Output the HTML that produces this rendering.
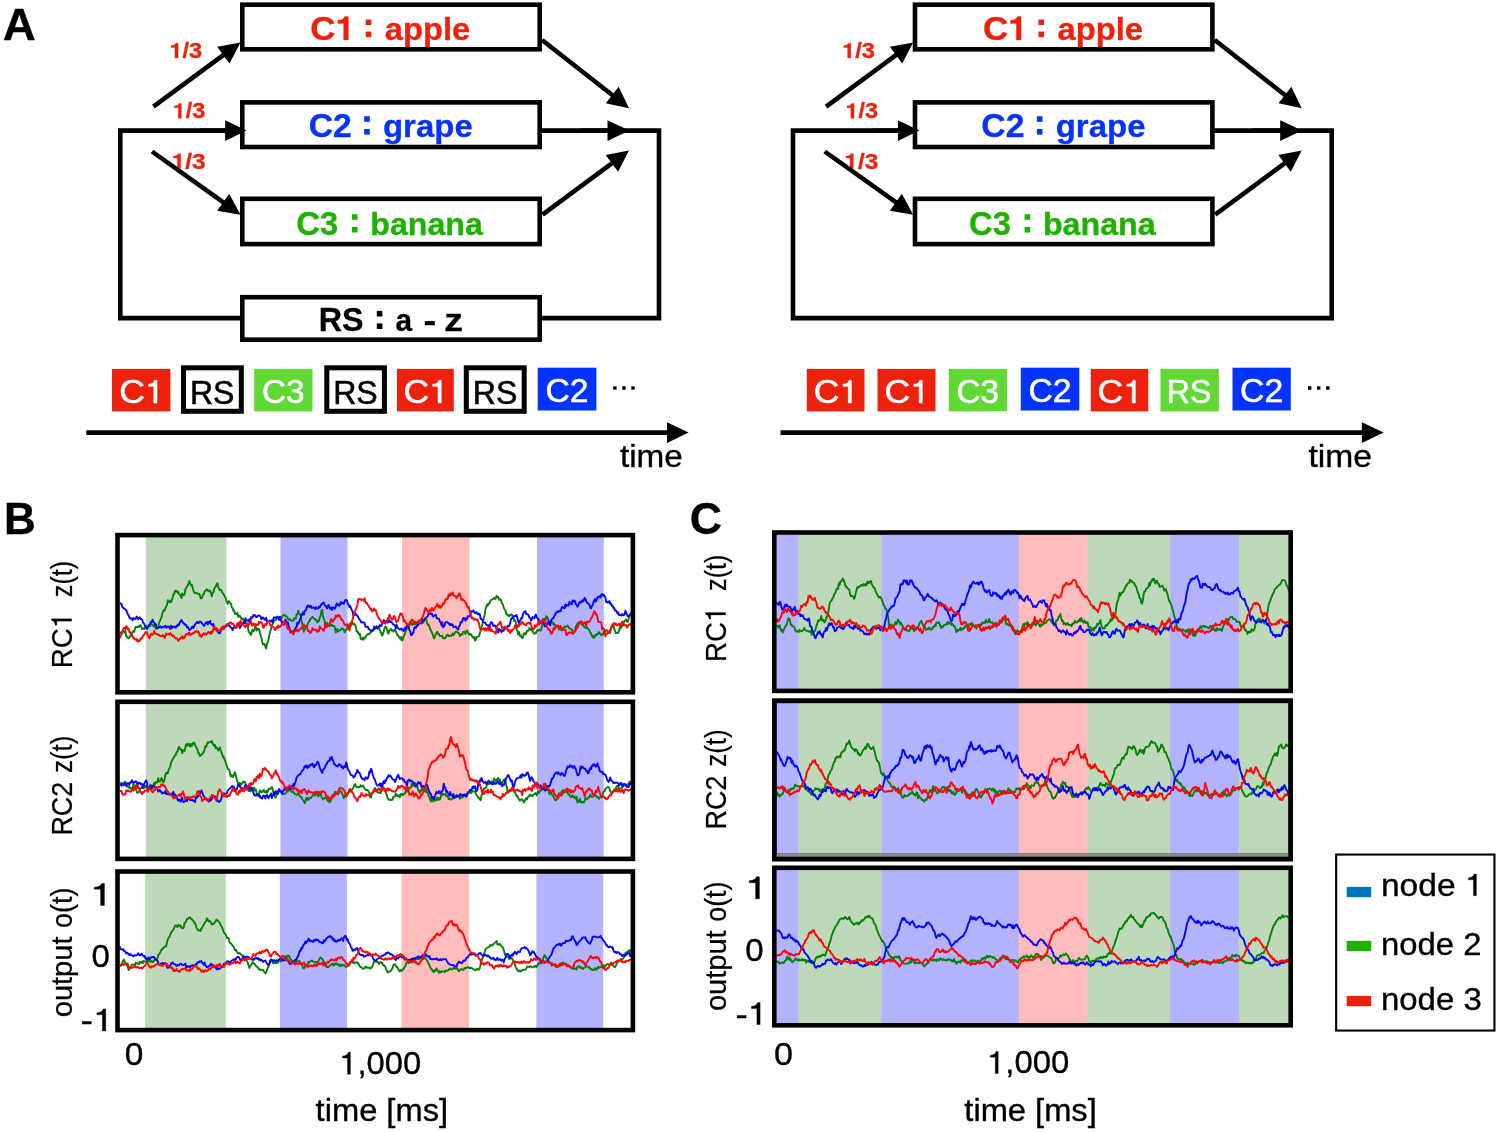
<!DOCTYPE html>
<html><head><meta charset="utf-8"><title>Figure</title>
<style>
html,body{margin:0;padding:0;background:#fff;}
body{width:1499px;height:1132px;overflow:hidden;}
svg{display:block;font-family:"Liberation Sans",sans-serif;}
</style></head><body>
<svg width="1499" height="1132" viewBox="0 0 1499 1132">
<defs><filter id="soft" x="0" y="0" width="100%" height="100%" filterUnits="userSpaceOnUse" color-interpolation-filters="sRGB"><feGaussianBlur stdDeviation="0.65"/></filter></defs>
<rect width="1499" height="1132" fill="#fff"/>
<g filter="url(#soft)">
<rect width="1499" height="1132" fill="#fff"/>
<g transform="translate(0,0)"><path d="M242.0,130.6 H120.3 V318.1 H242.0 M540.0,318.1 H659.0 V130.6 H540.0" fill="none" stroke="#000" stroke-width="4.6" stroke-linejoin="miter"/><rect x="242.30" y="4.70" width="297.40" height="44.60" fill="#fff" stroke="#000" stroke-width="4.6"/><rect x="242.30" y="102.40" width="297.40" height="44.60" fill="#fff" stroke="#000" stroke-width="4.6"/><rect x="242.30" y="198.80" width="297.40" height="45.30" fill="#fff" stroke="#000" stroke-width="4.6"/><rect x="242.30" y="297.20" width="297.40" height="42.50" fill="#fff" stroke="#000" stroke-width="4.6"/><g transform="translate(169.38,58.00) scale(1.1001,1)"><path transform="translate(0.00,0) scale(0.01050,-0.01050)" d="M478 0H759V1409H540C500 1260 370 1190 140 1185V1000H478Z" fill="#ee220c" stroke="#ee220c" stroke-width="28.6"/><text x="11.96" font-size="21.5" font-weight="bold" fill="#ee220c" stroke="#ee220c" stroke-width="0.3" xml:space="preserve">/3</text></g><g transform="translate(172.69,118.20) scale(1.0928,1)"><path transform="translate(0.00,0) scale(0.01050,-0.01050)" d="M478 0H759V1409H540C500 1260 370 1190 140 1185V1000H478Z" fill="#ee220c" stroke="#ee220c" stroke-width="28.6"/><text x="11.96" font-size="21.5" font-weight="bold" fill="#ee220c" stroke="#ee220c" stroke-width="0.3" xml:space="preserve">/3</text></g><g transform="translate(171.63,168.50) scale(1.1363,1)"><path transform="translate(0.00,0) scale(0.01050,-0.01050)" d="M478 0H759V1409H540C500 1260 370 1190 140 1185V1000H478Z" fill="#ee220c" stroke="#ee220c" stroke-width="28.6"/><text x="11.96" font-size="21.5" font-weight="bold" fill="#ee220c" stroke="#ee220c" stroke-width="0.3" xml:space="preserve">/3</text></g><line x1="153.40" y1="106.70" x2="224.96" y2="53.95" stroke="#000" stroke-width="4.6"/><polygon points="240.50,42.50 229.52,63.51 217.18,46.77" fill="#000"/><line x1="152.00" y1="151.50" x2="224.79" y2="203.48" stroke="#000" stroke-width="4.6"/><polygon points="240.50,214.70 217.12,210.78 229.21,193.86" fill="#000"/><line x1="200.00" y1="130.60" x2="227.20" y2="130.60" stroke="#000" stroke-width="4.6"/><polygon points="246.50,130.60 225.20,141.00 225.20,120.20" fill="#000"/><line x1="542.00" y1="40.00" x2="613.81" y2="96.29" stroke="#000" stroke-width="4.6"/><polygon points="629.00,108.20 605.82,103.24 618.65,86.87" fill="#000"/><line x1="542.50" y1="214.70" x2="613.49" y2="162.09" stroke="#000" stroke-width="4.6"/><polygon points="629.00,150.60 618.08,171.64 605.69,154.93" fill="#000"/><line x1="580.00" y1="130.60" x2="609.50" y2="130.60" stroke="#000" stroke-width="4.6"/><polygon points="629.30,130.60 607.50,141.00 607.50,120.20" fill="#000"/><g transform="translate(310.20,40.00) scale(1.0281,1)"><text x="0.00" font-size="34.0" font-weight="bold" fill="#ee220c" stroke="#ee220c" stroke-width="0.3" xml:space="preserve">C</text><path transform="translate(24.55,0) scale(0.01660,-0.01660)" d="M478 0H759V1409H540C500 1260 370 1190 140 1185V1000H478Z" fill="#ee220c" stroke="#ee220c" stroke-width="18.1"/></g><g transform="translate(384.72,40.00) scale(1.0243,1)"><text font-size="32" font-weight="bold" fill="#ee220c" stroke="#ee220c" stroke-width="0.3" xml:space="preserve">apple</text></g><rect x="365.70" y="19.50" width="5.6" height="5.6" fill="#ee220c"/><rect x="365.70" y="31.60" width="5.6" height="5.6" fill="#ee220c"/><g transform="translate(308.65,137.40) scale(0.9923,1)"><text font-size="34.0" font-weight="bold" fill="#0433ff" stroke="#0433ff" stroke-width="0.3" xml:space="preserve">C2</text></g><g transform="translate(382.98,137.40) scale(1.0307,1)"><text font-size="32" font-weight="bold" fill="#0433ff" stroke="#0433ff" stroke-width="0.3" xml:space="preserve">grape</text></g><rect x="364.20" y="116.20" width="5.6" height="5.6" fill="#0433ff"/><rect x="364.20" y="129.00" width="5.6" height="5.6" fill="#0433ff"/><g transform="translate(296.29,234.70) scale(0.9661,1)"><text font-size="34.0" font-weight="bold" fill="#1db100" stroke="#1db100" stroke-width="0.3" xml:space="preserve">C3</text></g><g transform="translate(370.21,234.70) scale(1.0067,1)"><text font-size="32" font-weight="bold" fill="#1db100" stroke="#1db100" stroke-width="0.3" xml:space="preserve">banana</text></g><rect x="351.90" y="214.20" width="5.6" height="5.6" fill="#1db100"/><rect x="351.90" y="226.90" width="5.6" height="5.6" fill="#1db100"/><g transform="translate(318.82,331.40) scale(0.9494,1)"><text font-size="34.0" font-weight="bold" fill="#000" stroke="#000" stroke-width="0.3" xml:space="preserve">RS</text></g><g transform="translate(395.40,331.40) scale(0.9331,1)"><text font-size="32" font-weight="bold" fill="#000" stroke="#000" stroke-width="0.3" xml:space="preserve">a</text></g><g transform="translate(423.48,331.40) scale(1.1881,1)"><text font-size="32" font-weight="bold" fill="#000" stroke="#000" stroke-width="0.3" xml:space="preserve">-</text></g><g transform="translate(444.19,331.40) scale(1.1765,1)"><text font-size="32" font-weight="bold" fill="#000" stroke="#000" stroke-width="0.3" xml:space="preserve">z</text></g><rect x="376.80" y="310.90" width="5.6" height="5.6" fill="#000"/><rect x="376.80" y="323.40" width="5.6" height="5.6" fill="#000"/></g>
<g transform="translate(672.7,0)"><path d="M242.0,130.6 H120.3 V318.1 H659.0 V130.6 H540.0" fill="none" stroke="#000" stroke-width="4.6" stroke-linejoin="miter"/><rect x="242.30" y="4.70" width="297.40" height="44.60" fill="#fff" stroke="#000" stroke-width="4.6"/><rect x="242.30" y="102.40" width="297.40" height="44.60" fill="#fff" stroke="#000" stroke-width="4.6"/><rect x="242.30" y="198.80" width="297.40" height="45.30" fill="#fff" stroke="#000" stroke-width="4.6"/><g transform="translate(169.38,58.00) scale(1.1001,1)"><path transform="translate(0.00,0) scale(0.01050,-0.01050)" d="M478 0H759V1409H540C500 1260 370 1190 140 1185V1000H478Z" fill="#ee220c" stroke="#ee220c" stroke-width="28.6"/><text x="11.96" font-size="21.5" font-weight="bold" fill="#ee220c" stroke="#ee220c" stroke-width="0.3" xml:space="preserve">/3</text></g><g transform="translate(172.69,118.20) scale(1.0928,1)"><path transform="translate(0.00,0) scale(0.01050,-0.01050)" d="M478 0H759V1409H540C500 1260 370 1190 140 1185V1000H478Z" fill="#ee220c" stroke="#ee220c" stroke-width="28.6"/><text x="11.96" font-size="21.5" font-weight="bold" fill="#ee220c" stroke="#ee220c" stroke-width="0.3" xml:space="preserve">/3</text></g><g transform="translate(171.63,168.50) scale(1.1363,1)"><path transform="translate(0.00,0) scale(0.01050,-0.01050)" d="M478 0H759V1409H540C500 1260 370 1190 140 1185V1000H478Z" fill="#ee220c" stroke="#ee220c" stroke-width="28.6"/><text x="11.96" font-size="21.5" font-weight="bold" fill="#ee220c" stroke="#ee220c" stroke-width="0.3" xml:space="preserve">/3</text></g><line x1="153.40" y1="106.70" x2="224.96" y2="53.95" stroke="#000" stroke-width="4.6"/><polygon points="240.50,42.50 229.52,63.51 217.18,46.77" fill="#000"/><line x1="152.00" y1="151.50" x2="224.79" y2="203.48" stroke="#000" stroke-width="4.6"/><polygon points="240.50,214.70 217.12,210.78 229.21,193.86" fill="#000"/><line x1="200.00" y1="130.60" x2="227.20" y2="130.60" stroke="#000" stroke-width="4.6"/><polygon points="246.50,130.60 225.20,141.00 225.20,120.20" fill="#000"/><line x1="542.00" y1="40.00" x2="613.81" y2="96.29" stroke="#000" stroke-width="4.6"/><polygon points="629.00,108.20 605.82,103.24 618.65,86.87" fill="#000"/><line x1="542.50" y1="214.70" x2="613.49" y2="162.09" stroke="#000" stroke-width="4.6"/><polygon points="629.00,150.60 618.08,171.64 605.69,154.93" fill="#000"/><line x1="580.00" y1="130.60" x2="609.50" y2="130.60" stroke="#000" stroke-width="4.6"/><polygon points="629.30,130.60 607.50,141.00 607.50,120.20" fill="#000"/><g transform="translate(310.20,40.00) scale(1.0281,1)"><text x="0.00" font-size="34.0" font-weight="bold" fill="#ee220c" stroke="#ee220c" stroke-width="0.3" xml:space="preserve">C</text><path transform="translate(24.55,0) scale(0.01660,-0.01660)" d="M478 0H759V1409H540C500 1260 370 1190 140 1185V1000H478Z" fill="#ee220c" stroke="#ee220c" stroke-width="18.1"/></g><g transform="translate(384.72,40.00) scale(1.0243,1)"><text font-size="32" font-weight="bold" fill="#ee220c" stroke="#ee220c" stroke-width="0.3" xml:space="preserve">apple</text></g><rect x="365.70" y="19.50" width="5.6" height="5.6" fill="#ee220c"/><rect x="365.70" y="31.60" width="5.6" height="5.6" fill="#ee220c"/><g transform="translate(308.65,137.40) scale(0.9923,1)"><text font-size="34.0" font-weight="bold" fill="#0433ff" stroke="#0433ff" stroke-width="0.3" xml:space="preserve">C2</text></g><g transform="translate(382.98,137.40) scale(1.0307,1)"><text font-size="32" font-weight="bold" fill="#0433ff" stroke="#0433ff" stroke-width="0.3" xml:space="preserve">grape</text></g><rect x="364.20" y="116.20" width="5.6" height="5.6" fill="#0433ff"/><rect x="364.20" y="129.00" width="5.6" height="5.6" fill="#0433ff"/><g transform="translate(296.29,234.70) scale(0.9661,1)"><text font-size="34.0" font-weight="bold" fill="#1db100" stroke="#1db100" stroke-width="0.3" xml:space="preserve">C3</text></g><g transform="translate(370.21,234.70) scale(1.0067,1)"><text font-size="32" font-weight="bold" fill="#1db100" stroke="#1db100" stroke-width="0.3" xml:space="preserve">banana</text></g><rect x="351.90" y="214.20" width="5.6" height="5.6" fill="#1db100"/><rect x="351.90" y="226.90" width="5.6" height="5.6" fill="#1db100"/></g>
<g transform="translate(2.76,39.60) scale(1.0149,1)"><text font-size="45.0" font-weight="bold" fill="#000" stroke="#000" stroke-width="0.3" xml:space="preserve">A</text></g>
<g transform="translate(4.03,534.10) scale(0.9985,1)"><text font-size="44.0" font-weight="bold" fill="#000" stroke="#000" stroke-width="0.3" xml:space="preserve">B</text></g>
<g transform="translate(689.72,533.50) scale(1.0132,1)"><text font-size="44.0" font-weight="bold" fill="#000" stroke="#000" stroke-width="0.3" xml:space="preserve">C</text></g>
<rect x="112.00" y="368.90" width="58.40" height="42.50" fill="#ee220c"/><g transform="translate(119.22,403.00) scale(1.0779,1)"><text x="0.00" font-size="33" fill="#fff" stroke="#fff" stroke-width="0.55" xml:space="preserve">C</text><path transform="translate(23.83,0) scale(0.01611,-0.01611)" d="M515 0H696V1409H560C520 1250 400 1165 210 1160V1035H515Z" fill="#fff" stroke="#fff" stroke-width="34.1"/></g>
<rect x="183.50" y="367.80" width="57.80" height="43.50" fill="#fff" stroke="#000" stroke-width="5.0"/><g transform="translate(189.95,403.60) scale(0.9716,1)"><text font-size="33" fill="#000" stroke="#000" stroke-width="0.55" xml:space="preserve">RS</text></g>
<rect x="254.20" y="368.90" width="58.30" height="42.50" fill="#61d836"/><g transform="translate(261.93,403.00) scale(1.0101,1)"><text font-size="33" fill="#fff" stroke="#fff" stroke-width="0.55" xml:space="preserve">C3</text></g>
<rect x="326.80" y="367.80" width="57.60" height="43.50" fill="#fff" stroke="#000" stroke-width="5.0"/><g transform="translate(333.15,403.60) scale(0.9716,1)"><text font-size="33" fill="#000" stroke="#000" stroke-width="0.55" xml:space="preserve">RS</text></g>
<rect x="397.00" y="368.90" width="56.80" height="42.50" fill="#ee220c"/><g transform="translate(403.42,403.00) scale(1.0779,1)"><text x="0.00" font-size="33" fill="#fff" stroke="#fff" stroke-width="0.55" xml:space="preserve">C</text><path transform="translate(23.83,0) scale(0.01611,-0.01611)" d="M515 0H696V1409H560C520 1250 400 1165 210 1160V1035H515Z" fill="#fff" stroke="#fff" stroke-width="34.1"/></g>
<rect x="466.30" y="367.80" width="57.90" height="43.50" fill="#fff" stroke="#000" stroke-width="5.0"/><g transform="translate(472.80,403.60) scale(0.9716,1)"><text font-size="33" fill="#000" stroke="#000" stroke-width="0.55" xml:space="preserve">RS</text></g>
<rect x="537.70" y="367.70" width="58.70" height="42.80" fill="#0433ff"/><g transform="translate(545.51,402.30) scale(1.0217,1)"><text font-size="33" fill="#fff" stroke="#fff" stroke-width="0.55" xml:space="preserve">C2</text></g>
<rect x="613.20" y="386.30" width="3.4" height="3.4" fill="#000"/><rect x="622.25" y="386.30" width="3.4" height="3.4" fill="#000"/><rect x="631.30" y="386.30" width="3.4" height="3.4" fill="#000"/>
<rect x="806.80" y="368.90" width="57.70" height="42.50" fill="#ee220c"/><g transform="translate(813.67,403.00) scale(1.0779,1)"><text x="0.00" font-size="33" fill="#fff" stroke="#fff" stroke-width="0.55" xml:space="preserve">C</text><path transform="translate(23.83,0) scale(0.01611,-0.01611)" d="M515 0H696V1409H560C520 1250 400 1165 210 1160V1035H515Z" fill="#fff" stroke="#fff" stroke-width="34.1"/></g>
<rect x="877.50" y="368.90" width="58.00" height="42.50" fill="#ee220c"/><g transform="translate(884.52,403.00) scale(1.0779,1)"><text x="0.00" font-size="33" fill="#fff" stroke="#fff" stroke-width="0.55" xml:space="preserve">C</text><path transform="translate(23.83,0) scale(0.01611,-0.01611)" d="M515 0H696V1409H560C520 1250 400 1165 210 1160V1035H515Z" fill="#fff" stroke="#fff" stroke-width="34.1"/></g>
<rect x="948.80" y="368.90" width="58.20" height="42.50" fill="#61d836"/><g transform="translate(956.48,403.00) scale(1.0101,1)"><text font-size="33" fill="#fff" stroke="#fff" stroke-width="0.55" xml:space="preserve">C3</text></g>
<rect x="1020.80" y="367.70" width="58.50" height="42.80" fill="#0433ff"/><g transform="translate(1028.51,402.30) scale(1.0217,1)"><text font-size="33" fill="#fff" stroke="#fff" stroke-width="0.55" xml:space="preserve">C2</text></g>
<rect x="1090.80" y="368.90" width="57.50" height="42.50" fill="#ee220c"/><g transform="translate(1097.57,403.00) scale(1.0779,1)"><text x="0.00" font-size="33" fill="#fff" stroke="#fff" stroke-width="0.55" xml:space="preserve">C</text><path transform="translate(23.83,0) scale(0.01611,-0.01611)" d="M515 0H696V1409H560C520 1250 400 1165 210 1160V1035H515Z" fill="#fff" stroke="#fff" stroke-width="34.1"/></g>
<rect x="1160.50" y="368.90" width="58.30" height="42.50" fill="#61d836"/><g transform="translate(1166.80,403.00) scale(0.9716,1)"><text font-size="33" fill="#fff" stroke="#fff" stroke-width="0.55" xml:space="preserve">RS</text></g>
<rect x="1232.50" y="367.70" width="58.30" height="42.80" fill="#0433ff"/><g transform="translate(1240.11,402.30) scale(1.0217,1)"><text font-size="33" fill="#fff" stroke="#fff" stroke-width="0.55" xml:space="preserve">C2</text></g>
<rect x="1308.00" y="386.30" width="3.4" height="3.4" fill="#000"/><rect x="1317.05" y="386.30" width="3.4" height="3.4" fill="#000"/><rect x="1326.10" y="386.30" width="3.4" height="3.4" fill="#000"/>
<line x1="86.3" y1="432.6" x2="669.0" y2="432.6" stroke="#000" stroke-width="4.8"/><polygon points="688.6,432.6 667.0,422.15000000000003 667.0,443.05" fill="#000"/>
<line x1="780.5" y1="432.6" x2="1363.9" y2="432.6" stroke="#000" stroke-width="4.8"/><polygon points="1383.5,432.6 1361.9,422.15000000000003 1361.9,443.05" fill="#000"/>
<g transform="translate(619.90,467.40) scale(1.0565,1)"><text font-size="31.5" fill="#000" stroke="#000" stroke-width="0.35" xml:space="preserve">time</text></g>
<g transform="translate(1308.50,467.40) scale(1.0669,1)"><text font-size="31.5" fill="#000" stroke="#000" stroke-width="0.35" xml:space="preserve">time</text></g>
<rect x="145.80" y="535.10" width="80.60" height="157.20" fill="#bed9ba"/><rect x="280.50" y="535.10" width="67.00" height="157.20" fill="#b3b3ff"/><rect x="402.00" y="535.10" width="67.50" height="157.20" fill="#ffbcbc"/><rect x="537.00" y="535.10" width="66.80" height="157.20" fill="#b3b3ff"/><path d="M119.8,633.1 L120.6,633.2 L121.4,632.1 L122.2,631.7 L123.0,630.6 L123.8,631.4 L124.6,632.6 L125.4,631.1 L126.2,636.0 L127.0,636.6 L127.8,638.0 L128.6,638.4 L129.4,637.5 L130.2,635.2 L131.0,635.8 L131.8,635.4 L132.6,631.1 L133.4,631.7 L134.2,631.7 L135.0,628.4 L135.8,626.7 L136.6,627.4 L137.4,627.1 L138.2,626.3 L139.0,626.9 L139.8,625.5 L140.6,625.2 L141.4,627.4 L142.2,629.1 L143.0,628.6 L143.8,628.1 L144.6,629.1 L145.4,626.8 L146.2,626.5 L147.0,626.9 L147.8,627.8 L148.6,626.0 L149.4,624.5 L150.2,625.9 L151.0,623.4 L151.8,624.2 L152.6,624.7 L153.4,626.4 L154.2,626.5 L155.0,626.0 L155.8,628.8 L156.6,628.9 L157.4,628.1 L158.2,627.8 L159.0,622.7 L159.8,621.2 L160.6,619.4 L161.4,617.7 L162.2,614.0 L163.0,611.8 L163.8,609.9 L164.6,610.7 L165.4,608.3 L166.2,606.6 L167.0,605.1 L167.8,600.2 L168.6,601.7 L169.4,602.3 L170.2,600.7 L171.0,602.2 L171.8,600.6 L172.6,597.8 L173.4,594.3 L174.2,594.1 L175.0,591.1 L175.8,590.4 L176.6,591.0 L177.4,592.4 L178.2,591.7 L179.0,594.2 L179.8,594.6 L180.6,596.0 L181.4,598.3 L182.2,593.5 L183.0,595.4 L183.8,595.6 L184.6,594.3 L185.4,589.1 L186.2,588.0 L187.0,586.5 L187.8,585.2 L188.6,583.4 L189.4,581.0 L190.2,583.8 L191.0,585.2 L191.8,584.8 L192.6,587.2 L193.4,590.7 L194.2,592.2 L195.0,593.2 L195.8,592.9 L196.6,592.9 L197.4,593.7 L198.2,594.1 L199.0,593.7 L199.8,595.0 L200.6,598.1 L201.4,598.5 L202.2,597.2 L203.0,594.4 L203.8,594.2 L204.6,591.4 L205.4,590.7 L206.2,590.0 L207.0,589.3 L207.8,590.7 L208.6,591.2 L209.4,590.5 L210.2,590.6 L211.0,593.2 L211.8,596.3 L212.6,593.0 L213.4,592.6 L214.2,588.9 L215.0,587.4 L215.8,586.6 L216.6,584.0 L217.4,583.2 L218.2,586.5 L219.0,588.7 L219.8,590.0 L220.6,589.8 L221.4,590.5 L222.2,592.3 L223.0,593.5 L223.8,594.9 L224.6,595.9 L225.4,597.4 L226.2,600.1 L227.0,602.0 L227.8,604.0 L228.6,601.3 L229.4,601.6 L230.2,603.1 L231.0,603.8 L231.8,607.5 L232.6,608.0 L233.4,610.9 L234.2,610.8 L235.0,613.9 L235.8,613.4 L236.6,614.2 L237.4,612.8 L238.2,616.9 L239.0,616.5 L239.8,615.6 L240.6,617.1 L241.4,619.3 L242.2,618.4 L243.0,618.5 L243.8,621.8 L244.6,620.8 L245.4,622.5 L246.2,624.0 L247.0,623.2 L247.8,625.2 L248.6,631.9 L249.4,632.3 L250.2,633.7 L251.0,635.0 L251.8,631.7 L252.6,629.6 L253.4,631.3 L254.2,630.3 L255.0,627.6 L255.8,626.4 L256.6,630.6 L257.4,629.4 L258.2,628.5 L259.0,629.2 L259.8,632.1 L260.6,635.5 L261.4,637.7 L262.2,641.9 L263.0,644.4 L263.8,643.9 L264.6,644.0 L265.4,647.1 L266.2,648.5 L267.0,643.9 L267.8,642.2 L268.6,639.3 L269.4,634.7 L270.2,631.1 L271.0,629.4 L271.8,625.5 L272.6,623.9 L273.4,622.8 L274.2,620.5 L275.0,620.2 L275.8,620.4 L276.6,618.9 L277.4,617.0 L278.2,617.0 L279.0,618.1 L279.8,616.9 L280.6,618.2 L281.4,618.3 L282.2,616.3 L283.0,615.5 L283.8,614.8 L284.6,614.9 L285.4,616.0 L286.2,616.1 L287.0,616.8 L287.8,618.1 L288.6,619.9 L289.4,619.2 L290.2,619.4 L291.0,620.2 L291.8,621.1 L292.6,620.9 L293.4,620.6 L294.2,618.1 L295.0,618.6 L295.8,618.7 L296.6,614.5 L297.4,614.3 L298.2,610.8 L299.0,612.8 L299.8,614.7 L300.6,614.3 L301.4,620.4 L302.2,623.6 L303.0,628.3 L303.8,631.7 L304.6,629.4 L305.4,627.4 L306.2,625.9 L307.0,625.6 L307.8,624.0 L308.6,622.0 L309.4,621.2 L310.2,619.8 L311.0,618.1 L311.8,618.1 L312.6,616.8 L313.4,617.8 L314.2,618.6 L315.0,619.0 L315.8,620.4 L316.6,620.0 L317.4,622.5 L318.2,621.3 L319.0,620.9 L319.8,617.2 L320.6,615.7 L321.4,610.9 L322.2,609.7 L323.0,616.3 L323.8,618.4 L324.6,621.0 L325.4,626.5 L326.2,627.1 L327.0,622.6 L327.8,625.3 L328.6,624.9 L329.4,626.3 L330.2,626.1 L331.0,624.2 L331.8,624.9 L332.6,626.1 L333.4,625.9 L334.2,626.0 L335.0,628.0 L335.8,632.6 L336.6,631.1 L337.4,628.9 L338.2,631.4 L339.0,630.6 L339.8,630.3 L340.6,629.9 L341.4,628.8 L342.2,628.5 L343.0,628.5 L343.8,629.9 L344.6,632.3 L345.4,630.2 L346.2,630.0 L347.0,628.7 L347.8,627.9 L348.6,627.0 L349.4,626.2 L350.2,623.1 L351.0,625.4 L351.8,621.2 L352.6,622.8 L353.4,624.6 L354.2,623.8 L355.0,624.6 L355.8,626.8 L356.6,631.5 L357.4,631.3 L358.2,632.8 L359.0,634.5 L359.8,633.6 L360.6,638.5 L361.4,639.2 L362.2,638.0 L363.0,639.8 L363.8,637.6 L364.6,638.6 L365.4,637.5 L366.2,635.4 L367.0,635.0 L367.8,634.0 L368.6,634.3 L369.4,634.2 L370.2,632.7 L371.0,632.4 L371.8,631.0 L372.6,630.9 L373.4,629.9 L374.2,628.4 L375.0,628.9 L375.8,628.3 L376.6,625.9 L377.4,628.8 L378.2,628.5 L379.0,627.7 L379.8,630.1 L380.6,632.2 L381.4,632.9 L382.2,635.7 L383.0,633.8 L383.8,631.2 L384.6,628.0 L385.4,626.5 L386.2,627.2 L387.0,628.8 L387.8,632.8 L388.6,633.6 L389.4,630.6 L390.2,629.7 L391.0,629.0 L391.8,630.5 L392.6,630.2 L393.4,631.6 L394.2,630.3 L395.0,629.5 L395.8,631.3 L396.6,633.2 L397.4,635.4 L398.2,635.3 L399.0,637.3 L399.8,638.0 L400.6,639.4 L401.4,636.8 L402.2,640.6 L403.0,638.6 L403.8,636.3 L404.6,634.7 L405.4,631.9 L406.2,630.0 L407.0,628.0 L407.8,628.3 L408.6,626.4 L409.4,626.2 L410.2,623.5 L411.0,621.0 L411.8,624.4 L412.6,625.1 L413.4,623.7 L414.2,624.2 L415.0,621.7 L415.8,622.7 L416.6,623.6 L417.4,625.7 L418.2,623.7 L419.0,620.2 L419.8,621.9 L420.6,622.1 L421.4,621.9 L422.2,622.2 L423.0,622.7 L423.8,621.4 L424.6,619.2 L425.4,618.9 L426.2,619.3 L427.0,622.9 L427.8,625.0 L428.6,624.8 L429.4,626.6 L430.2,629.3 L431.0,630.2 L431.8,632.5 L432.6,634.0 L433.4,636.8 L434.2,638.5 L435.0,635.9 L435.8,634.4 L436.6,632.2 L437.4,631.7 L438.2,634.1 L439.0,634.0 L439.8,636.2 L440.6,636.0 L441.4,635.9 L442.2,635.6 L443.0,638.3 L443.8,638.1 L444.6,638.5 L445.4,638.2 L446.2,636.1 L447.0,635.2 L447.8,634.5 L448.6,636.2 L449.4,636.1 L450.2,635.4 L451.0,635.9 L451.8,635.5 L452.6,633.3 L453.4,635.3 L454.2,634.1 L455.0,632.5 L455.8,631.7 L456.6,631.5 L457.4,632.4 L458.2,632.6 L459.0,633.4 L459.8,636.1 L460.6,635.3 L461.4,634.1 L462.2,634.7 L463.0,632.2 L463.8,631.9 L464.6,631.7 L465.4,633.9 L466.2,632.0 L467.0,630.5 L467.8,632.0 L468.6,634.3 L469.4,634.6 L470.2,633.7 L471.0,634.3 L471.8,636.2 L472.6,636.6 L473.4,638.0 L474.2,636.7 L475.0,640.7 L475.8,639.8 L476.6,637.1 L477.4,637.2 L478.2,636.4 L479.0,636.2 L479.8,633.3 L480.6,630.6 L481.4,627.7 L482.2,625.2 L483.0,621.3 L483.8,617.6 L484.6,615.6 L485.4,609.5 L486.2,607.1 L487.0,604.5 L487.8,605.5 L488.6,603.3 L489.4,603.8 L490.2,601.0 L491.0,600.0 L491.8,599.9 L492.6,599.2 L493.4,598.3 L494.2,597.9 L495.0,599.1 L495.8,598.4 L496.6,595.7 L497.4,597.1 L498.2,596.9 L499.0,599.8 L499.8,599.8 L500.6,599.2 L501.4,601.6 L502.2,603.7 L503.0,604.8 L503.8,607.9 L504.6,609.5 L505.4,610.5 L506.2,613.1 L507.0,614.4 L507.8,615.6 L508.6,614.9 L509.4,616.4 L510.2,615.0 L511.0,614.5 L511.8,614.4 L512.6,616.9 L513.4,617.7 L514.2,621.1 L515.0,620.4 L515.8,622.2 L516.6,629.4 L517.4,631.0 L518.2,634.5 L519.0,632.0 L519.8,635.8 L520.6,635.1 L521.4,637.0 L522.2,638.3 L523.0,636.9 L523.8,633.4 L524.6,633.3 L525.4,634.6 L526.2,633.1 L527.0,630.7 L527.8,631.3 L528.6,629.8 L529.4,627.9 L530.2,629.3 L531.0,630.4 L531.8,628.5 L532.6,630.6 L533.4,633.1 L534.2,633.7 L535.0,633.3 L535.8,633.4 L536.6,631.1 L537.4,630.0 L538.2,630.6 L539.0,630.1 L539.8,630.0 L540.6,630.7 L541.4,628.8 L542.2,625.0 L543.0,623.1 L543.8,620.0 L544.6,618.9 L545.4,620.3 L546.2,616.1 L547.0,616.8 L547.8,618.5 L548.6,620.3 L549.4,622.8 L550.2,622.6 L551.0,620.3 L551.8,622.4 L552.6,621.9 L553.4,624.8 L554.2,623.7 L555.0,624.9 L555.8,626.0 L556.6,625.9 L557.4,626.0 L558.2,626.7 L559.0,629.4 L559.8,629.0 L560.6,629.9 L561.4,630.2 L562.2,630.3 L563.0,628.3 L563.8,627.6 L564.6,626.6 L565.4,627.3 L566.2,626.8 L567.0,625.8 L567.8,625.8 L568.6,627.0 L569.4,628.4 L570.2,628.6 L571.0,629.1 L571.8,629.3 L572.6,631.3 L573.4,631.3 L574.2,631.9 L575.0,631.2 L575.8,626.6 L576.6,625.7 L577.4,623.7 L578.2,622.4 L579.0,622.5 L579.8,623.3 L580.6,621.3 L581.4,622.0 L582.2,624.9 L583.0,624.2 L583.8,626.7 L584.6,626.7 L585.4,628.1 L586.2,628.1 L587.0,627.2 L587.8,628.8 L588.6,629.3 L589.4,630.8 L590.2,632.7 L591.0,633.3 L591.8,635.6 L592.6,637.2 L593.4,635.8 L594.2,637.9 L595.0,636.1 L595.8,634.6 L596.6,635.2 L597.4,633.8 L598.2,634.0 L599.0,632.1 L599.8,633.3 L600.6,634.5 L601.4,635.3 L602.2,634.0 L603.0,634.9 L603.8,631.7 L604.6,631.2 L605.4,631.5 L606.2,629.8 L607.0,630.4 L607.8,631.1 L608.6,631.9 L609.4,632.1 L610.2,632.9 L611.0,628.1 L611.8,627.3 L612.6,626.2 L613.4,625.4 L614.2,628.9 L615.0,630.8 L615.8,633.2 L616.6,633.0 L617.4,633.2 L618.2,632.9 L619.0,630.4 L619.8,627.5 L620.6,628.6 L621.4,626.3 L622.2,626.6 L623.0,624.8 L623.8,622.6 L624.6,620.6 L625.4,620.4 L626.2,619.5 L627.0,621.7 L627.8,621.8 L628.6,618.7 L629.4,615.3 L630.2,614.6 L631.0,613.9 L631.8,612.8 L632.6,611.3" fill="none" stroke="#058205" stroke-width="1.9" stroke-linejoin="round"/><path d="M119.8,603.7 L120.6,603.5 L121.4,603.6 L122.2,606.9 L123.0,607.5 L123.8,608.5 L124.6,608.5 L125.4,609.8 L126.2,609.9 L127.0,612.1 L127.8,614.4 L128.6,615.2 L129.4,617.6 L130.2,618.6 L131.0,618.1 L131.8,618.6 L132.6,620.5 L133.4,618.2 L134.2,618.3 L135.0,619.1 L135.8,618.7 L136.6,616.6 L137.4,617.3 L138.2,619.3 L139.0,617.9 L139.8,617.3 L140.6,619.0 L141.4,619.0 L142.2,619.9 L143.0,622.6 L143.8,623.3 L144.6,624.7 L145.4,626.9 L146.2,626.3 L147.0,629.0 L147.8,626.7 L148.6,626.7 L149.4,625.0 L150.2,623.6 L151.0,621.7 L151.8,621.8 L152.6,619.7 L153.4,621.8 L154.2,622.6 L155.0,624.8 L155.8,624.1 L156.6,627.6 L157.4,628.1 L158.2,627.4 L159.0,627.5 L159.8,626.9 L160.6,626.4 L161.4,627.9 L162.2,626.8 L163.0,627.2 L163.8,627.2 L164.6,626.3 L165.4,625.7 L166.2,627.6 L167.0,627.1 L167.8,626.4 L168.6,626.8 L169.4,626.7 L170.2,628.9 L171.0,625.6 L171.8,628.4 L172.6,626.4 L173.4,626.8 L174.2,626.8 L175.0,627.5 L175.8,627.5 L176.6,625.7 L177.4,626.0 L178.2,624.3 L179.0,624.9 L179.8,622.2 L180.6,621.5 L181.4,620.0 L182.2,621.4 L183.0,622.7 L183.8,623.1 L184.6,624.7 L185.4,624.4 L186.2,624.8 L187.0,627.6 L187.8,627.0 L188.6,628.2 L189.4,630.3 L190.2,629.5 L191.0,629.0 L191.8,627.1 L192.6,626.5 L193.4,628.1 L194.2,626.4 L195.0,624.3 L195.8,623.8 L196.6,622.1 L197.4,621.9 L198.2,623.2 L199.0,622.9 L199.8,621.5 L200.6,621.8 L201.4,622.5 L202.2,623.9 L203.0,624.2 L203.8,625.7 L204.6,625.5 L205.4,623.0 L206.2,623.1 L207.0,621.9 L207.8,624.5 L208.6,621.9 L209.4,622.7 L210.2,620.9 L211.0,624.2 L211.8,624.5 L212.6,625.6 L213.4,624.0 L214.2,627.5 L215.0,629.1 L215.8,628.7 L216.6,629.6 L217.4,631.4 L218.2,632.6 L219.0,633.2 L219.8,633.2 L220.6,631.4 L221.4,629.9 L222.2,627.4 L223.0,628.5 L223.8,628.9 L224.6,626.3 L225.4,627.1 L226.2,625.9 L227.0,624.2 L227.8,624.1 L228.6,625.6 L229.4,625.4 L230.2,626.7 L231.0,627.8 L231.8,628.0 L232.6,630.3 L233.4,628.0 L234.2,627.7 L235.0,627.5 L235.8,627.5 L236.6,627.7 L237.4,623.9 L238.2,624.9 L239.0,625.1 L239.8,627.9 L240.6,626.9 L241.4,625.0 L242.2,624.3 L243.0,622.7 L243.8,623.4 L244.6,623.2 L245.4,618.1 L246.2,620.6 L247.0,620.7 L247.8,620.2 L248.6,621.0 L249.4,619.2 L250.2,621.0 L251.0,617.2 L251.8,617.9 L252.6,617.7 L253.4,615.0 L254.2,615.2 L255.0,615.3 L255.8,616.8 L256.6,617.2 L257.4,616.6 L258.2,615.3 L259.0,615.6 L259.8,615.7 L260.6,616.6 L261.4,619.1 L262.2,618.5 L263.0,617.4 L263.8,618.2 L264.6,619.8 L265.4,619.9 L266.2,617.8 L267.0,621.8 L267.8,621.4 L268.6,621.3 L269.4,621.8 L270.2,620.4 L271.0,621.2 L271.8,620.4 L272.6,622.4 L273.4,618.5 L274.2,617.3 L275.0,617.6 L275.8,617.4 L276.6,618.1 L277.4,616.6 L278.2,618.2 L279.0,619.9 L279.8,616.6 L280.6,619.5 L281.4,621.4 L282.2,623.0 L283.0,622.1 L283.8,624.7 L284.6,622.5 L285.4,619.7 L286.2,621.7 L287.0,622.8 L287.8,622.2 L288.6,626.2 L289.4,627.5 L290.2,630.9 L291.0,632.7 L291.8,631.3 L292.6,631.7 L293.4,632.4 L294.2,630.2 L295.0,629.8 L295.8,627.2 L296.6,627.2 L297.4,622.5 L298.2,623.8 L299.0,622.3 L299.8,620.0 L300.6,617.8 L301.4,615.3 L302.2,614.7 L303.0,612.3 L303.8,614.7 L304.6,611.1 L305.4,610.4 L306.2,609.8 L307.0,606.6 L307.8,605.5 L308.6,606.1 L309.4,607.3 L310.2,605.8 L311.0,606.2 L311.8,608.0 L312.6,607.7 L313.4,607.5 L314.2,607.6 L315.0,609.1 L315.8,607.2 L316.6,608.4 L317.4,608.5 L318.2,608.3 L319.0,606.5 L319.8,607.6 L320.6,605.7 L321.4,604.3 L322.2,603.7 L323.0,602.9 L323.8,602.6 L324.6,605.2 L325.4,605.7 L326.2,606.1 L327.0,608.4 L327.8,607.1 L328.6,604.9 L329.4,607.0 L330.2,608.7 L331.0,607.4 L331.8,610.0 L332.6,607.8 L333.4,607.2 L334.2,608.7 L335.0,608.8 L335.8,606.3 L336.6,603.5 L337.4,604.9 L338.2,604.3 L339.0,605.8 L339.8,605.2 L340.6,602.1 L341.4,603.8 L342.2,602.6 L343.0,603.4 L343.8,603.8 L344.6,601.7 L345.4,600.0 L346.2,600.0 L347.0,600.7 L347.8,603.1 L348.6,604.9 L349.4,607.1 L350.2,606.1 L351.0,608.1 L351.8,610.3 L352.6,610.9 L353.4,616.0 L354.2,614.1 L355.0,614.8 L355.8,613.8 L356.6,615.3 L357.4,615.8 L358.2,617.0 L359.0,619.0 L359.8,619.6 L360.6,620.9 L361.4,622.6 L362.2,622.4 L363.0,622.1 L363.8,622.4 L364.6,623.1 L365.4,626.7 L366.2,626.9 L367.0,626.7 L367.8,626.7 L368.6,629.0 L369.4,629.2 L370.2,630.1 L371.0,631.1 L371.8,631.3 L372.6,629.7 L373.4,630.2 L374.2,626.5 L375.0,628.0 L375.8,628.0 L376.6,627.5 L377.4,628.2 L378.2,626.6 L379.0,626.7 L379.8,625.1 L380.6,626.1 L381.4,626.1 L382.2,623.3 L383.0,622.2 L383.8,620.1 L384.6,620.7 L385.4,621.4 L386.2,621.3 L387.0,622.1 L387.8,622.6 L388.6,621.6 L389.4,620.2 L390.2,622.1 L391.0,621.3 L391.8,622.3 L392.6,623.6 L393.4,624.6 L394.2,624.6 L395.0,625.6 L395.8,628.4 L396.6,624.9 L397.4,627.1 L398.2,628.3 L399.0,628.9 L399.8,629.5 L400.6,629.2 L401.4,628.4 L402.2,630.4 L403.0,629.7 L403.8,630.9 L404.6,628.3 L405.4,629.2 L406.2,627.0 L407.0,625.7 L407.8,624.9 L408.6,627.4 L409.4,630.0 L410.2,631.3 L411.0,635.1 L411.8,635.0 L412.6,633.1 L413.4,632.7 L414.2,628.2 L415.0,626.9 L415.8,627.9 L416.6,626.3 L417.4,625.5 L418.2,625.2 L419.0,623.5 L419.8,623.0 L420.6,623.1 L421.4,623.6 L422.2,621.3 L423.0,619.6 L423.8,620.6 L424.6,619.7 L425.4,618.0 L426.2,617.4 L427.0,616.9 L427.8,616.3 L428.6,613.2 L429.4,612.7 L430.2,614.0 L431.0,614.1 L431.8,613.4 L432.6,616.2 L433.4,616.6 L434.2,615.6 L435.0,614.9 L435.8,614.7 L436.6,617.9 L437.4,618.5 L438.2,618.7 L439.0,618.6 L439.8,621.7 L440.6,622.2 L441.4,625.3 L442.2,622.2 L443.0,627.3 L443.8,626.7 L444.6,625.4 L445.4,622.3 L446.2,622.0 L447.0,622.1 L447.8,622.5 L448.6,623.8 L449.4,623.5 L450.2,625.3 L451.0,624.0 L451.8,625.3 L452.6,624.5 L453.4,627.0 L454.2,626.8 L455.0,626.9 L455.8,626.4 L456.6,628.1 L457.4,628.8 L458.2,629.7 L459.0,626.3 L459.8,625.9 L460.6,622.1 L461.4,622.5 L462.2,621.7 L463.0,618.3 L463.8,617.9 L464.6,618.7 L465.4,620.6 L466.2,618.0 L467.0,619.3 L467.8,616.1 L468.6,616.6 L469.4,616.1 L470.2,615.7 L471.0,611.0 L471.8,611.6 L472.6,611.6 L473.4,610.4 L474.2,612.3 L475.0,613.2 L475.8,612.3 L476.6,612.3 L477.4,614.1 L478.2,613.6 L479.0,614.7 L479.8,613.9 L480.6,618.7 L481.4,618.8 L482.2,620.1 L483.0,620.8 L483.8,622.4 L484.6,622.6 L485.4,622.9 L486.2,624.7 L487.0,625.3 L487.8,625.1 L488.6,626.5 L489.4,625.0 L490.2,624.6 L491.0,622.2 L491.8,622.5 L492.6,623.8 L493.4,626.0 L494.2,625.9 L495.0,625.4 L495.8,626.0 L496.6,629.1 L497.4,630.4 L498.2,632.6 L499.0,628.6 L499.8,630.5 L500.6,629.9 L501.4,632.2 L502.2,630.4 L503.0,631.0 L503.8,630.4 L504.6,629.3 L505.4,628.7 L506.2,628.2 L507.0,627.0 L507.8,625.8 L508.6,626.4 L509.4,625.3 L510.2,623.1 L511.0,619.1 L511.8,618.6 L512.6,617.7 L513.4,616.2 L514.2,616.3 L515.0,615.9 L515.8,616.1 L516.6,615.0 L517.4,618.1 L518.2,621.3 L519.0,623.0 L519.8,620.9 L520.6,619.8 L521.4,617.9 L522.2,618.2 L523.0,614.0 L523.8,612.6 L524.6,611.5 L525.4,611.2 L526.2,614.1 L527.0,614.3 L527.8,614.3 L528.6,615.1 L529.4,617.7 L530.2,618.1 L531.0,620.7 L531.8,619.4 L532.6,617.0 L533.4,617.5 L534.2,618.4 L535.0,615.9 L535.8,614.5 L536.6,617.7 L537.4,617.7 L538.2,619.7 L539.0,619.6 L539.8,623.0 L540.6,622.0 L541.4,622.0 L542.2,620.8 L543.0,622.5 L543.8,623.2 L544.6,626.1 L545.4,626.3 L546.2,624.3 L547.0,623.9 L547.8,623.9 L548.6,621.4 L549.4,624.3 L550.2,625.3 L551.0,621.4 L551.8,619.2 L552.6,618.4 L553.4,618.4 L554.2,616.1 L555.0,615.4 L555.8,612.8 L556.6,612.6 L557.4,611.2 L558.2,611.9 L559.0,611.3 L559.8,610.7 L560.6,611.2 L561.4,608.8 L562.2,606.8 L563.0,607.3 L563.8,608.1 L564.6,608.3 L565.4,604.5 L566.2,606.3 L567.0,604.9 L567.8,605.2 L568.6,605.5 L569.4,601.9 L570.2,603.5 L571.0,603.8 L571.8,604.3 L572.6,600.5 L573.4,601.6 L574.2,600.6 L575.0,601.2 L575.8,604.3 L576.6,604.4 L577.4,606.6 L578.2,606.0 L579.0,603.2 L579.8,601.7 L580.6,602.5 L581.4,602.4 L582.2,600.4 L583.0,601.4 L583.8,600.4 L584.6,597.9 L585.4,598.8 L586.2,600.9 L587.0,602.9 L587.8,603.2 L588.6,603.7 L589.4,604.9 L590.2,606.8 L591.0,608.5 L591.8,606.3 L592.6,605.6 L593.4,602.3 L594.2,600.5 L595.0,599.1 L595.8,601.7 L596.6,599.6 L597.4,597.1 L598.2,597.7 L599.0,596.4 L599.8,596.1 L600.6,597.4 L601.4,594.7 L602.2,593.9 L603.0,595.3 L603.8,594.8 L604.6,596.1 L605.4,597.6 L606.2,602.0 L607.0,602.6 L607.8,601.8 L608.6,602.4 L609.4,601.1 L610.2,603.8 L611.0,603.4 L611.8,605.9 L612.6,605.4 L613.4,608.1 L614.2,607.9 L615.0,610.8 L615.8,610.3 L616.6,610.9 L617.4,613.6 L618.2,612.6 L619.0,615.1 L619.8,614.9 L620.6,615.2 L621.4,615.6 L622.2,614.0 L623.0,615.2 L623.8,615.2 L624.6,614.1 L625.4,610.7 L626.2,612.7 L627.0,614.6 L627.8,616.3 L628.6,616.1 L629.4,616.0 L630.2,614.5 L631.0,614.3 L631.8,612.8 L632.6,614.3" fill="none" stroke="#0505ff" stroke-width="1.9" stroke-linejoin="round"/><path d="M119.8,638.2 L120.6,635.6 L121.4,634.7 L122.2,632.8 L123.0,630.2 L123.8,627.8 L124.6,627.9 L125.4,629.1 L126.2,626.1 L127.0,626.8 L127.8,629.4 L128.6,628.6 L129.4,632.3 L130.2,632.1 L131.0,633.6 L131.8,634.8 L132.6,637.2 L133.4,637.2 L134.2,638.7 L135.0,639.7 L135.8,639.5 L136.6,639.0 L137.4,641.4 L138.2,640.3 L139.0,641.5 L139.8,640.7 L140.6,638.4 L141.4,638.7 L142.2,637.8 L143.0,635.6 L143.8,635.1 L144.6,633.8 L145.4,632.3 L146.2,632.3 L147.0,632.2 L147.8,635.1 L148.6,636.8 L149.4,638.3 L150.2,636.8 L151.0,633.6 L151.8,634.8 L152.6,634.7 L153.4,633.5 L154.2,631.1 L155.0,633.6 L155.8,633.6 L156.6,634.0 L157.4,634.2 L158.2,635.3 L159.0,634.7 L159.8,635.6 L160.6,636.1 L161.4,636.1 L162.2,636.2 L163.0,635.0 L163.8,636.5 L164.6,637.9 L165.4,635.9 L166.2,633.6 L167.0,634.5 L167.8,634.2 L168.6,633.7 L169.4,634.7 L170.2,632.9 L171.0,634.5 L171.8,634.8 L172.6,636.2 L173.4,635.6 L174.2,636.6 L175.0,638.0 L175.8,638.5 L176.6,638.2 L177.4,639.2 L178.2,640.9 L179.0,639.5 L179.8,639.6 L180.6,637.6 L181.4,637.7 L182.2,636.2 L183.0,638.6 L183.8,637.1 L184.6,637.8 L185.4,635.4 L186.2,633.9 L187.0,633.8 L187.8,634.6 L188.6,633.0 L189.4,632.8 L190.2,635.2 L191.0,634.6 L191.8,634.1 L192.6,633.0 L193.4,633.4 L194.2,633.0 L195.0,631.3 L195.8,631.7 L196.6,630.9 L197.4,632.0 L198.2,631.4 L199.0,633.2 L199.8,635.7 L200.6,634.7 L201.4,637.0 L202.2,635.5 L203.0,633.8 L203.8,633.3 L204.6,634.5 L205.4,633.6 L206.2,634.7 L207.0,633.5 L207.8,632.4 L208.6,632.0 L209.4,632.6 L210.2,633.7 L211.0,631.7 L211.8,633.5 L212.6,631.6 L213.4,629.0 L214.2,626.4 L215.0,628.2 L215.8,629.6 L216.6,628.2 L217.4,629.0 L218.2,631.5 L219.0,630.6 L219.8,630.9 L220.6,628.7 L221.4,630.0 L222.2,626.8 L223.0,628.0 L223.8,626.3 L224.6,626.8 L225.4,625.9 L226.2,625.3 L227.0,625.7 L227.8,624.3 L228.6,624.1 L229.4,622.7 L230.2,622.7 L231.0,622.4 L231.8,623.9 L232.6,623.4 L233.4,624.1 L234.2,626.2 L235.0,626.0 L235.8,628.0 L236.6,626.8 L237.4,623.7 L238.2,622.8 L239.0,626.0 L239.8,622.3 L240.6,621.1 L241.4,624.2 L242.2,623.2 L243.0,624.3 L243.8,625.5 L244.6,625.8 L245.4,627.3 L246.2,625.9 L247.0,624.7 L247.8,624.7 L248.6,625.5 L249.4,622.6 L250.2,623.2 L251.0,621.5 L251.8,625.3 L252.6,625.6 L253.4,623.4 L254.2,624.4 L255.0,625.8 L255.8,624.1 L256.6,625.0 L257.4,624.8 L258.2,624.9 L259.0,621.8 L259.8,623.0 L260.6,622.0 L261.4,622.3 L262.2,623.2 L263.0,627.5 L263.8,627.5 L264.6,625.0 L265.4,624.1 L266.2,625.2 L267.0,622.8 L267.8,621.4 L268.6,621.4 L269.4,622.6 L270.2,624.9 L271.0,625.4 L271.8,626.0 L272.6,626.5 L273.4,626.9 L274.2,628.6 L275.0,629.9 L275.8,628.7 L276.6,627.1 L277.4,628.2 L278.2,625.3 L279.0,627.4 L279.8,626.7 L280.6,626.3 L281.4,624.9 L282.2,622.9 L283.0,624.4 L283.8,622.7 L284.6,620.5 L285.4,623.1 L286.2,624.0 L287.0,626.1 L287.8,629.0 L288.6,628.0 L289.4,629.7 L290.2,632.4 L291.0,631.7 L291.8,631.9 L292.6,633.2 L293.4,634.5 L294.2,631.6 L295.0,630.5 L295.8,631.2 L296.6,629.3 L297.4,629.9 L298.2,631.4 L299.0,630.2 L299.8,629.2 L300.6,628.9 L301.4,628.1 L302.2,627.2 L303.0,626.9 L303.8,624.4 L304.6,626.1 L305.4,626.2 L306.2,626.9 L307.0,626.8 L307.8,631.0 L308.6,630.8 L309.4,631.3 L310.2,633.1 L311.0,632.1 L311.8,630.5 L312.6,628.2 L313.4,629.7 L314.2,629.7 L315.0,629.5 L315.8,630.1 L316.6,630.3 L317.4,632.0 L318.2,629.7 L319.0,630.9 L319.8,626.4 L320.6,627.8 L321.4,628.5 L322.2,629.0 L323.0,630.0 L323.8,630.8 L324.6,628.3 L325.4,623.8 L326.2,627.0 L327.0,626.7 L327.8,625.9 L328.6,624.6 L329.4,623.6 L330.2,622.6 L331.0,619.0 L331.8,619.9 L332.6,621.9 L333.4,620.3 L334.2,619.5 L335.0,618.6 L335.8,615.5 L336.6,616.8 L337.4,616.8 L338.2,614.7 L339.0,615.8 L339.8,615.7 L340.6,617.8 L341.4,619.7 L342.2,619.8 L343.0,620.7 L343.8,623.1 L344.6,624.4 L345.4,625.0 L346.2,624.4 L347.0,626.7 L347.8,624.2 L348.6,627.9 L349.4,630.5 L350.2,627.0 L351.0,624.5 L351.8,621.9 L352.6,619.5 L353.4,615.9 L354.2,614.2 L355.0,612.1 L355.8,608.9 L356.6,607.1 L357.4,605.0 L358.2,599.1 L359.0,599.6 L359.8,598.7 L360.6,599.2 L361.4,600.2 L362.2,599.6 L363.0,599.5 L363.8,600.8 L364.6,598.3 L365.4,601.6 L366.2,603.4 L367.0,602.9 L367.8,604.7 L368.6,605.8 L369.4,607.2 L370.2,609.0 L371.0,608.3 L371.8,611.5 L372.6,610.1 L373.4,610.7 L374.2,608.5 L375.0,610.4 L375.8,610.1 L376.6,613.5 L377.4,615.4 L378.2,617.2 L379.0,618.4 L379.8,619.6 L380.6,619.8 L381.4,622.4 L382.2,622.9 L383.0,622.5 L383.8,622.3 L384.6,623.2 L385.4,623.8 L386.2,622.3 L387.0,621.2 L387.8,618.1 L388.6,618.8 L389.4,614.8 L390.2,616.2 L391.0,618.4 L391.8,618.8 L392.6,619.6 L393.4,617.2 L394.2,615.9 L395.0,617.3 L395.8,620.7 L396.6,622.4 L397.4,620.9 L398.2,620.6 L399.0,617.2 L399.8,615.4 L400.6,613.3 L401.4,613.9 L402.2,615.1 L403.0,617.5 L403.8,621.5 L404.6,620.0 L405.4,622.0 L406.2,623.1 L407.0,623.8 L407.8,625.2 L408.6,625.5 L409.4,623.2 L410.2,622.4 L411.0,621.9 L411.8,619.7 L412.6,619.6 L413.4,622.0 L414.2,623.0 L415.0,621.7 L415.8,624.2 L416.6,622.4 L417.4,621.8 L418.2,622.9 L419.0,623.2 L419.8,622.2 L420.6,621.6 L421.4,618.5 L422.2,618.3 L423.0,616.0 L423.8,614.0 L424.6,610.6 L425.4,607.9 L426.2,608.7 L427.0,610.1 L427.8,611.2 L428.6,611.9 L429.4,612.6 L430.2,609.8 L431.0,610.7 L431.8,608.0 L432.6,608.8 L433.4,610.6 L434.2,608.8 L435.0,608.0 L435.8,606.6 L436.6,606.2 L437.4,603.7 L438.2,605.9 L439.0,607.6 L439.8,605.5 L440.6,607.8 L441.4,606.5 L442.2,605.8 L443.0,603.2 L443.8,604.1 L444.6,602.5 L445.4,599.9 L446.2,598.7 L447.0,599.3 L447.8,598.6 L448.6,594.6 L449.4,596.1 L450.2,593.6 L451.0,595.0 L451.8,593.8 L452.6,592.4 L453.4,595.2 L454.2,595.5 L455.0,596.1 L455.8,596.6 L456.6,598.5 L457.4,596.1 L458.2,596.6 L459.0,593.5 L459.8,593.4 L460.6,596.4 L461.4,600.0 L462.2,599.4 L463.0,599.3 L463.8,600.7 L464.6,601.0 L465.4,602.9 L466.2,603.0 L467.0,606.1 L467.8,607.5 L468.6,606.8 L469.4,610.3 L470.2,612.6 L471.0,615.9 L471.8,618.3 L472.6,617.3 L473.4,618.9 L474.2,619.8 L475.0,619.1 L475.8,619.1 L476.6,620.0 L477.4,619.6 L478.2,621.6 L479.0,623.5 L479.8,627.2 L480.6,629.6 L481.4,629.0 L482.2,629.4 L483.0,628.8 L483.8,628.4 L484.6,630.3 L485.4,627.9 L486.2,630.7 L487.0,629.1 L487.8,628.0 L488.6,630.3 L489.4,629.2 L490.2,626.7 L491.0,631.1 L491.8,629.9 L492.6,631.2 L493.4,631.6 L494.2,631.8 L495.0,632.9 L495.8,633.9 L496.6,628.5 L497.4,626.2 L498.2,624.1 L499.0,624.1 L499.8,622.2 L500.6,621.9 L501.4,625.9 L502.2,628.6 L503.0,627.6 L503.8,628.7 L504.6,626.4 L505.4,627.4 L506.2,627.7 L507.0,628.3 L507.8,630.9 L508.6,629.5 L509.4,632.0 L510.2,633.1 L511.0,630.0 L511.8,631.4 L512.6,629.8 L513.4,629.4 L514.2,628.3 L515.0,625.4 L515.8,627.5 L516.6,627.5 L517.4,627.2 L518.2,624.7 L519.0,626.3 L519.8,623.7 L520.6,624.2 L521.4,622.4 L522.2,621.7 L523.0,623.1 L523.8,624.2 L524.6,624.5 L525.4,624.4 L526.2,625.3 L527.0,623.3 L527.8,623.3 L528.6,622.6 L529.4,623.5 L530.2,622.6 L531.0,623.9 L531.8,627.6 L532.6,628.1 L533.4,629.0 L534.2,628.9 L535.0,625.2 L535.8,627.0 L536.6,625.5 L537.4,624.2 L538.2,622.2 L539.0,624.9 L539.8,621.5 L540.6,622.2 L541.4,623.2 L542.2,621.1 L543.0,618.9 L543.8,619.0 L544.6,620.3 L545.4,621.2 L546.2,624.5 L547.0,627.1 L547.8,628.3 L548.6,629.8 L549.4,629.3 L550.2,631.4 L551.0,633.6 L551.8,633.6 L552.6,631.9 L553.4,629.2 L554.2,627.6 L555.0,629.1 L555.8,626.0 L556.6,626.5 L557.4,625.4 L558.2,625.5 L559.0,626.8 L559.8,628.8 L560.6,626.0 L561.4,628.2 L562.2,627.9 L563.0,629.7 L563.8,629.4 L564.6,630.2 L565.4,630.0 L566.2,634.8 L567.0,635.0 L567.8,633.4 L568.6,632.6 L569.4,632.9 L570.2,632.3 L571.0,632.7 L571.8,632.9 L572.6,634.0 L573.4,633.7 L574.2,632.0 L575.0,631.6 L575.8,630.3 L576.6,627.8 L577.4,628.0 L578.2,625.9 L579.0,623.2 L579.8,622.9 L580.6,621.6 L581.4,624.1 L582.2,622.0 L583.0,622.9 L583.8,623.6 L584.6,623.0 L585.4,622.0 L586.2,625.9 L587.0,621.8 L587.8,621.5 L588.6,622.1 L589.4,621.6 L590.2,620.5 L591.0,618.3 L591.8,617.7 L592.6,615.9 L593.4,613.3 L594.2,611.2 L595.0,611.8 L595.8,614.4 L596.6,613.9 L597.4,617.3 L598.2,621.7 L599.0,621.9 L599.8,622.0 L600.6,622.0 L601.4,623.1 L602.2,629.4 L603.0,628.1 L603.8,628.8 L604.6,631.8 L605.4,636.5 L606.2,634.2 L607.0,634.0 L607.8,631.7 L608.6,633.0 L609.4,631.6 L610.2,629.9 L611.0,628.5 L611.8,625.3 L612.6,624.9 L613.4,623.6 L614.2,623.0 L615.0,624.7 L615.8,623.4 L616.6,625.4 L617.4,625.0 L618.2,624.5 L619.0,623.7 L619.8,625.9 L620.6,623.8 L621.4,625.4 L622.2,621.6 L623.0,623.9 L623.8,625.2 L624.6,625.4 L625.4,624.6 L626.2,625.4 L627.0,627.5 L627.8,626.4 L628.6,624.5 L629.4,624.1 L630.2,624.9 L631.0,624.1 L631.8,624.9 L632.6,623.1" fill="none" stroke="#ff0505" stroke-width="1.9" stroke-linejoin="round"/><rect x="117.50" y="535.10" width="515.40" height="157.20" fill="none" stroke="#000" stroke-width="4.6"/>
<rect x="145.80" y="701.80" width="80.60" height="157.10" fill="#bed9ba"/><rect x="280.50" y="701.80" width="67.00" height="157.10" fill="#b3b3ff"/><rect x="402.00" y="701.80" width="67.50" height="157.10" fill="#ffbcbc"/><rect x="537.00" y="701.80" width="66.80" height="157.10" fill="#b3b3ff"/><path d="M119.8,784.5 L120.6,783.8 L121.4,782.8 L122.2,784.8 L123.0,784.1 L123.8,782.9 L124.6,782.1 L125.4,781.7 L126.2,784.4 L127.0,786.8 L127.8,786.0 L128.6,787.4 L129.4,786.7 L130.2,788.6 L131.0,788.0 L131.8,788.3 L132.6,788.2 L133.4,784.0 L134.2,788.3 L135.0,785.3 L135.8,789.4 L136.6,791.3 L137.4,793.0 L138.2,792.2 L139.0,791.8 L139.8,790.2 L140.6,788.1 L141.4,788.2 L142.2,786.8 L143.0,786.9 L143.8,784.9 L144.6,787.7 L145.4,786.3 L146.2,785.5 L147.0,788.3 L147.8,787.9 L148.6,787.5 L149.4,787.4 L150.2,784.8 L151.0,787.8 L151.8,785.5 L152.6,788.6 L153.4,787.5 L154.2,783.0 L155.0,784.3 L155.8,782.1 L156.6,782.6 L157.4,782.6 L158.2,778.2 L159.0,780.8 L159.8,781.6 L160.6,780.8 L161.4,778.2 L162.2,779.0 L163.0,782.0 L163.8,781.7 L164.6,778.9 L165.4,774.8 L166.2,772.7 L167.0,773.6 L167.8,773.2 L168.6,769.8 L169.4,768.5 L170.2,766.5 L171.0,762.8 L171.8,760.9 L172.6,759.6 L173.4,758.0 L174.2,757.1 L175.0,755.1 L175.8,755.0 L176.6,751.9 L177.4,751.8 L178.2,748.8 L179.0,746.8 L179.8,748.3 L180.6,749.9 L181.4,749.6 L182.2,753.2 L183.0,750.0 L183.8,751.3 L184.6,750.9 L185.4,747.1 L186.2,744.2 L187.0,745.8 L187.8,743.6 L188.6,745.2 L189.4,744.3 L190.2,746.6 L191.0,744.0 L191.8,745.9 L192.6,744.6 L193.4,742.4 L194.2,742.8 L195.0,744.3 L195.8,746.6 L196.6,748.0 L197.4,749.4 L198.2,752.8 L199.0,753.1 L199.8,755.9 L200.6,755.7 L201.4,754.6 L202.2,754.3 L203.0,753.1 L203.8,751.9 L204.6,749.6 L205.4,746.0 L206.2,746.9 L207.0,744.2 L207.8,742.2 L208.6,742.8 L209.4,742.1 L210.2,742.1 L211.0,742.3 L211.8,740.9 L212.6,743.3 L213.4,744.5 L214.2,746.0 L215.0,744.9 L215.8,748.4 L216.6,747.5 L217.4,748.4 L218.2,750.4 L219.0,749.2 L219.8,747.4 L220.6,750.2 L221.4,752.5 L222.2,754.3 L223.0,757.2 L223.8,757.0 L224.6,760.0 L225.4,761.2 L226.2,763.9 L227.0,766.2 L227.8,768.9 L228.6,769.2 L229.4,770.1 L230.2,774.6 L231.0,776.4 L231.8,775.0 L232.6,776.9 L233.4,776.5 L234.2,774.0 L235.0,772.3 L235.8,775.5 L236.6,778.7 L237.4,781.7 L238.2,784.2 L239.0,783.3 L239.8,783.0 L240.6,785.4 L241.4,783.9 L242.2,782.6 L243.0,782.8 L243.8,781.4 L244.6,781.7 L245.4,783.1 L246.2,785.8 L247.0,787.1 L247.8,789.3 L248.6,791.0 L249.4,789.3 L250.2,791.5 L251.0,790.8 L251.8,789.1 L252.6,787.8 L253.4,789.2 L254.2,787.8 L255.0,790.7 L255.8,789.4 L256.6,792.9 L257.4,795.8 L258.2,794.8 L259.0,793.8 L259.8,790.3 L260.6,791.1 L261.4,792.4 L262.2,792.2 L263.0,790.4 L263.8,790.0 L264.6,792.2 L265.4,792.5 L266.2,790.9 L267.0,792.7 L267.8,791.6 L268.6,788.7 L269.4,788.8 L270.2,789.1 L271.0,788.4 L271.8,787.0 L272.6,788.4 L273.4,792.8 L274.2,795.9 L275.0,796.6 L275.8,797.8 L276.6,794.9 L277.4,792.4 L278.2,793.7 L279.0,791.5 L279.8,790.1 L280.6,791.0 L281.4,792.2 L282.2,793.3 L283.0,793.4 L283.8,794.1 L284.6,793.9 L285.4,793.7 L286.2,792.4 L287.0,790.7 L287.8,791.6 L288.6,789.4 L289.4,790.0 L290.2,790.2 L291.0,791.1 L291.8,792.0 L292.6,791.3 L293.4,791.8 L294.2,793.5 L295.0,794.1 L295.8,794.5 L296.6,795.1 L297.4,793.8 L298.2,793.5 L299.0,794.9 L299.8,796.5 L300.6,796.6 L301.4,797.2 L302.2,798.9 L303.0,800.0 L303.8,801.0 L304.6,803.2 L305.4,801.5 L306.2,798.4 L307.0,797.6 L307.8,799.9 L308.6,799.6 L309.4,797.8 L310.2,798.2 L311.0,798.0 L311.8,796.4 L312.6,795.6 L313.4,794.8 L314.2,793.5 L315.0,795.6 L315.8,792.4 L316.6,793.2 L317.4,794.4 L318.2,796.5 L319.0,795.2 L319.8,792.1 L320.6,794.1 L321.4,796.6 L322.2,798.0 L323.0,799.4 L323.8,799.0 L324.6,798.0 L325.4,798.1 L326.2,797.0 L327.0,799.7 L327.8,801.0 L328.6,800.6 L329.4,802.3 L330.2,801.8 L331.0,799.8 L331.8,798.1 L332.6,797.8 L333.4,794.8 L334.2,794.3 L335.0,791.6 L335.8,793.7 L336.6,792.6 L337.4,793.7 L338.2,794.4 L339.0,792.0 L339.8,791.9 L340.6,791.1 L341.4,791.8 L342.2,794.0 L343.0,795.5 L343.8,798.3 L344.6,797.0 L345.4,795.8 L346.2,794.2 L347.0,795.0 L347.8,793.7 L348.6,792.6 L349.4,789.2 L350.2,789.5 L351.0,791.7 L351.8,789.8 L352.6,788.9 L353.4,787.8 L354.2,785.1 L355.0,784.1 L355.8,785.9 L356.6,787.3 L357.4,786.9 L358.2,787.1 L359.0,787.0 L359.8,787.2 L360.6,785.2 L361.4,786.4 L362.2,786.3 L363.0,785.5 L363.8,787.3 L364.6,788.5 L365.4,789.5 L366.2,790.2 L367.0,790.0 L367.8,790.2 L368.6,791.7 L369.4,792.9 L370.2,797.4 L371.0,797.5 L371.8,793.8 L372.6,792.5 L373.4,791.7 L374.2,789.1 L375.0,788.0 L375.8,789.5 L376.6,791.7 L377.4,791.9 L378.2,792.7 L379.0,792.4 L379.8,792.7 L380.6,793.3 L381.4,791.1 L382.2,789.6 L383.0,787.6 L383.8,787.7 L384.6,789.9 L385.4,789.6 L386.2,793.3 L387.0,795.4 L387.8,798.4 L388.6,799.2 L389.4,800.0 L390.2,799.5 L391.0,800.1 L391.8,799.8 L392.6,799.8 L393.4,796.8 L394.2,796.8 L395.0,796.2 L395.8,793.7 L396.6,794.3 L397.4,796.0 L398.2,796.0 L399.0,795.3 L399.8,797.3 L400.6,794.2 L401.4,793.7 L402.2,795.3 L403.0,793.9 L403.8,794.4 L404.6,793.5 L405.4,792.7 L406.2,789.6 L407.0,791.7 L407.8,791.4 L408.6,788.8 L409.4,788.0 L410.2,788.0 L411.0,787.5 L411.8,783.5 L412.6,786.1 L413.4,784.0 L414.2,785.2 L415.0,783.0 L415.8,783.8 L416.6,785.4 L417.4,787.4 L418.2,790.1 L419.0,791.3 L419.8,792.7 L420.6,790.1 L421.4,790.9 L422.2,788.2 L423.0,787.4 L423.8,790.7 L424.6,789.9 L425.4,791.8 L426.2,788.1 L427.0,792.5 L427.8,792.9 L428.6,795.7 L429.4,797.1 L430.2,799.6 L431.0,801.6 L431.8,798.7 L432.6,799.4 L433.4,801.6 L434.2,798.3 L435.0,800.3 L435.8,800.6 L436.6,799.8 L437.4,797.4 L438.2,800.0 L439.0,798.1 L439.8,799.6 L440.6,797.8 L441.4,794.3 L442.2,795.1 L443.0,793.9 L443.8,794.8 L444.6,794.3 L445.4,793.6 L446.2,796.3 L447.0,795.7 L447.8,796.8 L448.6,799.0 L449.4,798.1 L450.2,799.5 L451.0,799.6 L451.8,798.6 L452.6,798.8 L453.4,798.3 L454.2,796.7 L455.0,796.6 L455.8,795.6 L456.6,794.8 L457.4,796.5 L458.2,795.7 L459.0,795.7 L459.8,798.8 L460.6,796.3 L461.4,797.6 L462.2,797.8 L463.0,796.7 L463.8,795.7 L464.6,794.3 L465.4,794.7 L466.2,794.5 L467.0,795.9 L467.8,793.7 L468.6,792.2 L469.4,792.5 L470.2,789.6 L471.0,793.2 L471.8,790.6 L472.6,791.5 L473.4,791.5 L474.2,791.3 L475.0,791.4 L475.8,793.6 L476.6,795.2 L477.4,796.3 L478.2,797.7 L479.0,797.7 L479.8,799.3 L480.6,800.2 L481.4,795.7 L482.2,793.9 L483.0,791.3 L483.8,788.4 L484.6,788.5 L485.4,788.1 L486.2,787.3 L487.0,784.7 L487.8,784.5 L488.6,780.8 L489.4,783.7 L490.2,783.8 L491.0,782.3 L491.8,781.3 L492.6,783.1 L493.4,781.4 L494.2,778.5 L495.0,780.7 L495.8,780.7 L496.6,779.6 L497.4,780.6 L498.2,778.0 L499.0,780.8 L499.8,779.3 L500.6,784.4 L501.4,784.2 L502.2,783.0 L503.0,781.1 L503.8,779.7 L504.6,780.3 L505.4,779.0 L506.2,785.3 L507.0,787.8 L507.8,793.1 L508.6,792.2 L509.4,791.2 L510.2,790.7 L511.0,790.8 L511.8,788.7 L512.6,789.7 L513.4,790.9 L514.2,792.0 L515.0,792.4 L515.8,794.1 L516.6,795.8 L517.4,795.6 L518.2,798.2 L519.0,799.0 L519.8,800.6 L520.6,800.1 L521.4,799.2 L522.2,799.6 L523.0,800.7 L523.8,802.6 L524.6,801.3 L525.4,798.8 L526.2,798.3 L527.0,799.4 L527.8,797.2 L528.6,796.0 L529.4,796.0 L530.2,794.5 L531.0,795.3 L531.8,795.8 L532.6,796.2 L533.4,794.6 L534.2,794.3 L535.0,793.6 L535.8,793.0 L536.6,795.4 L537.4,793.5 L538.2,791.5 L539.0,793.2 L539.8,791.0 L540.6,791.1 L541.4,789.4 L542.2,788.2 L543.0,788.7 L543.8,787.9 L544.6,786.3 L545.4,783.8 L546.2,786.3 L547.0,786.9 L547.8,790.2 L548.6,789.9 L549.4,794.2 L550.2,793.2 L551.0,792.8 L551.8,794.3 L552.6,795.9 L553.4,796.1 L554.2,798.3 L555.0,800.0 L555.8,800.5 L556.6,799.1 L557.4,798.6 L558.2,796.1 L559.0,793.1 L559.8,794.1 L560.6,793.8 L561.4,792.3 L562.2,790.9 L563.0,790.1 L563.8,792.1 L564.6,792.0 L565.4,789.7 L566.2,792.0 L567.0,791.2 L567.8,793.2 L568.6,794.4 L569.4,794.9 L570.2,796.5 L571.0,797.2 L571.8,796.1 L572.6,795.2 L573.4,797.5 L574.2,797.9 L575.0,796.6 L575.8,798.8 L576.6,796.8 L577.4,802.7 L578.2,801.1 L579.0,801.7 L579.8,798.6 L580.6,802.1 L581.4,802.6 L582.2,801.7 L583.0,802.1 L583.8,802.6 L584.6,800.6 L585.4,797.9 L586.2,798.6 L587.0,799.4 L587.8,798.1 L588.6,797.3 L589.4,797.2 L590.2,794.8 L591.0,796.1 L591.8,796.8 L592.6,796.7 L593.4,796.2 L594.2,795.0 L595.0,795.0 L595.8,795.1 L596.6,796.6 L597.4,797.6 L598.2,797.3 L599.0,798.9 L599.8,797.2 L600.6,797.4 L601.4,797.4 L602.2,797.1 L603.0,792.8 L603.8,791.5 L604.6,791.3 L605.4,788.7 L606.2,788.0 L607.0,787.6 L607.8,786.9 L608.6,786.9 L609.4,788.6 L610.2,791.1 L611.0,792.0 L611.8,793.5 L612.6,792.2 L613.4,790.9 L614.2,789.7 L615.0,789.4 L615.8,787.9 L616.6,786.4 L617.4,785.8 L618.2,786.9 L619.0,789.6 L619.8,788.7 L620.6,788.5 L621.4,788.0 L622.2,787.1 L623.0,786.6 L623.8,785.9 L624.6,784.1 L625.4,785.5 L626.2,784.7 L627.0,784.8 L627.8,784.8 L628.6,783.6 L629.4,781.7 L630.2,781.6 L631.0,783.4 L631.8,783.8 L632.6,782.6" fill="none" stroke="#058205" stroke-width="1.9" stroke-linejoin="round"/><path d="M119.8,783.7 L120.6,784.2 L121.4,785.8 L122.2,784.1 L123.0,784.3 L123.8,785.3 L124.6,783.6 L125.4,783.2 L126.2,785.6 L127.0,783.9 L127.8,783.2 L128.6,783.3 L129.4,785.0 L130.2,782.3 L131.0,782.6 L131.8,780.2 L132.6,781.3 L133.4,783.0 L134.2,782.1 L135.0,782.2 L135.8,781.2 L136.6,781.9 L137.4,785.2 L138.2,783.1 L139.0,782.6 L139.8,782.7 L140.6,784.4 L141.4,783.6 L142.2,784.3 L143.0,788.3 L143.8,784.7 L144.6,782.8 L145.4,781.6 L146.2,780.4 L147.0,782.4 L147.8,788.7 L148.6,787.7 L149.4,786.7 L150.2,787.7 L151.0,789.0 L151.8,785.7 L152.6,785.9 L153.4,785.7 L154.2,786.1 L155.0,787.1 L155.8,787.5 L156.6,787.5 L157.4,789.2 L158.2,791.6 L159.0,791.2 L159.8,789.8 L160.6,791.5 L161.4,791.8 L162.2,793.5 L163.0,792.6 L163.8,793.1 L164.6,792.9 L165.4,790.9 L166.2,794.0 L167.0,793.6 L167.8,794.3 L168.6,793.5 L169.4,794.7 L170.2,793.7 L171.0,794.9 L171.8,795.2 L172.6,792.8 L173.4,791.8 L174.2,796.2 L175.0,794.4 L175.8,795.6 L176.6,797.1 L177.4,799.2 L178.2,800.8 L179.0,799.4 L179.8,799.6 L180.6,801.8 L181.4,799.2 L182.2,797.7 L183.0,801.6 L183.8,802.1 L184.6,801.5 L185.4,800.8 L186.2,797.9 L187.0,801.1 L187.8,798.6 L188.6,797.5 L189.4,799.2 L190.2,800.3 L191.0,800.0 L191.8,800.0 L192.6,799.9 L193.4,801.0 L194.2,801.0 L195.0,802.0 L195.8,797.7 L196.6,797.8 L197.4,796.1 L198.2,796.2 L199.0,795.6 L199.8,794.1 L200.6,792.2 L201.4,790.5 L202.2,791.9 L203.0,794.7 L203.8,796.3 L204.6,797.5 L205.4,798.9 L206.2,798.3 L207.0,800.0 L207.8,800.3 L208.6,801.5 L209.4,801.3 L210.2,799.0 L211.0,800.3 L211.8,798.8 L212.6,797.2 L213.4,795.7 L214.2,796.4 L215.0,798.2 L215.8,796.5 L216.6,800.9 L217.4,800.0 L218.2,801.4 L219.0,802.0 L219.8,801.1 L220.6,800.6 L221.4,798.3 L222.2,794.9 L223.0,796.0 L223.8,793.1 L224.6,795.8 L225.4,794.5 L226.2,793.4 L227.0,793.1 L227.8,790.3 L228.6,789.5 L229.4,788.9 L230.2,788.2 L231.0,787.6 L231.8,786.1 L232.6,785.9 L233.4,789.0 L234.2,787.1 L235.0,790.5 L235.8,789.2 L236.6,789.5 L237.4,787.6 L238.2,784.6 L239.0,784.7 L239.8,786.2 L240.6,787.5 L241.4,789.0 L242.2,787.8 L243.0,789.1 L243.8,790.8 L244.6,787.6 L245.4,785.0 L246.2,785.0 L247.0,787.7 L247.8,787.7 L248.6,786.7 L249.4,789.0 L250.2,788.5 L251.0,787.5 L251.8,789.5 L252.6,790.3 L253.4,792.6 L254.2,794.9 L255.0,795.7 L255.8,795.1 L256.6,794.8 L257.4,793.9 L258.2,794.6 L259.0,796.2 L259.8,795.4 L260.6,797.9 L261.4,798.0 L262.2,798.6 L263.0,796.2 L263.8,795.5 L264.6,795.9 L265.4,798.5 L266.2,795.8 L267.0,794.9 L267.8,797.0 L268.6,798.2 L269.4,796.2 L270.2,795.6 L271.0,793.5 L271.8,798.1 L272.6,795.1 L273.4,794.8 L274.2,792.1 L275.0,794.3 L275.8,791.1 L276.6,791.5 L277.4,793.8 L278.2,791.2 L279.0,789.1 L279.8,791.2 L280.6,791.1 L281.4,792.4 L282.2,794.0 L283.0,790.7 L283.8,790.2 L284.6,787.9 L285.4,789.7 L286.2,788.1 L287.0,789.1 L287.8,787.2 L288.6,788.6 L289.4,787.9 L290.2,787.3 L291.0,789.1 L291.8,786.2 L292.6,786.7 L293.4,783.9 L294.2,785.8 L295.0,783.3 L295.8,780.7 L296.6,777.7 L297.4,776.1 L298.2,775.7 L299.0,774.4 L299.8,774.6 L300.6,773.6 L301.4,771.8 L302.2,770.8 L303.0,770.1 L303.8,768.6 L304.6,766.2 L305.4,767.0 L306.2,765.3 L307.0,768.1 L307.8,765.9 L308.6,767.2 L309.4,766.3 L310.2,764.5 L311.0,764.7 L311.8,764.9 L312.6,763.8 L313.4,766.6 L314.2,767.2 L315.0,764.8 L315.8,765.3 L316.6,764.0 L317.4,761.7 L318.2,762.3 L319.0,764.6 L319.8,767.8 L320.6,769.6 L321.4,770.9 L322.2,772.9 L323.0,770.1 L323.8,769.0 L324.6,768.3 L325.4,766.1 L326.2,764.4 L327.0,763.5 L327.8,761.5 L328.6,761.2 L329.4,760.9 L330.2,757.7 L331.0,759.6 L331.8,756.9 L332.6,760.1 L333.4,761.4 L334.2,764.2 L335.0,764.3 L335.8,765.6 L336.6,765.8 L337.4,766.2 L338.2,766.2 L339.0,764.2 L339.8,764.8 L340.6,764.9 L341.4,766.9 L342.2,766.6 L343.0,768.6 L343.8,766.9 L344.6,765.9 L345.4,767.2 L346.2,762.4 L347.0,765.0 L347.8,768.7 L348.6,770.2 L349.4,771.5 L350.2,773.8 L351.0,775.0 L351.8,775.3 L352.6,775.5 L353.4,777.5 L354.2,776.6 L355.0,776.1 L355.8,773.5 L356.6,772.9 L357.4,769.8 L358.2,772.1 L359.0,772.3 L359.8,773.3 L360.6,775.7 L361.4,777.8 L362.2,778.8 L363.0,778.6 L363.8,779.2 L364.6,780.2 L365.4,777.4 L366.2,777.4 L367.0,778.8 L367.8,778.4 L368.6,775.7 L369.4,771.5 L370.2,772.4 L371.0,768.6 L371.8,770.1 L372.6,774.5 L373.4,776.8 L374.2,778.5 L375.0,780.1 L375.8,782.5 L376.6,784.7 L377.4,785.6 L378.2,785.3 L379.0,784.7 L379.8,783.4 L380.6,786.4 L381.4,783.7 L382.2,787.4 L383.0,783.0 L383.8,781.2 L384.6,783.2 L385.4,780.3 L386.2,780.6 L387.0,777.7 L387.8,777.5 L388.6,775.1 L389.4,776.3 L390.2,775.5 L391.0,776.5 L391.8,778.1 L392.6,779.1 L393.4,779.8 L394.2,779.8 L395.0,782.0 L395.8,780.2 L396.6,778.0 L397.4,776.2 L398.2,774.8 L399.0,777.2 L399.8,779.1 L400.6,778.5 L401.4,778.2 L402.2,778.3 L403.0,780.0 L403.8,779.3 L404.6,782.1 L405.4,782.0 L406.2,782.9 L407.0,785.7 L407.8,780.9 L408.6,779.6 L409.4,779.6 L410.2,781.3 L411.0,780.4 L411.8,781.1 L412.6,781.7 L413.4,782.4 L414.2,783.4 L415.0,786.3 L415.8,786.5 L416.6,785.5 L417.4,784.3 L418.2,782.0 L419.0,783.5 L419.8,782.9 L420.6,782.6 L421.4,786.9 L422.2,786.5 L423.0,786.2 L423.8,786.0 L424.6,786.5 L425.4,786.1 L426.2,784.4 L427.0,784.9 L427.8,787.0 L428.6,789.9 L429.4,792.1 L430.2,793.4 L431.0,794.3 L431.8,797.7 L432.6,797.8 L433.4,797.1 L434.2,799.2 L435.0,796.0 L435.8,793.9 L436.6,791.8 L437.4,793.0 L438.2,793.0 L439.0,791.1 L439.8,793.3 L440.6,793.6 L441.4,791.2 L442.2,791.8 L443.0,789.3 L443.8,783.7 L444.6,786.9 L445.4,788.1 L446.2,791.8 L447.0,790.9 L447.8,792.8 L448.6,794.6 L449.4,795.8 L450.2,791.9 L451.0,795.1 L451.8,795.0 L452.6,796.7 L453.4,793.9 L454.2,798.1 L455.0,796.9 L455.8,797.3 L456.6,795.8 L457.4,795.5 L458.2,796.6 L459.0,796.1 L459.8,794.6 L460.6,794.1 L461.4,795.2 L462.2,795.4 L463.0,794.7 L463.8,795.9 L464.6,794.6 L465.4,794.8 L466.2,796.8 L467.0,794.2 L467.8,792.4 L468.6,792.1 L469.4,791.4 L470.2,789.9 L471.0,790.1 L471.8,789.7 L472.6,786.6 L473.4,786.4 L474.2,788.3 L475.0,786.2 L475.8,789.7 L476.6,791.1 L477.4,789.5 L478.2,784.4 L479.0,783.3 L479.8,780.3 L480.6,781.4 L481.4,777.9 L482.2,780.2 L483.0,781.5 L483.8,782.7 L484.6,782.6 L485.4,781.8 L486.2,784.0 L487.0,783.3 L487.8,781.7 L488.6,781.0 L489.4,781.7 L490.2,782.5 L491.0,783.4 L491.8,783.8 L492.6,784.5 L493.4,782.2 L494.2,783.8 L495.0,782.9 L495.8,783.9 L496.6,783.0 L497.4,781.3 L498.2,782.2 L499.0,783.9 L499.8,784.0 L500.6,782.3 L501.4,783.6 L502.2,786.3 L503.0,785.2 L503.8,785.1 L504.6,782.8 L505.4,779.5 L506.2,778.0 L507.0,777.0 L507.8,775.2 L508.6,775.1 L509.4,777.4 L510.2,779.2 L511.0,781.5 L511.8,780.2 L512.6,784.9 L513.4,787.5 L514.2,786.0 L515.0,781.9 L515.8,780.1 L516.6,778.4 L517.4,778.2 L518.2,777.9 L519.0,777.6 L519.8,777.5 L520.6,775.3 L521.4,777.7 L522.2,774.1 L523.0,774.7 L523.8,775.6 L524.6,776.0 L525.4,774.6 L526.2,774.9 L527.0,772.5 L527.8,772.7 L528.6,774.7 L529.4,778.4 L530.2,781.1 L531.0,777.6 L531.8,777.3 L532.6,779.1 L533.4,781.2 L534.2,782.1 L535.0,782.9 L535.8,785.8 L536.6,785.7 L537.4,783.4 L538.2,785.4 L539.0,785.9 L539.8,785.9 L540.6,785.4 L541.4,786.3 L542.2,787.6 L543.0,789.3 L543.8,789.0 L544.6,789.6 L545.4,790.5 L546.2,790.2 L547.0,786.2 L547.8,786.2 L548.6,785.8 L549.4,786.4 L550.2,784.4 L551.0,782.1 L551.8,778.7 L552.6,778.7 L553.4,777.3 L554.2,775.1 L555.0,773.6 L555.8,772.9 L556.6,772.4 L557.4,773.9 L558.2,772.3 L559.0,773.8 L559.8,773.9 L560.6,775.2 L561.4,773.2 L562.2,772.9 L563.0,774.3 L563.8,775.1 L564.6,776.0 L565.4,773.7 L566.2,769.9 L567.0,768.6 L567.8,766.3 L568.6,766.5 L569.4,767.2 L570.2,765.3 L571.0,766.6 L571.8,765.9 L572.6,767.7 L573.4,767.9 L574.2,766.0 L575.0,767.5 L575.8,768.9 L576.6,772.2 L577.4,775.1 L578.2,775.4 L579.0,774.5 L579.8,771.4 L580.6,766.4 L581.4,768.5 L582.2,766.4 L583.0,767.4 L583.8,768.3 L584.6,768.8 L585.4,768.8 L586.2,770.8 L587.0,770.7 L587.8,773.4 L588.6,773.1 L589.4,769.9 L590.2,768.1 L591.0,769.2 L591.8,765.8 L592.6,766.0 L593.4,764.2 L594.2,764.1 L595.0,765.6 L595.8,766.8 L596.6,765.6 L597.4,763.2 L598.2,766.3 L599.0,767.5 L599.8,771.2 L600.6,771.7 L601.4,772.0 L602.2,771.7 L603.0,773.9 L603.8,773.3 L604.6,774.2 L605.4,774.8 L606.2,776.6 L607.0,779.3 L607.8,781.0 L608.6,782.0 L609.4,780.0 L610.2,777.6 L611.0,780.6 L611.8,780.8 L612.6,781.7 L613.4,783.0 L614.2,782.4 L615.0,783.1 L615.8,782.4 L616.6,782.5 L617.4,783.1 L618.2,783.2 L619.0,785.7 L619.8,784.6 L620.6,782.8 L621.4,783.2 L622.2,785.9 L623.0,785.1 L623.8,783.8 L624.6,784.5 L625.4,784.3 L626.2,785.8 L627.0,787.3 L627.8,786.6 L628.6,786.9 L629.4,784.3 L630.2,782.9 L631.0,783.8 L631.8,784.9 L632.6,784.3" fill="none" stroke="#0505ff" stroke-width="1.9" stroke-linejoin="round"/><path d="M119.8,791.0 L120.6,790.9 L121.4,790.9 L122.2,793.5 L123.0,794.6 L123.8,794.9 L124.6,794.1 L125.4,794.4 L126.2,790.3 L127.0,790.5 L127.8,791.1 L128.6,790.6 L129.4,791.4 L130.2,791.6 L131.0,791.8 L131.8,789.5 L132.6,789.7 L133.4,790.8 L134.2,788.5 L135.0,788.9 L135.8,786.7 L136.6,785.3 L137.4,788.4 L138.2,786.5 L139.0,788.0 L139.8,790.7 L140.6,791.3 L141.4,793.3 L142.2,794.0 L143.0,792.0 L143.8,792.5 L144.6,790.9 L145.4,790.4 L146.2,790.6 L147.0,790.3 L147.8,791.9 L148.6,787.0 L149.4,788.9 L150.2,789.2 L151.0,790.3 L151.8,790.7 L152.6,792.2 L153.4,791.9 L154.2,790.1 L155.0,790.3 L155.8,786.8 L156.6,787.0 L157.4,788.5 L158.2,787.3 L159.0,786.6 L159.8,787.0 L160.6,786.8 L161.4,784.3 L162.2,785.3 L163.0,784.3 L163.8,785.9 L164.6,785.6 L165.4,787.0 L166.2,789.2 L167.0,790.5 L167.8,791.4 L168.6,793.4 L169.4,793.5 L170.2,794.5 L171.0,794.7 L171.8,795.5 L172.6,796.8 L173.4,798.4 L174.2,796.8 L175.0,797.9 L175.8,797.1 L176.6,796.0 L177.4,795.7 L178.2,795.5 L179.0,794.8 L179.8,794.0 L180.6,796.5 L181.4,794.3 L182.2,793.5 L183.0,791.3 L183.8,794.1 L184.6,797.0 L185.4,799.5 L186.2,797.4 L187.0,798.2 L187.8,796.7 L188.6,798.0 L189.4,797.5 L190.2,798.7 L191.0,797.0 L191.8,797.1 L192.6,797.2 L193.4,796.1 L194.2,796.9 L195.0,796.6 L195.8,795.9 L196.6,795.1 L197.4,791.4 L198.2,792.5 L199.0,790.9 L199.8,794.9 L200.6,796.6 L201.4,797.6 L202.2,801.3 L203.0,800.0 L203.8,799.6 L204.6,798.7 L205.4,797.7 L206.2,799.3 L207.0,799.2 L207.8,801.1 L208.6,799.9 L209.4,798.7 L210.2,797.5 L211.0,797.9 L211.8,794.9 L212.6,795.1 L213.4,795.6 L214.2,797.4 L215.0,798.3 L215.8,798.3 L216.6,799.8 L217.4,796.4 L218.2,791.6 L219.0,790.7 L219.8,789.3 L220.6,791.0 L221.4,792.0 L222.2,794.8 L223.0,796.2 L223.8,794.5 L224.6,796.0 L225.4,793.7 L226.2,796.8 L227.0,797.1 L227.8,796.0 L228.6,795.2 L229.4,796.1 L230.2,793.9 L231.0,792.1 L231.8,791.1 L232.6,788.7 L233.4,788.1 L234.2,791.4 L235.0,789.4 L235.8,791.4 L236.6,793.8 L237.4,794.2 L238.2,794.7 L239.0,791.0 L239.8,792.6 L240.6,789.1 L241.4,788.4 L242.2,791.2 L243.0,788.5 L243.8,789.9 L244.6,790.5 L245.4,788.5 L246.2,789.7 L247.0,788.2 L247.8,786.0 L248.6,786.6 L249.4,783.8 L250.2,787.0 L251.0,782.9 L251.8,784.3 L252.6,784.4 L253.4,782.6 L254.2,780.0 L255.0,778.9 L255.8,781.5 L256.6,776.9 L257.4,777.4 L258.2,775.4 L259.0,778.3 L259.8,773.8 L260.6,776.3 L261.4,776.1 L262.2,772.7 L263.0,768.8 L263.8,769.6 L264.6,767.9 L265.4,768.5 L266.2,770.0 L267.0,770.9 L267.8,770.7 L268.6,771.8 L269.4,773.5 L270.2,775.2 L271.0,775.5 L271.8,778.5 L272.6,776.9 L273.4,775.5 L274.2,773.3 L275.0,772.7 L275.8,770.1 L276.6,774.2 L277.4,773.4 L278.2,775.7 L279.0,777.5 L279.8,780.2 L280.6,780.3 L281.4,782.5 L282.2,781.8 L283.0,783.1 L283.8,784.3 L284.6,786.2 L285.4,788.6 L286.2,788.6 L287.0,789.8 L287.8,787.4 L288.6,787.1 L289.4,785.3 L290.2,786.2 L291.0,786.7 L291.8,788.4 L292.6,788.6 L293.4,789.4 L294.2,788.2 L295.0,788.3 L295.8,787.9 L296.6,789.8 L297.4,790.5 L298.2,789.4 L299.0,792.9 L299.8,792.2 L300.6,790.7 L301.4,793.3 L302.2,790.2 L303.0,790.1 L303.8,789.0 L304.6,789.0 L305.4,791.0 L306.2,792.3 L307.0,794.2 L307.8,791.3 L308.6,790.4 L309.4,792.1 L310.2,791.9 L311.0,792.2 L311.8,792.5 L312.6,792.5 L313.4,794.3 L314.2,793.4 L315.0,791.7 L315.8,793.0 L316.6,792.1 L317.4,791.7 L318.2,792.3 L319.0,793.5 L319.8,792.0 L320.6,792.1 L321.4,793.0 L322.2,791.0 L323.0,791.6 L323.8,791.5 L324.6,792.1 L325.4,792.9 L326.2,796.0 L327.0,797.2 L327.8,796.2 L328.6,797.5 L329.4,800.2 L330.2,798.6 L331.0,798.0 L331.8,796.4 L332.6,795.0 L333.4,795.0 L334.2,796.4 L335.0,793.9 L335.8,794.5 L336.6,793.1 L337.4,793.7 L338.2,791.3 L339.0,789.3 L339.8,787.7 L340.6,788.5 L341.4,788.5 L342.2,788.2 L343.0,789.0 L343.8,790.0 L344.6,791.3 L345.4,795.1 L346.2,796.6 L347.0,794.7 L347.8,792.8 L348.6,792.3 L349.4,791.6 L350.2,789.2 L351.0,791.1 L351.8,791.8 L352.6,792.5 L353.4,793.7 L354.2,796.4 L355.0,797.6 L355.8,798.0 L356.6,800.1 L357.4,801.0 L358.2,798.7 L359.0,796.6 L359.8,796.4 L360.6,796.7 L361.4,793.0 L362.2,794.8 L363.0,795.3 L363.8,795.7 L364.6,795.8 L365.4,796.6 L366.2,794.1 L367.0,794.6 L367.8,795.0 L368.6,794.8 L369.4,795.6 L370.2,795.4 L371.0,793.7 L371.8,793.3 L372.6,793.1 L373.4,791.1 L374.2,791.1 L375.0,789.7 L375.8,791.1 L376.6,790.3 L377.4,790.0 L378.2,789.2 L379.0,788.2 L379.8,790.1 L380.6,790.6 L381.4,788.5 L382.2,790.0 L383.0,788.1 L383.8,788.5 L384.6,790.8 L385.4,792.0 L386.2,788.9 L387.0,790.6 L387.8,788.3 L388.6,790.3 L389.4,789.0 L390.2,789.8 L391.0,790.0 L391.8,791.0 L392.6,791.3 L393.4,791.2 L394.2,791.8 L395.0,791.8 L395.8,791.2 L396.6,789.1 L397.4,788.7 L398.2,785.9 L399.0,787.9 L399.8,787.7 L400.6,786.3 L401.4,785.8 L402.2,785.9 L403.0,787.1 L403.8,787.0 L404.6,789.0 L405.4,788.9 L406.2,786.9 L407.0,789.2 L407.8,786.9 L408.6,791.5 L409.4,794.8 L410.2,794.0 L411.0,794.7 L411.8,794.5 L412.6,791.4 L413.4,794.1 L414.2,796.4 L415.0,793.8 L415.8,793.4 L416.6,795.1 L417.4,796.1 L418.2,797.8 L419.0,798.5 L419.8,797.7 L420.6,796.3 L421.4,794.1 L422.2,794.8 L423.0,792.5 L423.8,791.1 L424.6,788.9 L425.4,786.4 L426.2,782.9 L427.0,780.7 L427.8,776.3 L428.6,769.8 L429.4,767.8 L430.2,765.7 L431.0,764.1 L431.8,762.2 L432.6,762.4 L433.4,761.4 L434.2,760.5 L435.0,760.5 L435.8,760.6 L436.6,759.3 L437.4,757.6 L438.2,757.2 L439.0,755.8 L439.8,755.4 L440.6,754.2 L441.4,755.1 L442.2,755.1 L443.0,757.8 L443.8,757.3 L444.6,756.0 L445.4,752.4 L446.2,748.8 L447.0,748.9 L447.8,748.8 L448.6,745.4 L449.4,744.5 L450.2,739.4 L451.0,737.1 L451.8,740.7 L452.6,743.6 L453.4,744.6 L454.2,744.4 L455.0,745.5 L455.8,747.1 L456.6,744.0 L457.4,745.5 L458.2,747.9 L459.0,751.6 L459.8,756.6 L460.6,755.6 L461.4,754.9 L462.2,756.1 L463.0,755.3 L463.8,757.9 L464.6,761.3 L465.4,764.3 L466.2,769.0 L467.0,770.2 L467.8,770.7 L468.6,775.0 L469.4,777.5 L470.2,780.1 L471.0,778.6 L471.8,780.4 L472.6,779.6 L473.4,780.6 L474.2,780.0 L475.0,781.5 L475.8,780.9 L476.6,780.3 L477.4,782.7 L478.2,781.3 L479.0,782.6 L479.8,784.5 L480.6,786.8 L481.4,789.5 L482.2,792.8 L483.0,791.7 L483.8,794.2 L484.6,792.3 L485.4,791.2 L486.2,790.8 L487.0,792.5 L487.8,789.5 L488.6,792.9 L489.4,791.9 L490.2,792.3 L491.0,789.4 L491.8,792.5 L492.6,791.4 L493.4,794.0 L494.2,795.4 L495.0,795.1 L495.8,795.6 L496.6,796.5 L497.4,796.9 L498.2,797.2 L499.0,797.5 L499.8,797.9 L500.6,799.3 L501.4,796.7 L502.2,797.1 L503.0,793.8 L503.8,796.1 L504.6,794.7 L505.4,794.3 L506.2,792.6 L507.0,792.2 L507.8,792.3 L508.6,791.1 L509.4,790.1 L510.2,791.3 L511.0,789.6 L511.8,787.8 L512.6,788.0 L513.4,788.0 L514.2,790.1 L515.0,791.1 L515.8,790.3 L516.6,790.2 L517.4,789.4 L518.2,790.7 L519.0,790.2 L519.8,791.3 L520.6,791.6 L521.4,791.2 L522.2,795.4 L523.0,790.0 L523.8,790.3 L524.6,789.0 L525.4,791.0 L526.2,789.3 L527.0,789.5 L527.8,789.4 L528.6,787.5 L529.4,789.3 L530.2,788.3 L531.0,789.6 L531.8,791.0 L532.6,785.5 L533.4,787.9 L534.2,786.7 L535.0,783.3 L535.8,783.9 L536.6,782.6 L537.4,788.5 L538.2,785.7 L539.0,786.3 L539.8,788.4 L540.6,788.4 L541.4,787.7 L542.2,787.4 L543.0,787.1 L543.8,783.7 L544.6,784.0 L545.4,786.2 L546.2,788.0 L547.0,787.5 L547.8,787.1 L548.6,789.9 L549.4,789.6 L550.2,790.9 L551.0,791.7 L551.8,791.9 L552.6,789.8 L553.4,789.5 L554.2,794.4 L555.0,794.1 L555.8,796.2 L556.6,796.1 L557.4,797.1 L558.2,798.4 L559.0,795.7 L559.8,793.9 L560.6,795.0 L561.4,795.8 L562.2,794.3 L563.0,792.2 L563.8,792.9 L564.6,791.9 L565.4,790.3 L566.2,791.2 L567.0,788.4 L567.8,788.8 L568.6,789.7 L569.4,791.8 L570.2,789.9 L571.0,792.7 L571.8,791.0 L572.6,790.7 L573.4,792.1 L574.2,791.2 L575.0,790.3 L575.8,786.6 L576.6,786.8 L577.4,785.6 L578.2,785.3 L579.0,787.9 L579.8,788.0 L580.6,788.5 L581.4,789.4 L582.2,788.0 L583.0,790.6 L583.8,792.9 L584.6,796.3 L585.4,794.1 L586.2,791.3 L587.0,791.4 L587.8,789.2 L588.6,789.6 L589.4,788.1 L590.2,789.5 L591.0,790.2 L591.8,790.3 L592.6,794.4 L593.4,794.2 L594.2,795.7 L595.0,792.7 L595.8,790.7 L596.6,792.2 L597.4,789.8 L598.2,786.9 L599.0,790.6 L599.8,792.4 L600.6,795.1 L601.4,796.6 L602.2,797.1 L603.0,795.7 L603.8,796.3 L604.6,798.1 L605.4,797.8 L606.2,799.0 L607.0,799.3 L607.8,798.8 L608.6,796.6 L609.4,796.1 L610.2,794.8 L611.0,795.4 L611.8,793.1 L612.6,792.6 L613.4,791.0 L614.2,791.2 L615.0,791.0 L615.8,791.5 L616.6,788.8 L617.4,791.6 L618.2,789.5 L619.0,791.3 L619.8,790.8 L620.6,791.9 L621.4,790.9 L622.2,789.4 L623.0,792.1 L623.8,793.0 L624.6,789.6 L625.4,789.5 L626.2,789.8 L627.0,789.8 L627.8,790.0 L628.6,790.7 L629.4,790.3 L630.2,789.9 L631.0,790.1 L631.8,787.7 L632.6,787.7" fill="none" stroke="#ff0505" stroke-width="1.9" stroke-linejoin="round"/><rect x="117.50" y="701.80" width="515.40" height="157.10" fill="none" stroke="#000" stroke-width="4.6"/>
<rect x="145.20" y="871.50" width="80.60" height="158.60" fill="#bed9ba"/><rect x="279.90" y="871.50" width="67.00" height="158.60" fill="#b3b3ff"/><rect x="401.40" y="871.50" width="67.50" height="158.60" fill="#ffbcbc"/><rect x="536.40" y="871.50" width="66.80" height="158.60" fill="#b3b3ff"/><path d="M119.8,966.7 L120.6,965.5 L121.4,964.1 L122.2,962.9 L123.0,960.7 L123.8,959.6 L124.6,961.4 L125.4,962.8 L126.2,964.6 L127.0,965.5 L127.8,966.9 L128.6,970.1 L129.4,969.0 L130.2,967.6 L131.0,966.6 L131.8,964.6 L132.6,964.6 L133.4,964.5 L134.2,964.4 L135.0,965.7 L135.8,962.8 L136.6,963.3 L137.4,963.3 L138.2,964.0 L139.0,964.2 L139.8,961.6 L140.6,962.4 L141.4,962.8 L142.2,961.4 L143.0,963.1 L143.8,961.0 L144.6,961.5 L145.4,961.6 L146.2,961.5 L147.0,960.9 L147.8,960.7 L148.6,961.0 L149.4,959.0 L150.2,961.9 L151.0,961.3 L151.8,960.9 L152.6,962.2 L153.4,961.8 L154.2,960.4 L155.0,959.5 L155.8,960.0 L156.6,960.5 L157.4,958.5 L158.2,955.4 L159.0,954.4 L159.8,953.2 L160.6,951.7 L161.4,949.9 L162.2,949.4 L163.0,948.3 L163.8,947.4 L164.6,947.0 L165.4,946.3 L166.2,946.4 L167.0,942.5 L167.8,939.4 L168.6,937.7 L169.4,937.1 L170.2,935.0 L171.0,933.1 L171.8,931.3 L172.6,930.7 L173.4,929.7 L174.2,927.9 L175.0,925.7 L175.8,925.4 L176.6,925.4 L177.4,927.2 L178.2,925.2 L179.0,925.0 L179.8,926.2 L180.6,925.4 L181.4,927.6 L182.2,928.1 L183.0,928.3 L183.8,927.1 L184.6,922.9 L185.4,922.4 L186.2,921.1 L187.0,918.7 L187.8,918.8 L188.6,918.4 L189.4,917.5 L190.2,917.5 L191.0,919.0 L191.8,918.9 L192.6,920.4 L193.4,920.8 L194.2,922.6 L195.0,923.1 L195.8,924.9 L196.6,928.1 L197.4,928.9 L198.2,930.5 L199.0,930.5 L199.8,930.4 L200.6,930.9 L201.4,928.3 L202.2,927.8 L203.0,925.9 L203.8,924.4 L204.6,923.4 L205.4,921.7 L206.2,921.0 L207.0,918.3 L207.8,919.6 L208.6,921.5 L209.4,921.1 L210.2,921.2 L211.0,922.8 L211.8,924.6 L212.6,923.7 L213.4,923.8 L214.2,923.6 L215.0,921.8 L215.8,920.8 L216.6,919.5 L217.4,920.3 L218.2,921.2 L219.0,921.9 L219.8,922.9 L220.6,925.2 L221.4,926.3 L222.2,927.6 L223.0,930.0 L223.8,932.3 L224.6,933.4 L225.4,933.8 L226.2,936.0 L227.0,938.1 L227.8,938.0 L228.6,938.1 L229.4,941.6 L230.2,943.1 L231.0,943.5 L231.8,944.3 L232.6,945.9 L233.4,946.4 L234.2,948.5 L235.0,950.1 L235.8,949.4 L236.6,951.5 L237.4,952.4 L238.2,953.5 L239.0,952.9 L239.8,953.1 L240.6,954.4 L241.4,954.6 L242.2,956.1 L243.0,955.5 L243.8,956.9 L244.6,958.1 L245.4,959.1 L246.2,960.2 L247.0,961.1 L247.8,962.7 L248.6,965.4 L249.4,968.1 L250.2,965.9 L251.0,965.0 L251.8,964.2 L252.6,962.0 L253.4,962.4 L254.2,963.9 L255.0,964.3 L255.8,965.8 L256.6,966.4 L257.4,966.9 L258.2,967.8 L259.0,969.5 L259.8,969.2 L260.6,970.0 L261.4,969.9 L262.2,969.8 L263.0,969.8 L263.8,971.3 L264.6,972.5 L265.4,973.5 L266.2,972.2 L267.0,969.9 L267.8,968.2 L268.6,965.8 L269.4,964.3 L270.2,961.4 L271.0,959.6 L271.8,959.9 L272.6,962.5 L273.4,963.5 L274.2,962.8 L275.0,962.8 L275.8,963.2 L276.6,963.1 L277.4,962.0 L278.2,962.6 L279.0,960.3 L279.8,959.9 L280.6,961.4 L281.4,960.9 L282.2,959.2 L283.0,960.5 L283.8,960.5 L284.6,957.7 L285.4,956.0 L286.2,957.6 L287.0,957.8 L287.8,955.4 L288.6,955.8 L289.4,956.2 L290.2,958.7 L291.0,959.2 L291.8,961.0 L292.6,960.9 L293.4,961.3 L294.2,961.7 L295.0,960.5 L295.8,962.1 L296.6,961.0 L297.4,961.0 L298.2,961.6 L299.0,961.0 L299.8,961.5 L300.6,963.6 L301.4,963.8 L302.2,964.6 L303.0,968.0 L303.8,968.5 L304.6,967.6 L305.4,966.2 L306.2,966.2 L307.0,965.5 L307.8,963.1 L308.6,961.7 L309.4,962.2 L310.2,961.3 L311.0,961.1 L311.8,960.4 L312.6,961.1 L313.4,961.9 L314.2,961.9 L315.0,962.0 L315.8,961.7 L316.6,962.1 L317.4,962.9 L318.2,961.5 L319.0,959.8 L319.8,958.3 L320.6,957.5 L321.4,958.3 L322.2,958.9 L323.0,960.1 L323.8,961.7 L324.6,963.0 L325.4,964.6 L326.2,964.5 L327.0,967.2 L327.8,967.0 L328.6,966.8 L329.4,966.2 L330.2,965.2 L331.0,964.8 L331.8,964.1 L332.6,963.7 L333.4,965.6 L334.2,963.7 L335.0,964.6 L335.8,963.1 L336.6,963.4 L337.4,964.9 L338.2,964.3 L339.0,965.4 L339.8,964.4 L340.6,966.3 L341.4,964.6 L342.2,964.8 L343.0,965.5 L343.8,965.2 L344.6,965.5 L345.4,966.7 L346.2,967.2 L347.0,966.4 L347.8,965.7 L348.6,965.4 L349.4,964.8 L350.2,963.0 L351.0,961.7 L351.8,962.1 L352.6,962.6 L353.4,961.6 L354.2,963.3 L355.0,962.7 L355.8,962.7 L356.6,962.4 L357.4,962.3 L358.2,963.4 L359.0,964.6 L359.8,966.5 L360.6,967.1 L361.4,967.1 L362.2,968.5 L363.0,968.4 L363.8,968.5 L364.6,968.4 L365.4,966.7 L366.2,966.7 L367.0,967.7 L367.8,967.7 L368.6,967.9 L369.4,967.8 L370.2,968.5 L371.0,968.3 L371.8,966.8 L372.6,965.9 L373.4,963.3 L374.2,961.3 L375.0,961.4 L375.8,961.5 L376.6,961.5 L377.4,962.4 L378.2,962.3 L379.0,963.9 L379.8,962.9 L380.6,961.9 L381.4,963.0 L382.2,962.8 L383.0,965.1 L383.8,965.3 L384.6,965.5 L385.4,967.3 L386.2,969.5 L387.0,970.9 L387.8,972.5 L388.6,971.8 L389.4,971.7 L390.2,970.9 L391.0,970.8 L391.8,969.4 L392.6,967.9 L393.4,964.9 L394.2,964.3 L395.0,964.1 L395.8,966.0 L396.6,966.8 L397.4,966.9 L398.2,969.1 L399.0,970.2 L399.8,971.5 L400.6,969.8 L401.4,971.0 L402.2,969.6 L403.0,969.9 L403.8,968.3 L404.6,967.1 L405.4,966.1 L406.2,963.2 L407.0,962.4 L407.8,962.3 L408.6,963.1 L409.4,962.9 L410.2,962.0 L411.0,961.9 L411.8,958.7 L412.6,960.0 L413.4,958.2 L414.2,957.9 L415.0,958.6 L415.8,958.6 L416.6,958.9 L417.4,959.1 L418.2,958.7 L419.0,959.3 L419.8,958.8 L420.6,958.0 L421.4,957.9 L422.2,959.0 L423.0,959.0 L423.8,957.5 L424.6,956.7 L425.4,958.9 L426.2,959.2 L427.0,960.4 L427.8,962.0 L428.6,963.8 L429.4,965.3 L430.2,967.3 L431.0,968.7 L431.8,969.1 L432.6,971.0 L433.4,972.0 L434.2,970.4 L435.0,971.3 L435.8,970.0 L436.6,968.4 L437.4,970.3 L438.2,971.5 L439.0,972.8 L439.8,971.1 L440.6,972.4 L441.4,972.2 L442.2,971.0 L443.0,971.4 L443.8,971.4 L444.6,972.2 L445.4,970.7 L446.2,970.5 L447.0,970.9 L447.8,970.5 L448.6,970.2 L449.4,968.8 L450.2,968.4 L451.0,969.0 L451.8,969.4 L452.6,969.4 L453.4,968.3 L454.2,968.3 L455.0,967.9 L455.8,968.8 L456.6,968.4 L457.4,968.2 L458.2,970.8 L459.0,971.2 L459.8,970.2 L460.6,969.3 L461.4,969.2 L462.2,969.3 L463.0,970.2 L463.8,969.4 L464.6,968.0 L465.4,967.9 L466.2,968.0 L467.0,967.5 L467.8,967.2 L468.6,967.0 L469.4,968.2 L470.2,968.1 L471.0,967.7 L471.8,968.1 L472.6,968.7 L473.4,969.4 L474.2,969.7 L475.0,969.8 L475.8,970.1 L476.6,968.9 L477.4,969.0 L478.2,969.7 L479.0,969.7 L479.8,967.9 L480.6,964.5 L481.4,961.4 L482.2,958.8 L483.0,957.2 L483.8,954.6 L484.6,952.0 L485.4,949.5 L486.2,948.3 L487.0,948.1 L487.8,947.5 L488.6,947.1 L489.4,946.6 L490.2,945.0 L491.0,945.5 L491.8,944.9 L492.6,945.6 L493.4,944.0 L494.2,943.5 L495.0,942.5 L495.8,942.2 L496.6,941.1 L497.4,944.5 L498.2,944.3 L499.0,944.7 L499.8,943.8 L500.6,945.2 L501.4,946.2 L502.2,946.7 L503.0,947.9 L503.8,950.0 L504.6,953.4 L505.4,955.3 L506.2,956.7 L507.0,956.4 L507.8,956.2 L508.6,957.7 L509.4,959.0 L510.2,958.6 L511.0,958.3 L511.8,958.4 L512.6,959.3 L513.4,961.5 L514.2,962.9 L515.0,964.8 L515.8,967.7 L516.6,968.6 L517.4,970.1 L518.2,971.2 L519.0,971.3 L519.8,970.5 L520.6,971.6 L521.4,970.7 L522.2,970.3 L523.0,970.2 L523.8,969.6 L524.6,970.0 L525.4,969.6 L526.2,968.5 L527.0,966.6 L527.8,966.5 L528.6,966.6 L529.4,967.2 L530.2,966.3 L531.0,966.3 L531.8,966.9 L532.6,967.5 L533.4,967.0 L534.2,966.0 L535.0,966.9 L535.8,965.9 L536.6,966.9 L537.4,965.2 L538.2,964.5 L539.0,962.9 L539.8,963.3 L540.6,963.5 L541.4,963.4 L542.2,960.7 L543.0,959.6 L543.8,956.7 L544.6,955.2 L545.4,956.0 L546.2,957.9 L547.0,958.6 L547.8,959.8 L548.6,960.9 L549.4,961.6 L550.2,963.0 L551.0,964.1 L551.8,965.5 L552.6,965.0 L553.4,964.9 L554.2,964.5 L555.0,965.5 L555.8,966.7 L556.6,965.9 L557.4,967.1 L558.2,966.7 L559.0,966.0 L559.8,965.8 L560.6,965.6 L561.4,963.1 L562.2,964.9 L563.0,962.5 L563.8,962.9 L564.6,963.5 L565.4,964.6 L566.2,963.7 L567.0,966.1 L567.8,964.7 L568.6,966.4 L569.4,966.2 L570.2,967.3 L571.0,967.7 L571.8,968.2 L572.6,968.6 L573.4,968.2 L574.2,969.2 L575.0,968.6 L575.8,968.4 L576.6,969.4 L577.4,966.9 L578.2,966.1 L579.0,966.8 L579.8,966.3 L580.6,968.1 L581.4,967.5 L582.2,968.3 L583.0,969.0 L583.8,967.9 L584.6,967.5 L585.4,967.2 L586.2,966.0 L587.0,966.2 L587.8,966.8 L588.6,967.5 L589.4,967.4 L590.2,968.4 L591.0,969.6 L591.8,969.2 L592.6,970.1 L593.4,969.7 L594.2,969.8 L595.0,968.1 L595.8,968.8 L596.6,969.8 L597.4,967.7 L598.2,966.8 L599.0,967.9 L599.8,967.1 L600.6,966.8 L601.4,967.3 L602.2,966.5 L603.0,967.3 L603.8,965.1 L604.6,966.9 L605.4,966.4 L606.2,965.0 L607.0,964.3 L607.8,963.9 L608.6,964.7 L609.4,964.3 L610.2,964.1 L611.0,962.6 L611.8,964.6 L612.6,965.5 L613.4,965.8 L614.2,966.9 L615.0,967.1 L615.8,966.0 L616.6,963.7 L617.4,962.4 L618.2,960.7 L619.0,961.4 L619.8,960.8 L620.6,959.1 L621.4,959.2 L622.2,958.9 L623.0,958.8 L623.8,957.5 L624.6,955.4 L625.4,953.1 L626.2,953.8 L627.0,951.8 L627.8,951.6 L628.6,950.8 L629.4,950.0 L630.2,951.6 L631.0,950.4 L631.8,950.8 L632.6,951.7" fill="none" stroke="#058205" stroke-width="1.9" stroke-linejoin="round"/><path d="M119.8,946.6 L120.6,949.0 L121.4,949.3 L122.2,949.6 L123.0,949.1 L123.8,950.9 L124.6,950.8 L125.4,951.9 L126.2,953.4 L127.0,952.7 L127.8,953.1 L128.6,954.3 L129.4,955.1 L130.2,953.9 L131.0,954.8 L131.8,955.2 L132.6,955.7 L133.4,956.4 L134.2,955.3 L135.0,955.1 L135.8,955.5 L136.6,955.3 L137.4,954.7 L138.2,953.2 L139.0,954.3 L139.8,955.4 L140.6,955.1 L141.4,953.8 L142.2,954.8 L143.0,955.6 L143.8,956.4 L144.6,955.8 L145.4,958.6 L146.2,958.1 L147.0,959.9 L147.8,958.9 L148.6,957.5 L149.4,959.2 L150.2,958.8 L151.0,957.1 L151.8,957.2 L152.6,957.4 L153.4,956.7 L154.2,957.6 L155.0,958.2 L155.8,959.1 L156.6,960.2 L157.4,960.6 L158.2,962.6 L159.0,964.1 L159.8,964.9 L160.6,963.8 L161.4,963.4 L162.2,963.0 L163.0,964.9 L163.8,963.3 L164.6,963.2 L165.4,963.3 L166.2,964.1 L167.0,966.9 L167.8,967.9 L168.6,967.4 L169.4,967.4 L170.2,966.7 L171.0,963.2 L171.8,963.6 L172.6,962.5 L173.4,963.7 L174.2,964.0 L175.0,964.4 L175.8,965.1 L176.6,966.2 L177.4,964.8 L178.2,965.4 L179.0,965.4 L179.8,964.2 L180.6,963.6 L181.4,964.0 L182.2,965.1 L183.0,964.8 L183.8,965.2 L184.6,964.4 L185.4,963.6 L186.2,967.3 L187.0,967.0 L187.8,966.3 L188.6,966.8 L189.4,966.1 L190.2,967.3 L191.0,966.2 L191.8,965.5 L192.6,965.1 L193.4,966.2 L194.2,965.5 L195.0,965.8 L195.8,963.9 L196.6,964.3 L197.4,962.6 L198.2,961.9 L199.0,962.5 L199.8,961.2 L200.6,961.5 L201.4,961.0 L202.2,962.9 L203.0,963.3 L203.8,964.8 L204.6,962.6 L205.4,965.4 L206.2,966.4 L207.0,967.4 L207.8,967.1 L208.6,966.3 L209.4,966.2 L210.2,965.2 L211.0,963.7 L211.8,964.5 L212.6,965.6 L213.4,965.6 L214.2,965.8 L215.0,967.1 L215.8,967.7 L216.6,969.2 L217.4,968.1 L218.2,969.4 L219.0,969.0 L219.8,968.5 L220.6,967.9 L221.4,967.2 L222.2,966.7 L223.0,965.7 L223.8,963.8 L224.6,964.0 L225.4,963.0 L226.2,963.1 L227.0,961.3 L227.8,961.4 L228.6,961.4 L229.4,962.2 L230.2,962.6 L231.0,961.2 L231.8,960.6 L232.6,960.4 L233.4,959.5 L234.2,960.0 L235.0,959.0 L235.8,959.5 L236.6,957.4 L237.4,957.3 L238.2,956.8 L239.0,957.5 L239.8,958.7 L240.6,960.5 L241.4,959.6 L242.2,958.9 L243.0,957.2 L243.8,956.7 L244.6,956.6 L245.4,957.4 L246.2,956.6 L247.0,956.7 L247.8,957.6 L248.6,957.1 L249.4,958.5 L250.2,959.0 L251.0,958.8 L251.8,959.5 L252.6,959.8 L253.4,959.0 L254.2,959.7 L255.0,958.5 L255.8,957.7 L256.6,958.0 L257.4,959.0 L258.2,958.1 L259.0,959.8 L259.8,958.9 L260.6,960.7 L261.4,959.9 L262.2,960.3 L263.0,961.9 L263.8,961.3 L264.6,960.8 L265.4,960.5 L266.2,962.1 L267.0,963.5 L267.8,964.8 L268.6,964.6 L269.4,963.8 L270.2,960.8 L271.0,959.5 L271.8,959.9 L272.6,961.5 L273.4,960.2 L274.2,960.2 L275.0,961.0 L275.8,961.2 L276.6,960.2 L277.4,960.5 L278.2,960.7 L279.0,959.7 L279.8,958.9 L280.6,958.1 L281.4,958.4 L282.2,960.2 L283.0,960.1 L283.8,960.0 L284.6,960.5 L285.4,958.7 L286.2,959.1 L287.0,959.9 L287.8,960.5 L288.6,961.7 L289.4,963.3 L290.2,964.1 L291.0,963.1 L291.8,962.3 L292.6,962.0 L293.4,962.3 L294.2,961.4 L295.0,960.1 L295.8,959.7 L296.6,959.2 L297.4,957.0 L298.2,956.2 L299.0,953.2 L299.8,950.6 L300.6,951.1 L301.4,947.7 L302.2,948.6 L303.0,945.6 L303.8,944.7 L304.6,943.7 L305.4,941.6 L306.2,943.1 L307.0,941.5 L307.8,940.4 L308.6,938.6 L309.4,941.1 L310.2,940.2 L311.0,941.3 L311.8,940.8 L312.6,941.5 L313.4,941.9 L314.2,940.0 L315.0,939.7 L315.8,940.6 L316.6,939.5 L317.4,940.0 L318.2,940.0 L319.0,941.3 L319.8,942.2 L320.6,942.4 L321.4,942.3 L322.2,943.3 L323.0,943.1 L323.8,940.4 L324.6,941.6 L325.4,940.3 L326.2,939.0 L327.0,937.9 L327.8,937.4 L328.6,936.6 L329.4,936.8 L330.2,936.0 L331.0,937.3 L331.8,937.0 L332.6,939.4 L333.4,938.7 L334.2,941.0 L335.0,940.2 L335.8,941.7 L336.6,941.7 L337.4,940.5 L338.2,940.8 L339.0,939.7 L339.8,940.5 L340.6,939.1 L341.4,938.2 L342.2,938.8 L343.0,941.0 L343.8,938.0 L344.6,936.2 L345.4,935.7 L346.2,937.2 L347.0,940.1 L347.8,939.3 L348.6,942.7 L349.4,943.4 L350.2,944.8 L351.0,947.6 L351.8,948.1 L352.6,950.9 L353.4,950.6 L354.2,949.5 L355.0,950.1 L355.8,949.1 L356.6,948.2 L357.4,948.2 L358.2,951.0 L359.0,952.9 L359.8,954.5 L360.6,955.0 L361.4,954.9 L362.2,955.4 L363.0,955.0 L363.8,956.6 L364.6,956.6 L365.4,956.1 L366.2,955.6 L367.0,955.4 L367.8,954.3 L368.6,955.4 L369.4,954.6 L370.2,954.7 L371.0,954.9 L371.8,954.9 L372.6,957.4 L373.4,959.0 L374.2,960.3 L375.0,960.1 L375.8,961.1 L376.6,960.0 L377.4,958.8 L378.2,958.6 L379.0,958.0 L379.8,958.0 L380.6,957.4 L381.4,956.1 L382.2,955.6 L383.0,955.7 L383.8,955.1 L384.6,954.7 L385.4,954.5 L386.2,952.8 L387.0,953.3 L387.8,952.5 L388.6,952.7 L389.4,953.4 L390.2,954.4 L391.0,954.2 L391.8,954.5 L392.6,955.1 L393.4,955.8 L394.2,956.3 L395.0,958.7 L395.8,960.1 L396.6,958.4 L397.4,957.4 L398.2,958.4 L399.0,957.3 L399.8,956.8 L400.6,956.6 L401.4,956.6 L402.2,957.3 L403.0,956.9 L403.8,957.6 L404.6,959.5 L405.4,959.3 L406.2,958.2 L407.0,959.8 L407.8,960.9 L408.6,959.7 L409.4,959.8 L410.2,960.4 L411.0,959.2 L411.8,959.3 L412.6,959.0 L413.4,959.2 L414.2,960.0 L415.0,959.1 L415.8,958.2 L416.6,957.4 L417.4,957.3 L418.2,956.3 L419.0,956.6 L419.8,957.6 L420.6,957.3 L421.4,956.2 L422.2,956.3 L423.0,954.8 L423.8,955.1 L424.6,955.5 L425.4,955.4 L426.2,954.2 L427.0,956.3 L427.8,956.5 L428.6,956.9 L429.4,956.0 L430.2,959.0 L431.0,958.9 L431.8,959.3 L432.6,959.3 L433.4,959.0 L434.2,959.1 L435.0,959.3 L435.8,958.8 L436.6,958.3 L437.4,959.6 L438.2,960.1 L439.0,959.4 L439.8,960.2 L440.6,959.1 L441.4,960.2 L442.2,959.9 L443.0,959.1 L443.8,959.3 L444.6,959.2 L445.4,958.9 L446.2,959.5 L447.0,961.5 L447.8,962.5 L448.6,963.9 L449.4,964.0 L450.2,964.6 L451.0,964.8 L451.8,965.3 L452.6,965.2 L453.4,964.9 L454.2,966.4 L455.0,966.0 L455.8,966.5 L456.6,966.7 L457.4,963.6 L458.2,963.0 L459.0,961.6 L459.8,962.4 L460.6,962.7 L461.4,963.3 L462.2,962.8 L463.0,961.2 L463.8,960.5 L464.6,960.8 L465.4,960.2 L466.2,958.2 L467.0,957.5 L467.8,957.1 L468.6,956.0 L469.4,955.0 L470.2,953.6 L471.0,954.5 L471.8,954.7 L472.6,954.0 L473.4,953.9 L474.2,954.0 L475.0,955.0 L475.8,955.7 L476.6,955.5 L477.4,954.9 L478.2,954.8 L479.0,953.5 L479.8,952.9 L480.6,953.1 L481.4,954.4 L482.2,955.3 L483.0,955.6 L483.8,955.9 L484.6,955.0 L485.4,954.9 L486.2,955.6 L487.0,956.3 L487.8,955.3 L488.6,956.5 L489.4,956.5 L490.2,958.0 L491.0,958.4 L491.8,958.8 L492.6,958.6 L493.4,957.7 L494.2,959.5 L495.0,959.4 L495.8,960.3 L496.6,958.8 L497.4,957.8 L498.2,960.0 L499.0,959.3 L499.8,959.0 L500.6,960.3 L501.4,960.8 L502.2,959.6 L503.0,960.0 L503.8,962.4 L504.6,959.0 L505.4,958.1 L506.2,954.6 L507.0,954.0 L507.8,954.2 L508.6,954.5 L509.4,957.0 L510.2,957.8 L511.0,955.6 L511.8,954.7 L512.6,955.7 L513.4,953.2 L514.2,953.3 L515.0,951.8 L515.8,953.0 L516.6,954.3 L517.4,952.5 L518.2,951.5 L519.0,951.7 L519.8,952.0 L520.6,950.2 L521.4,948.6 L522.2,948.0 L523.0,947.9 L523.8,947.9 L524.6,946.9 L525.4,948.2 L526.2,947.8 L527.0,948.6 L527.8,949.5 L528.6,951.0 L529.4,953.0 L530.2,955.4 L531.0,954.2 L531.8,952.2 L532.6,951.1 L533.4,952.8 L534.2,952.3 L535.0,954.3 L535.8,955.7 L536.6,957.7 L537.4,957.0 L538.2,958.6 L539.0,959.2 L539.8,958.7 L540.6,961.3 L541.4,962.0 L542.2,961.4 L543.0,961.9 L543.8,962.2 L544.6,962.5 L545.4,962.0 L546.2,961.7 L547.0,961.3 L547.8,960.4 L548.6,958.7 L549.4,957.4 L550.2,956.3 L551.0,955.2 L551.8,953.3 L552.6,951.2 L553.4,948.3 L554.2,947.9 L555.0,946.9 L555.8,945.7 L556.6,945.0 L557.4,944.6 L558.2,944.3 L559.0,944.8 L559.8,943.5 L560.6,945.5 L561.4,945.6 L562.2,943.6 L563.0,943.1 L563.8,943.1 L564.6,943.1 L565.4,941.9 L566.2,940.5 L567.0,941.1 L567.8,941.0 L568.6,940.8 L569.4,940.7 L570.2,939.6 L571.0,939.9 L571.8,936.9 L572.6,936.2 L573.4,937.8 L574.2,939.9 L575.0,940.8 L575.8,942.3 L576.6,945.1 L577.4,944.7 L578.2,942.8 L579.0,941.7 L579.8,941.3 L580.6,940.2 L581.4,939.4 L582.2,937.9 L583.0,937.4 L583.8,937.6 L584.6,937.5 L585.4,937.2 L586.2,939.7 L587.0,941.1 L587.8,941.3 L588.6,943.1 L589.4,943.5 L590.2,943.6 L591.0,941.7 L591.8,939.9 L592.6,936.7 L593.4,936.6 L594.2,936.7 L595.0,936.5 L595.8,936.9 L596.6,937.2 L597.4,937.2 L598.2,937.4 L599.0,937.1 L599.8,936.8 L600.6,936.0 L601.4,937.8 L602.2,938.3 L603.0,940.1 L603.8,940.6 L604.6,942.0 L605.4,943.3 L606.2,945.0 L607.0,945.2 L607.8,946.9 L608.6,947.0 L609.4,947.1 L610.2,946.3 L611.0,947.1 L611.8,947.6 L612.6,947.3 L613.4,950.5 L614.2,951.6 L615.0,952.6 L615.8,951.7 L616.6,952.9 L617.4,952.2 L618.2,952.1 L619.0,952.5 L619.8,954.0 L620.6,953.8 L621.4,955.1 L622.2,956.1 L623.0,955.1 L623.8,954.7 L624.6,955.0 L625.4,955.8 L626.2,954.3 L627.0,954.2 L627.8,953.7 L628.6,952.4 L629.4,952.6 L630.2,956.1 L631.0,954.2 L631.8,953.8 L632.6,953.1" fill="none" stroke="#0505ff" stroke-width="1.9" stroke-linejoin="round"/><path d="M119.8,966.3 L120.6,965.7 L121.4,965.0 L122.2,964.7 L123.0,963.8 L123.8,964.9 L124.6,964.0 L125.4,964.0 L126.2,964.2 L127.0,963.4 L127.8,963.7 L128.6,966.6 L129.4,967.8 L130.2,967.5 L131.0,967.8 L131.8,967.8 L132.6,967.5 L133.4,967.2 L134.2,966.7 L135.0,965.5 L135.8,967.4 L136.6,967.5 L137.4,966.9 L138.2,966.8 L139.0,968.1 L139.8,968.1 L140.6,967.8 L141.4,967.5 L142.2,968.6 L143.0,967.5 L143.8,966.5 L144.6,966.1 L145.4,965.0 L146.2,963.7 L147.0,962.1 L147.8,963.5 L148.6,965.1 L149.4,966.7 L150.2,967.3 L151.0,967.8 L151.8,966.1 L152.6,966.2 L153.4,966.8 L154.2,966.0 L155.0,965.3 L155.8,964.7 L156.6,964.8 L157.4,963.9 L158.2,964.4 L159.0,963.8 L159.8,964.2 L160.6,965.4 L161.4,965.5 L162.2,966.0 L163.0,965.9 L163.8,964.8 L164.6,964.0 L165.4,963.1 L166.2,964.1 L167.0,963.8 L167.8,966.2 L168.6,965.5 L169.4,965.9 L170.2,967.3 L171.0,967.7 L171.8,968.5 L172.6,967.8 L173.4,971.3 L174.2,969.7 L175.0,971.1 L175.8,970.5 L176.6,969.0 L177.4,970.9 L178.2,971.2 L179.0,971.2 L179.8,971.9 L180.6,970.3 L181.4,969.3 L182.2,969.4 L183.0,968.8 L183.8,969.2 L184.6,968.7 L185.4,967.8 L186.2,969.3 L187.0,970.7 L187.8,970.5 L188.6,970.9 L189.4,969.6 L190.2,970.8 L191.0,968.9 L191.8,969.3 L192.6,968.6 L193.4,967.2 L194.2,966.6 L195.0,965.5 L195.8,966.4 L196.6,966.2 L197.4,968.1 L198.2,969.1 L199.0,968.2 L199.8,969.4 L200.6,969.6 L201.4,971.7 L202.2,971.6 L203.0,970.4 L203.8,972.1 L204.6,971.1 L205.4,970.0 L206.2,971.2 L207.0,971.1 L207.8,970.4 L208.6,969.1 L209.4,968.3 L210.2,969.5 L211.0,968.7 L211.8,967.0 L212.6,967.2 L213.4,967.2 L214.2,965.2 L215.0,966.1 L215.8,966.3 L216.6,966.0 L217.4,964.6 L218.2,966.5 L219.0,964.8 L219.8,963.8 L220.6,966.8 L221.4,965.7 L222.2,965.2 L223.0,966.2 L223.8,967.0 L224.6,966.2 L225.4,962.8 L226.2,963.2 L227.0,963.5 L227.8,963.8 L228.6,963.8 L229.4,964.8 L230.2,964.1 L231.0,964.0 L231.8,963.0 L232.6,963.0 L233.4,963.2 L234.2,961.6 L235.0,960.8 L235.8,963.4 L236.6,961.9 L237.4,961.4 L238.2,962.6 L239.0,962.7 L239.8,963.5 L240.6,962.3 L241.4,959.7 L242.2,960.4 L243.0,958.6 L243.8,959.3 L244.6,960.5 L245.4,959.3 L246.2,958.5 L247.0,958.2 L247.8,959.1 L248.6,958.7 L249.4,958.3 L250.2,959.4 L251.0,959.2 L251.8,958.0 L252.6,956.1 L253.4,953.9 L254.2,955.6 L255.0,955.7 L255.8,955.1 L256.6,953.4 L257.4,953.4 L258.2,953.3 L259.0,953.3 L259.8,951.8 L260.6,953.4 L261.4,953.1 L262.2,951.1 L263.0,951.6 L263.8,952.0 L264.6,950.7 L265.4,951.2 L266.2,949.5 L267.0,949.4 L267.8,950.9 L268.6,952.0 L269.4,954.7 L270.2,956.2 L271.0,956.6 L271.8,954.5 L272.6,953.3 L273.4,952.6 L274.2,951.7 L275.0,951.7 L275.8,952.3 L276.6,954.3 L277.4,953.9 L278.2,955.1 L279.0,955.5 L279.8,956.5 L280.6,956.9 L281.4,957.2 L282.2,955.9 L283.0,956.0 L283.8,957.8 L284.6,959.1 L285.4,959.4 L286.2,960.4 L287.0,960.0 L287.8,959.1 L288.6,960.5 L289.4,961.0 L290.2,962.4 L291.0,962.3 L291.8,963.5 L292.6,963.3 L293.4,962.3 L294.2,963.0 L295.0,964.6 L295.8,963.5 L296.6,963.0 L297.4,963.4 L298.2,964.2 L299.0,963.3 L299.8,962.4 L300.6,963.0 L301.4,964.6 L302.2,963.7 L303.0,963.5 L303.8,962.5 L304.6,963.7 L305.4,966.0 L306.2,964.9 L307.0,965.6 L307.8,967.2 L308.6,965.4 L309.4,965.6 L310.2,966.1 L311.0,965.8 L311.8,965.9 L312.6,966.4 L313.4,965.9 L314.2,964.8 L315.0,964.4 L315.8,966.2 L316.6,964.3 L317.4,965.6 L318.2,964.2 L319.0,963.1 L319.8,964.1 L320.6,964.0 L321.4,963.8 L322.2,962.6 L323.0,965.3 L323.8,963.4 L324.6,964.0 L325.4,966.2 L326.2,963.2 L327.0,962.6 L327.8,961.8 L328.6,962.6 L329.4,961.3 L330.2,960.0 L331.0,960.6 L331.8,959.4 L332.6,959.5 L333.4,960.1 L334.2,960.6 L335.0,960.0 L335.8,958.8 L336.6,960.4 L337.4,958.4 L338.2,957.6 L339.0,957.5 L339.8,958.2 L340.6,957.3 L341.4,957.0 L342.2,957.5 L343.0,959.6 L343.8,960.2 L344.6,960.4 L345.4,962.0 L346.2,963.7 L347.0,963.8 L347.8,964.8 L348.6,965.5 L349.4,963.4 L350.2,961.9 L351.0,962.1 L351.8,960.0 L352.6,961.3 L353.4,957.7 L354.2,958.7 L355.0,958.2 L355.8,956.2 L356.6,954.6 L357.4,954.6 L358.2,952.2 L359.0,949.8 L359.8,948.5 L360.6,947.8 L361.4,949.3 L362.2,950.8 L363.0,951.5 L363.8,951.2 L364.6,952.1 L365.4,952.5 L366.2,951.6 L367.0,952.2 L367.8,952.1 L368.6,953.2 L369.4,953.5 L370.2,953.7 L371.0,956.0 L371.8,954.9 L372.6,954.4 L373.4,954.4 L374.2,955.0 L375.0,954.7 L375.8,953.5 L376.6,954.7 L377.4,955.1 L378.2,955.8 L379.0,956.1 L379.8,957.1 L380.6,957.4 L381.4,959.1 L382.2,958.6 L383.0,959.3 L383.8,959.7 L384.6,959.6 L385.4,958.3 L386.2,958.7 L387.0,959.8 L387.8,959.0 L388.6,958.1 L389.4,958.3 L390.2,959.5 L391.0,959.0 L391.8,958.5 L392.6,957.1 L393.4,958.1 L394.2,958.8 L395.0,958.0 L395.8,956.6 L396.6,956.0 L397.4,955.1 L398.2,955.4 L399.0,956.4 L399.8,954.7 L400.6,954.1 L401.4,955.1 L402.2,954.9 L403.0,956.1 L403.8,956.4 L404.6,958.5 L405.4,958.3 L406.2,959.4 L407.0,960.3 L407.8,960.7 L408.6,961.1 L409.4,960.7 L410.2,961.6 L411.0,961.7 L411.8,962.3 L412.6,962.0 L413.4,960.7 L414.2,960.2 L415.0,962.4 L415.8,961.3 L416.6,963.3 L417.4,964.1 L418.2,963.6 L419.0,964.2 L419.8,963.1 L420.6,961.2 L421.4,960.5 L422.2,959.1 L423.0,957.2 L423.8,954.8 L424.6,953.3 L425.4,951.6 L426.2,950.9 L427.0,948.1 L427.8,945.9 L428.6,944.6 L429.4,942.3 L430.2,941.8 L431.0,940.8 L431.8,939.5 L432.6,939.9 L433.4,938.6 L434.2,936.9 L435.0,937.5 L435.8,934.8 L436.6,934.3 L437.4,933.4 L438.2,935.0 L439.0,934.9 L439.8,935.3 L440.6,933.8 L441.4,933.4 L442.2,932.6 L443.0,931.4 L443.8,930.2 L444.6,930.3 L445.4,928.1 L446.2,925.9 L447.0,925.4 L447.8,925.5 L448.6,922.5 L449.4,922.2 L450.2,921.5 L451.0,920.9 L451.8,921.0 L452.6,923.2 L453.4,925.4 L454.2,924.0 L455.0,925.6 L455.8,925.0 L456.6,924.4 L457.4,926.6 L458.2,928.1 L459.0,930.7 L459.8,929.9 L460.6,931.6 L461.4,931.3 L462.2,932.8 L463.0,933.7 L463.8,935.6 L464.6,938.6 L465.4,940.3 L466.2,942.8 L467.0,944.4 L467.8,946.6 L468.6,948.4 L469.4,950.3 L470.2,951.5 L471.0,952.4 L471.8,953.5 L472.6,953.1 L473.4,953.4 L474.2,953.1 L475.0,953.3 L475.8,954.9 L476.6,955.3 L477.4,956.2 L478.2,956.7 L479.0,958.7 L479.8,959.0 L480.6,961.1 L481.4,964.0 L482.2,963.6 L483.0,962.8 L483.8,964.7 L484.6,964.2 L485.4,963.0 L486.2,963.6 L487.0,962.2 L487.8,962.6 L488.6,962.4 L489.4,963.9 L490.2,965.6 L491.0,965.2 L491.8,964.8 L492.6,966.8 L493.4,967.8 L494.2,968.7 L495.0,966.7 L495.8,965.8 L496.6,966.1 L497.4,965.4 L498.2,966.6 L499.0,964.8 L499.8,966.2 L500.6,964.8 L501.4,966.0 L502.2,965.7 L503.0,966.2 L503.8,965.1 L504.6,966.1 L505.4,965.9 L506.2,965.7 L507.0,967.7 L507.8,966.7 L508.6,967.4 L509.4,966.1 L510.2,966.2 L511.0,965.9 L511.8,964.3 L512.6,962.6 L513.4,962.2 L514.2,961.4 L515.0,961.4 L515.8,962.0 L516.6,962.6 L517.4,961.9 L518.2,962.6 L519.0,962.1 L519.8,963.2 L520.6,962.1 L521.4,961.5 L522.2,963.1 L523.0,962.7 L523.8,961.1 L524.6,961.7 L525.4,962.8 L526.2,962.3 L527.0,962.7 L527.8,961.9 L528.6,962.8 L529.4,962.4 L530.2,961.4 L531.0,959.0 L531.8,960.1 L532.6,960.5 L533.4,960.0 L534.2,958.5 L535.0,959.0 L535.8,959.9 L536.6,959.1 L537.4,959.4 L538.2,959.1 L539.0,959.6 L539.8,960.5 L540.6,960.1 L541.4,960.8 L542.2,961.9 L543.0,962.2 L543.8,960.8 L544.6,963.0 L545.4,961.9 L546.2,961.5 L547.0,961.7 L547.8,962.3 L548.6,962.8 L549.4,962.2 L550.2,962.7 L551.0,963.6 L551.8,962.9 L552.6,964.7 L553.4,964.6 L554.2,965.2 L555.0,964.1 L555.8,966.4 L556.6,965.2 L557.4,966.3 L558.2,965.4 L559.0,966.3 L559.8,964.0 L560.6,963.4 L561.4,965.0 L562.2,965.1 L563.0,964.4 L563.8,964.0 L564.6,963.6 L565.4,964.3 L566.2,965.4 L567.0,966.3 L567.8,965.4 L568.6,966.0 L569.4,965.6 L570.2,966.4 L571.0,967.7 L571.8,967.9 L572.6,966.7 L573.4,967.4 L574.2,964.2 L575.0,962.3 L575.8,961.9 L576.6,960.8 L577.4,960.8 L578.2,961.0 L579.0,959.8 L579.8,960.2 L580.6,960.2 L581.4,960.7 L582.2,962.3 L583.0,961.2 L583.8,962.1 L584.6,964.5 L585.4,964.8 L586.2,963.2 L587.0,961.9 L587.8,961.3 L588.6,959.5 L589.4,958.1 L590.2,956.4 L591.0,955.8 L591.8,957.6 L592.6,958.0 L593.4,958.4 L594.2,957.3 L595.0,957.7 L595.8,957.0 L596.6,958.3 L597.4,956.8 L598.2,957.7 L599.0,958.6 L599.8,961.2 L600.6,961.5 L601.4,963.3 L602.2,966.0 L603.0,967.9 L603.8,967.4 L604.6,969.3 L605.4,970.0 L606.2,969.4 L607.0,968.2 L607.8,968.2 L608.6,967.5 L609.4,965.9 L610.2,964.6 L611.0,964.1 L611.8,963.4 L612.6,964.4 L613.4,963.2 L614.2,962.7 L615.0,962.5 L615.8,962.1 L616.6,961.2 L617.4,960.5 L618.2,961.4 L619.0,960.2 L619.8,961.0 L620.6,960.4 L621.4,959.8 L622.2,962.2 L623.0,962.2 L623.8,961.6 L624.6,961.7 L625.4,962.2 L626.2,960.7 L627.0,960.9 L627.8,960.8 L628.6,961.1 L629.4,959.8 L630.2,960.0 L631.0,959.6 L631.8,959.9 L632.6,960.5" fill="none" stroke="#ff0505" stroke-width="1.9" stroke-linejoin="round"/><rect x="117.50" y="871.50" width="515.40" height="158.60" fill="none" stroke="#000" stroke-width="4.6"/>
<rect x="774.30" y="532.50" width="25.20" height="158.40" fill="#b3b3ff"/><rect x="798.50" y="532.50" width="83.80" height="158.40" fill="#bed9ba"/><rect x="881.30" y="532.50" width="138.50" height="158.40" fill="#b3b3ff"/><rect x="1018.80" y="532.50" width="69.70" height="158.40" fill="#ffbcbc"/><rect x="1087.50" y="532.50" width="83.50" height="158.40" fill="#bed9ba"/><rect x="1170.00" y="532.50" width="69.80" height="158.40" fill="#b3b3ff"/><rect x="1238.80" y="532.50" width="51.90" height="158.40" fill="#bed9ba"/><path d="M776.4,625.4 L777.2,626.5 L778.0,625.7 L778.8,627.8 L779.6,625.2 L780.4,628.2 L781.2,630.7 L782.0,629.7 L782.8,632.6 L783.6,629.7 L784.4,628.8 L785.2,626.4 L786.0,625.6 L786.8,624.4 L787.6,620.9 L788.4,618.1 L789.2,618.7 L790.0,620.3 L790.8,624.9 L791.6,624.6 L792.4,626.0 L793.2,626.6 L794.0,626.7 L794.8,628.4 L795.6,631.3 L796.4,631.6 L797.2,631.0 L798.0,631.4 L798.8,632.1 L799.6,630.1 L800.4,631.1 L801.2,631.2 L802.0,631.2 L802.8,630.3 L803.6,629.3 L804.4,628.0 L805.2,630.2 L806.0,630.6 L806.8,630.8 L807.6,630.8 L808.4,631.4 L809.2,631.9 L810.0,631.4 L810.8,630.7 L811.6,634.8 L812.4,633.0 L813.2,631.3 L814.0,631.9 L814.8,631.1 L815.6,629.2 L816.4,625.8 L817.2,624.3 L818.0,620.4 L818.8,621.0 L819.6,620.1 L820.4,619.4 L821.2,616.0 L822.0,620.9 L822.8,619.6 L823.6,620.1 L824.4,622.4 L825.2,621.1 L826.0,619.7 L826.8,616.0 L827.6,616.0 L828.4,612.0 L829.2,605.6 L830.0,602.3 L830.8,601.2 L831.6,600.6 L832.4,598.4 L833.2,597.7 L834.0,594.7 L834.8,593.4 L835.6,592.4 L836.4,589.2 L837.2,588.8 L838.0,589.0 L838.8,583.5 L839.6,584.9 L840.4,581.4 L841.2,581.6 L842.0,580.1 L842.8,578.5 L843.6,580.3 L844.4,582.0 L845.2,585.0 L846.0,586.4 L846.8,587.3 L847.6,588.4 L848.4,589.1 L849.2,589.6 L850.0,593.8 L850.8,596.1 L851.6,595.6 L852.4,596.1 L853.2,597.2 L854.0,598.8 L854.8,597.3 L855.6,593.9 L856.4,590.6 L857.2,587.2 L858.0,587.7 L858.8,587.1 L859.6,586.2 L860.4,586.2 L861.2,584.9 L862.0,585.2 L862.8,585.7 L863.6,584.0 L864.4,585.3 L865.2,584.1 L866.0,585.5 L866.8,583.7 L867.6,581.5 L868.4,583.3 L869.2,581.9 L870.0,582.6 L870.8,580.8 L871.6,583.8 L872.4,585.3 L873.2,586.8 L874.0,587.8 L874.8,588.1 L875.6,591.6 L876.4,592.9 L877.2,594.4 L878.0,595.9 L878.8,597.6 L879.6,596.9 L880.4,597.0 L881.2,598.3 L882.0,600.4 L882.8,602.1 L883.6,605.0 L884.4,605.6 L885.2,608.4 L886.0,608.9 L886.8,610.3 L887.6,613.8 L888.4,618.4 L889.2,626.1 L890.0,628.1 L890.8,624.4 L891.6,626.0 L892.4,626.3 L893.2,627.7 L894.0,626.2 L894.8,623.5 L895.6,621.9 L896.4,624.1 L897.2,623.5 L898.0,619.4 L898.8,621.5 L899.6,621.6 L900.4,624.6 L901.2,623.0 L902.0,624.9 L902.8,626.2 L903.6,627.4 L904.4,629.2 L905.2,630.2 L906.0,629.4 L906.8,629.9 L907.6,631.1 L908.4,630.7 L909.2,630.9 L910.0,630.0 L910.8,626.9 L911.6,627.7 L912.4,628.9 L913.2,628.2 L914.0,631.2 L914.8,630.4 L915.6,629.2 L916.4,628.0 L917.2,627.2 L918.0,627.4 L918.8,625.5 L919.6,622.7 L920.4,622.3 L921.2,620.7 L922.0,622.3 L922.8,624.4 L923.6,626.2 L924.4,626.0 L925.2,627.8 L926.0,630.1 L926.8,629.0 L927.6,628.7 L928.4,629.3 L929.2,627.6 L930.0,628.2 L930.8,629.6 L931.6,629.7 L932.4,628.9 L933.2,626.8 L934.0,626.8 L934.8,625.1 L935.6,626.0 L936.4,622.5 L937.2,622.5 L938.0,622.9 L938.8,622.1 L939.6,624.3 L940.4,625.7 L941.2,628.2 L942.0,625.9 L942.8,627.0 L943.6,625.7 L944.4,624.8 L945.2,624.8 L946.0,624.3 L946.8,624.5 L947.6,621.8 L948.4,623.9 L949.2,622.3 L950.0,622.1 L950.8,624.0 L951.6,624.9 L952.4,623.9 L953.2,624.6 L954.0,626.4 L954.8,626.5 L955.6,628.9 L956.4,632.2 L957.2,629.9 L958.0,630.9 L958.8,629.7 L959.6,629.8 L960.4,627.8 L961.2,630.4 L962.0,628.4 L962.8,629.3 L963.6,628.2 L964.4,628.2 L965.2,626.0 L966.0,625.8 L966.8,624.8 L967.6,626.9 L968.4,627.7 L969.2,623.9 L970.0,624.4 L970.8,624.9 L971.6,622.8 L972.4,623.9 L973.2,624.8 L974.0,625.9 L974.8,627.0 L975.6,625.5 L976.4,628.6 L977.2,625.6 L978.0,624.8 L978.8,625.0 L979.6,627.0 L980.4,624.8 L981.2,625.4 L982.0,622.5 L982.8,623.6 L983.6,622.9 L984.4,621.9 L985.2,623.1 L986.0,620.0 L986.8,621.5 L987.6,622.5 L988.4,621.3 L989.2,618.9 L990.0,622.4 L990.8,622.1 L991.6,622.8 L992.4,622.3 L993.2,624.2 L994.0,623.8 L994.8,624.4 L995.6,622.6 L996.4,624.5 L997.2,623.5 L998.0,623.6 L998.8,625.1 L999.6,622.4 L1000.4,620.5 L1001.2,621.9 L1002.0,622.4 L1002.8,618.5 L1003.6,619.4 L1004.4,618.2 L1005.2,619.7 L1006.0,624.0 L1006.8,624.4 L1007.6,623.7 L1008.4,625.3 L1009.2,625.1 L1010.0,625.1 L1010.8,625.4 L1011.6,625.4 L1012.4,626.6 L1013.2,630.9 L1014.0,630.1 L1014.8,633.3 L1015.6,631.0 L1016.4,632.0 L1017.2,630.5 L1018.0,630.5 L1018.8,631.7 L1019.6,634.3 L1020.4,631.5 L1021.2,630.4 L1022.0,628.9 L1022.8,625.7 L1023.6,624.0 L1024.4,625.8 L1025.2,623.1 L1026.0,623.6 L1026.8,624.2 L1027.6,622.1 L1028.4,624.4 L1029.2,624.1 L1030.0,624.9 L1030.8,625.4 L1031.6,625.5 L1032.4,622.4 L1033.2,624.8 L1034.0,622.2 L1034.8,623.3 L1035.6,625.4 L1036.4,624.2 L1037.2,622.8 L1038.0,623.0 L1038.8,624.1 L1039.6,626.3 L1040.4,626.6 L1041.2,624.3 L1042.0,625.3 L1042.8,624.5 L1043.6,623.6 L1044.4,622.0 L1045.2,623.3 L1046.0,622.8 L1046.8,621.1 L1047.6,620.5 L1048.4,619.9 L1049.2,619.3 L1050.0,619.1 L1050.8,619.8 L1051.6,622.5 L1052.4,622.4 L1053.2,624.2 L1054.0,625.6 L1054.8,623.1 L1055.6,623.2 L1056.4,619.9 L1057.2,620.5 L1058.0,619.1 L1058.8,616.1 L1059.6,616.7 L1060.4,613.9 L1061.2,618.4 L1062.0,621.1 L1062.8,620.4 L1063.6,624.2 L1064.4,622.8 L1065.2,623.6 L1066.0,625.0 L1066.8,623.9 L1067.6,622.9 L1068.4,624.9 L1069.2,624.8 L1070.0,625.2 L1070.8,624.9 L1071.6,626.2 L1072.4,623.7 L1073.2,623.4 L1074.0,623.7 L1074.8,620.7 L1075.6,622.3 L1076.4,622.5 L1077.2,622.3 L1078.0,620.8 L1078.8,621.3 L1079.6,619.0 L1080.4,620.9 L1081.2,617.9 L1082.0,620.4 L1082.8,621.6 L1083.6,622.7 L1084.4,620.5 L1085.2,621.9 L1086.0,623.1 L1086.8,622.1 L1087.6,622.4 L1088.4,626.6 L1089.2,627.3 L1090.0,626.7 L1090.8,627.8 L1091.6,631.1 L1092.4,629.3 L1093.2,628.2 L1094.0,630.4 L1094.8,627.2 L1095.6,628.1 L1096.4,626.6 L1097.2,623.7 L1098.0,624.7 L1098.8,623.6 L1099.6,622.5 L1100.4,620.2 L1101.2,624.7 L1102.0,627.3 L1102.8,628.8 L1103.6,628.0 L1104.4,628.6 L1105.2,626.6 L1106.0,625.1 L1106.8,625.7 L1107.6,624.7 L1108.4,623.1 L1109.2,622.7 L1110.0,621.2 L1110.8,619.0 L1111.6,620.7 L1112.4,618.8 L1113.2,618.6 L1114.0,616.1 L1114.8,615.8 L1115.6,612.9 L1116.4,606.2 L1117.2,602.1 L1118.0,600.9 L1118.8,596.8 L1119.6,593.0 L1120.4,595.4 L1121.2,593.6 L1122.0,592.3 L1122.8,592.4 L1123.6,591.3 L1124.4,589.1 L1125.2,587.9 L1126.0,585.4 L1126.8,585.4 L1127.6,583.6 L1128.4,583.0 L1129.2,582.8 L1130.0,579.6 L1130.8,581.4 L1131.6,580.7 L1132.4,582.4 L1133.2,582.5 L1134.0,582.7 L1134.8,585.1 L1135.6,585.8 L1136.4,587.2 L1137.2,590.7 L1138.0,592.7 L1138.8,594.6 L1139.6,598.2 L1140.4,598.5 L1141.2,602.6 L1142.0,603.7 L1142.8,600.6 L1143.6,594.6 L1144.4,591.5 L1145.2,591.5 L1146.0,589.3 L1146.8,588.1 L1147.6,588.1 L1148.4,586.6 L1149.2,583.0 L1150.0,585.5 L1150.8,581.4 L1151.6,581.8 L1152.4,578.9 L1153.2,580.0 L1154.0,578.7 L1154.8,582.1 L1155.6,583.5 L1156.4,580.7 L1157.2,581.0 L1158.0,583.5 L1158.8,583.9 L1159.6,586.9 L1160.4,586.6 L1161.2,586.3 L1162.0,585.6 L1162.8,586.3 L1163.6,588.0 L1164.4,590.6 L1165.2,589.5 L1166.0,589.3 L1166.8,592.6 L1167.6,594.6 L1168.4,598.3 L1169.2,601.0 L1170.0,601.9 L1170.8,604.0 L1171.6,606.0 L1172.4,609.0 L1173.2,611.4 L1174.0,615.4 L1174.8,617.6 L1175.6,620.3 L1176.4,624.9 L1177.2,627.2 L1178.0,628.7 L1178.8,630.5 L1179.6,628.7 L1180.4,629.8 L1181.2,630.1 L1182.0,630.8 L1182.8,629.3 L1183.6,630.1 L1184.4,630.6 L1185.2,630.8 L1186.0,632.2 L1186.8,629.9 L1187.6,631.4 L1188.4,629.2 L1189.2,629.3 L1190.0,629.7 L1190.8,631.8 L1191.6,631.0 L1192.4,632.9 L1193.2,635.8 L1194.0,633.4 L1194.8,635.9 L1195.6,635.0 L1196.4,632.5 L1197.2,631.6 L1198.0,629.5 L1198.8,628.7 L1199.6,627.9 L1200.4,626.3 L1201.2,628.0 L1202.0,626.4 L1202.8,626.1 L1203.6,625.7 L1204.4,627.0 L1205.2,626.2 L1206.0,626.7 L1206.8,627.1 L1207.6,627.2 L1208.4,628.3 L1209.2,627.7 L1210.0,626.2 L1210.8,625.9 L1211.6,628.1 L1212.4,628.9 L1213.2,627.7 L1214.0,629.6 L1214.8,630.5 L1215.6,629.3 L1216.4,630.7 L1217.2,628.1 L1218.0,629.5 L1218.8,629.3 L1219.6,630.0 L1220.4,629.3 L1221.2,629.4 L1222.0,630.9 L1222.8,627.2 L1223.6,625.6 L1224.4,623.2 L1225.2,623.7 L1226.0,621.8 L1226.8,619.1 L1227.6,619.5 L1228.4,620.7 L1229.2,619.0 L1230.0,617.4 L1230.8,617.1 L1231.6,617.0 L1232.4,616.9 L1233.2,619.0 L1234.0,619.0 L1234.8,619.1 L1235.6,619.3 L1236.4,621.6 L1237.2,621.8 L1238.0,621.8 L1238.8,621.7 L1239.6,621.9 L1240.4,625.3 L1241.2,626.7 L1242.0,626.3 L1242.8,625.4 L1243.6,625.3 L1244.4,628.4 L1245.2,630.3 L1246.0,630.1 L1246.8,632.0 L1247.6,634.0 L1248.4,631.8 L1249.2,631.5 L1250.0,632.4 L1250.8,631.9 L1251.6,629.1 L1252.4,630.2 L1253.2,630.9 L1254.0,629.7 L1254.8,627.8 L1255.6,622.8 L1256.4,621.5 L1257.2,619.7 L1258.0,619.7 L1258.8,618.4 L1259.6,619.8 L1260.4,619.2 L1261.2,620.8 L1262.0,621.2 L1262.8,621.0 L1263.6,620.3 L1264.4,623.6 L1265.2,620.2 L1266.0,621.0 L1266.8,618.1 L1267.6,611.3 L1268.4,606.6 L1269.2,602.7 L1270.0,601.8 L1270.8,598.8 L1271.6,597.2 L1272.4,594.6 L1273.2,593.6 L1274.0,591.6 L1274.8,589.2 L1275.6,588.4 L1276.4,587.8 L1277.2,586.5 L1278.0,586.3 L1278.8,585.0 L1279.6,584.9 L1280.4,583.7 L1281.2,582.6 L1282.0,580.3 L1282.8,580.2 L1283.6,580.0 L1284.4,580.4 L1285.2,580.9 L1286.0,583.5 L1286.8,585.7 L1287.6,586.6 L1288.4,589.6 L1289.2,590.3 L1290.0,592.2" fill="none" stroke="#058205" stroke-width="1.9" stroke-linejoin="round"/><path d="M776.4,603.8 L777.2,603.2 L778.0,604.4 L778.8,604.8 L779.6,601.7 L780.4,602.4 L781.2,605.9 L782.0,608.9 L782.8,609.8 L783.6,609.1 L784.4,606.7 L785.2,604.7 L786.0,606.4 L786.8,604.5 L787.6,606.4 L788.4,606.7 L789.2,606.9 L790.0,606.7 L790.8,608.2 L791.6,612.2 L792.4,611.1 L793.2,608.8 L794.0,609.2 L794.8,606.9 L795.6,611.3 L796.4,611.9 L797.2,610.8 L798.0,613.9 L798.8,614.0 L799.6,613.4 L800.4,616.3 L801.2,614.9 L802.0,615.8 L802.8,615.3 L803.6,617.4 L804.4,619.1 L805.2,619.3 L806.0,619.3 L806.8,620.2 L807.6,620.7 L808.4,618.3 L809.2,619.4 L810.0,625.7 L810.8,626.9 L811.6,627.0 L812.4,631.3 L813.2,632.2 L814.0,634.5 L814.8,637.1 L815.6,638.3 L816.4,635.7 L817.2,634.5 L818.0,632.1 L818.8,632.9 L819.6,631.1 L820.4,634.2 L821.2,633.9 L822.0,636.3 L822.8,637.5 L823.6,632.9 L824.4,631.5 L825.2,631.4 L826.0,627.9 L826.8,630.5 L827.6,627.8 L828.4,625.3 L829.2,623.3 L830.0,625.2 L830.8,624.2 L831.6,623.0 L832.4,625.1 L833.2,627.6 L834.0,627.5 L834.8,631.3 L835.6,630.5 L836.4,630.3 L837.2,627.6 L838.0,627.3 L838.8,626.8 L839.6,626.8 L840.4,625.6 L841.2,628.3 L842.0,626.9 L842.8,629.1 L843.6,629.0 L844.4,627.1 L845.2,625.9 L846.0,622.4 L846.8,623.1 L847.6,625.3 L848.4,625.1 L849.2,624.9 L850.0,627.5 L850.8,627.5 L851.6,627.4 L852.4,628.2 L853.2,629.3 L854.0,626.0 L854.8,627.8 L855.6,624.7 L856.4,627.1 L857.2,626.4 L858.0,629.0 L858.8,627.9 L859.6,627.7 L860.4,630.7 L861.2,630.2 L862.0,630.7 L862.8,631.2 L863.6,632.5 L864.4,634.2 L865.2,633.9 L866.0,633.4 L866.8,634.6 L867.6,634.0 L868.4,633.6 L869.2,634.7 L870.0,632.0 L870.8,630.5 L871.6,628.7 L872.4,627.7 L873.2,627.1 L874.0,626.5 L874.8,627.5 L875.6,627.4 L876.4,629.0 L877.2,627.9 L878.0,628.1 L878.8,627.6 L879.6,627.6 L880.4,630.4 L881.2,629.4 L882.0,628.7 L882.8,629.2 L883.6,627.1 L884.4,626.1 L885.2,621.2 L886.0,619.3 L886.8,614.9 L887.6,612.5 L888.4,611.6 L889.2,610.1 L890.0,608.8 L890.8,608.2 L891.6,606.4 L892.4,606.7 L893.2,605.6 L894.0,605.7 L894.8,602.8 L895.6,598.4 L896.4,597.6 L897.2,596.6 L898.0,594.7 L898.8,592.9 L899.6,591.7 L900.4,584.5 L901.2,584.9 L902.0,583.6 L902.8,584.2 L903.6,580.4 L904.4,580.2 L905.2,581.0 L906.0,582.7 L906.8,580.4 L907.6,584.6 L908.4,584.2 L909.2,584.4 L910.0,580.3 L910.8,581.6 L911.6,580.4 L912.4,581.9 L913.2,584.6 L914.0,585.6 L914.8,587.4 L915.6,587.2 L916.4,588.5 L917.2,588.5 L918.0,590.2 L918.8,590.8 L919.6,592.0 L920.4,594.8 L921.2,594.6 L922.0,595.3 L922.8,597.0 L923.6,600.4 L924.4,600.2 L925.2,597.4 L926.0,597.4 L926.8,596.0 L927.6,593.8 L928.4,595.2 L929.2,596.9 L930.0,597.0 L930.8,597.6 L931.6,597.6 L932.4,599.4 L933.2,599.3 L934.0,600.1 L934.8,601.1 L935.6,601.4 L936.4,600.3 L937.2,601.4 L938.0,603.9 L938.8,604.6 L939.6,603.8 L940.4,602.4 L941.2,605.0 L942.0,603.9 L942.8,604.3 L943.6,605.7 L944.4,607.7 L945.2,609.0 L946.0,609.7 L946.8,610.2 L947.6,611.3 L948.4,613.9 L949.2,615.4 L950.0,618.0 L950.8,620.1 L951.6,621.4 L952.4,618.7 L953.2,614.5 L954.0,616.4 L954.8,615.2 L955.6,615.8 L956.4,614.6 L957.2,613.8 L958.0,611.0 L958.8,611.9 L959.6,609.9 L960.4,607.5 L961.2,606.0 L962.0,603.8 L962.8,604.9 L963.6,603.7 L964.4,605.1 L965.2,601.5 L966.0,599.2 L966.8,596.2 L967.6,594.1 L968.4,592.1 L969.2,589.9 L970.0,585.5 L970.8,587.5 L971.6,584.9 L972.4,583.1 L973.2,581.5 L974.0,582.3 L974.8,583.5 L975.6,583.6 L976.4,583.6 L977.2,582.5 L978.0,583.4 L978.8,584.7 L979.6,582.4 L980.4,583.4 L981.2,581.4 L982.0,582.6 L982.8,584.8 L983.6,588.5 L984.4,590.2 L985.2,591.5 L986.0,590.3 L986.8,592.6 L987.6,591.6 L988.4,590.8 L989.2,589.9 L990.0,593.3 L990.8,595.4 L991.6,595.9 L992.4,595.9 L993.2,592.2 L994.0,593.6 L994.8,593.0 L995.6,593.8 L996.4,593.1 L997.2,596.1 L998.0,594.7 L998.8,595.4 L999.6,597.7 L1000.4,596.8 L1001.2,598.9 L1002.0,598.9 L1002.8,595.7 L1003.6,595.9 L1004.4,593.9 L1005.2,592.8 L1006.0,594.5 L1006.8,591.2 L1007.6,592.1 L1008.4,589.5 L1009.2,591.4 L1010.0,593.7 L1010.8,594.7 L1011.6,591.7 L1012.4,591.2 L1013.2,592.9 L1014.0,590.2 L1014.8,589.8 L1015.6,590.3 L1016.4,591.9 L1017.2,593.1 L1018.0,592.6 L1018.8,594.6 L1019.6,598.4 L1020.4,595.6 L1021.2,596.7 L1022.0,598.9 L1022.8,599.4 L1023.6,600.6 L1024.4,601.3 L1025.2,598.4 L1026.0,597.4 L1026.8,596.4 L1027.6,595.9 L1028.4,599.6 L1029.2,600.2 L1030.0,599.3 L1030.8,601.0 L1031.6,602.9 L1032.4,604.4 L1033.2,607.1 L1034.0,606.4 L1034.8,605.9 L1035.6,607.1 L1036.4,606.9 L1037.2,604.8 L1038.0,604.0 L1038.8,601.9 L1039.6,601.8 L1040.4,601.0 L1041.2,602.1 L1042.0,602.8 L1042.8,600.2 L1043.6,600.4 L1044.4,600.7 L1045.2,603.5 L1046.0,606.3 L1046.8,604.0 L1047.6,607.5 L1048.4,607.0 L1049.2,608.0 L1050.0,610.8 L1050.8,610.2 L1051.6,615.8 L1052.4,618.0 L1053.2,622.0 L1054.0,623.8 L1054.8,624.2 L1055.6,624.1 L1056.4,627.4 L1057.2,628.2 L1058.0,629.9 L1058.8,631.2 L1059.6,630.3 L1060.4,631.3 L1061.2,632.6 L1062.0,631.3 L1062.8,630.3 L1063.6,630.9 L1064.4,632.1 L1065.2,632.0 L1066.0,634.6 L1066.8,630.3 L1067.6,632.1 L1068.4,633.6 L1069.2,634.7 L1070.0,633.8 L1070.8,633.6 L1071.6,635.4 L1072.4,635.5 L1073.2,634.8 L1074.0,632.8 L1074.8,632.2 L1075.6,633.0 L1076.4,631.1 L1077.2,631.6 L1078.0,630.5 L1078.8,629.2 L1079.6,627.0 L1080.4,625.8 L1081.2,629.9 L1082.0,629.6 L1082.8,630.2 L1083.6,632.3 L1084.4,632.1 L1085.2,632.0 L1086.0,631.0 L1086.8,629.8 L1087.6,630.1 L1088.4,629.5 L1089.2,629.4 L1090.0,632.8 L1090.8,634.2 L1091.6,635.3 L1092.4,633.2 L1093.2,634.4 L1094.0,635.5 L1094.8,635.4 L1095.6,634.0 L1096.4,634.9 L1097.2,632.2 L1098.0,632.6 L1098.8,630.8 L1099.6,627.4 L1100.4,630.3 L1101.2,633.5 L1102.0,635.4 L1102.8,632.9 L1103.6,631.9 L1104.4,632.2 L1105.2,631.9 L1106.0,632.8 L1106.8,632.0 L1107.6,634.2 L1108.4,634.7 L1109.2,637.4 L1110.0,637.3 L1110.8,636.1 L1111.6,633.8 L1112.4,631.8 L1113.2,631.3 L1114.0,633.8 L1114.8,633.7 L1115.6,630.6 L1116.4,628.7 L1117.2,630.5 L1118.0,630.9 L1118.8,630.6 L1119.6,630.3 L1120.4,631.4 L1121.2,633.7 L1122.0,634.7 L1122.8,636.9 L1123.6,637.3 L1124.4,632.7 L1125.2,629.1 L1126.0,628.0 L1126.8,626.4 L1127.6,626.5 L1128.4,626.6 L1129.2,624.3 L1130.0,624.3 L1130.8,626.1 L1131.6,624.0 L1132.4,624.5 L1133.2,626.5 L1134.0,625.1 L1134.8,622.9 L1135.6,622.5 L1136.4,621.9 L1137.2,620.3 L1138.0,621.6 L1138.8,625.1 L1139.6,624.0 L1140.4,622.9 L1141.2,626.6 L1142.0,626.8 L1142.8,625.1 L1143.6,624.5 L1144.4,624.6 L1145.2,626.9 L1146.0,628.6 L1146.8,626.7 L1147.6,623.9 L1148.4,628.5 L1149.2,629.3 L1150.0,626.7 L1150.8,627.7 L1151.6,628.4 L1152.4,625.7 L1153.2,628.2 L1154.0,626.1 L1154.8,627.7 L1155.6,627.7 L1156.4,629.6 L1157.2,628.2 L1158.0,629.7 L1158.8,631.6 L1159.6,631.5 L1160.4,634.5 L1161.2,632.4 L1162.0,631.1 L1162.8,630.4 L1163.6,627.7 L1164.4,626.8 L1165.2,629.2 L1166.0,628.3 L1166.8,628.0 L1167.6,628.5 L1168.4,630.3 L1169.2,628.2 L1170.0,626.4 L1170.8,624.8 L1171.6,623.4 L1172.4,623.3 L1173.2,621.9 L1174.0,622.0 L1174.8,620.6 L1175.6,621.6 L1176.4,622.3 L1177.2,620.0 L1178.0,622.7 L1178.8,618.5 L1179.6,619.6 L1180.4,619.2 L1181.2,614.2 L1182.0,612.2 L1182.8,611.0 L1183.6,607.4 L1184.4,604.6 L1185.2,603.0 L1186.0,597.5 L1186.8,592.7 L1187.6,590.0 L1188.4,584.9 L1189.2,583.0 L1190.0,582.3 L1190.8,579.2 L1191.6,580.5 L1192.4,578.3 L1193.2,578.6 L1194.0,579.0 L1194.8,578.6 L1195.6,576.9 L1196.4,576.4 L1197.2,575.9 L1198.0,579.6 L1198.8,580.3 L1199.6,583.6 L1200.4,587.6 L1201.2,587.3 L1202.0,587.7 L1202.8,583.6 L1203.6,584.1 L1204.4,585.0 L1205.2,583.5 L1206.0,584.9 L1206.8,586.0 L1207.6,586.8 L1208.4,586.9 L1209.2,586.9 L1210.0,587.5 L1210.8,588.6 L1211.6,590.0 L1212.4,590.2 L1213.2,589.7 L1214.0,588.1 L1214.8,588.1 L1215.6,585.3 L1216.4,583.9 L1217.2,584.9 L1218.0,588.0 L1218.8,589.2 L1219.6,590.4 L1220.4,589.8 L1221.2,591.3 L1222.0,591.6 L1222.8,591.6 L1223.6,591.8 L1224.4,593.4 L1225.2,592.7 L1226.0,594.0 L1226.8,593.9 L1227.6,592.6 L1228.4,594.5 L1229.2,594.6 L1230.0,594.2 L1230.8,592.9 L1231.6,593.2 L1232.4,592.8 L1233.2,593.4 L1234.0,591.3 L1234.8,590.7 L1235.6,590.6 L1236.4,589.8 L1237.2,589.0 L1238.0,587.6 L1238.8,591.2 L1239.6,591.6 L1240.4,596.7 L1241.2,596.7 L1242.0,598.3 L1242.8,598.7 L1243.6,599.9 L1244.4,598.8 L1245.2,601.4 L1246.0,604.5 L1246.8,606.0 L1247.6,607.0 L1248.4,610.2 L1249.2,611.6 L1250.0,616.5 L1250.8,620.3 L1251.6,617.2 L1252.4,616.2 L1253.2,617.6 L1254.0,620.3 L1254.8,620.7 L1255.6,622.3 L1256.4,622.7 L1257.2,621.2 L1258.0,621.3 L1258.8,621.8 L1259.6,621.5 L1260.4,621.5 L1261.2,622.5 L1262.0,621.0 L1262.8,619.7 L1263.6,621.5 L1264.4,621.0 L1265.2,621.5 L1266.0,620.1 L1266.8,624.3 L1267.6,625.2 L1268.4,623.7 L1269.2,625.9 L1270.0,627.1 L1270.8,632.2 L1271.6,631.7 L1272.4,633.4 L1273.2,635.3 L1274.0,634.8 L1274.8,635.4 L1275.6,637.2 L1276.4,634.6 L1277.2,635.3 L1278.0,636.1 L1278.8,634.4 L1279.6,636.0 L1280.4,636.0 L1281.2,635.3 L1282.0,633.5 L1282.8,630.1 L1283.6,626.9 L1284.4,627.8 L1285.2,625.3 L1286.0,625.6 L1286.8,626.4 L1287.6,624.7 L1288.4,627.1 L1289.2,627.7 L1290.0,626.9" fill="none" stroke="#0505ff" stroke-width="1.9" stroke-linejoin="round"/><path d="M776.4,622.9 L777.2,619.2 L778.0,621.2 L778.8,621.0 L779.6,619.4 L780.4,617.9 L781.2,616.2 L782.0,612.8 L782.8,612.1 L783.6,613.3 L784.4,609.9 L785.2,609.4 L786.0,610.6 L786.8,611.9 L787.6,609.0 L788.4,608.7 L789.2,610.2 L790.0,611.1 L790.8,611.3 L791.6,614.3 L792.4,612.5 L793.2,615.7 L794.0,614.8 L794.8,615.2 L795.6,614.2 L796.4,611.4 L797.2,612.7 L798.0,611.7 L798.8,611.1 L799.6,611.0 L800.4,609.5 L801.2,605.8 L802.0,607.1 L802.8,605.3 L803.6,605.0 L804.4,603.9 L805.2,603.7 L806.0,605.6 L806.8,601.7 L807.6,602.3 L808.4,596.3 L809.2,597.4 L810.0,595.4 L810.8,597.1 L811.6,597.6 L812.4,599.7 L813.2,599.3 L814.0,600.1 L814.8,597.7 L815.6,601.0 L816.4,602.3 L817.2,606.9 L818.0,607.9 L818.8,608.4 L819.6,608.7 L820.4,608.1 L821.2,608.6 L822.0,606.5 L822.8,606.9 L823.6,607.6 L824.4,610.7 L825.2,611.5 L826.0,613.1 L826.8,612.6 L827.6,612.7 L828.4,614.9 L829.2,616.4 L830.0,617.8 L830.8,620.1 L831.6,619.5 L832.4,619.8 L833.2,620.1 L834.0,622.0 L834.8,623.2 L835.6,625.1 L836.4,624.9 L837.2,623.7 L838.0,621.6 L838.8,620.6 L839.6,621.6 L840.4,624.7 L841.2,626.7 L842.0,626.3 L842.8,624.5 L843.6,625.3 L844.4,625.0 L845.2,624.1 L846.0,624.5 L846.8,625.3 L847.6,621.4 L848.4,621.0 L849.2,621.4 L850.0,619.7 L850.8,621.7 L851.6,623.4 L852.4,621.8 L853.2,623.5 L854.0,622.8 L854.8,623.6 L855.6,623.8 L856.4,622.9 L857.2,627.0 L858.0,625.8 L858.8,625.3 L859.6,627.1 L860.4,627.1 L861.2,627.4 L862.0,627.5 L862.8,625.4 L863.6,625.6 L864.4,625.6 L865.2,627.4 L866.0,627.4 L866.8,630.7 L867.6,630.6 L868.4,629.9 L869.2,630.6 L870.0,632.3 L870.8,633.9 L871.6,633.8 L872.4,631.9 L873.2,628.8 L874.0,628.6 L874.8,626.4 L875.6,628.2 L876.4,625.4 L877.2,626.0 L878.0,625.6 L878.8,625.1 L879.6,626.1 L880.4,626.4 L881.2,626.5 L882.0,629.3 L882.8,631.1 L883.6,630.0 L884.4,630.2 L885.2,628.1 L886.0,629.0 L886.8,631.2 L887.6,629.5 L888.4,628.3 L889.2,626.9 L890.0,626.6 L890.8,628.9 L891.6,627.0 L892.4,625.3 L893.2,625.8 L894.0,627.9 L894.8,629.2 L895.6,629.7 L896.4,632.4 L897.2,634.5 L898.0,633.2 L898.8,635.3 L899.6,638.0 L900.4,634.8 L901.2,631.3 L902.0,631.1 L902.8,627.6 L903.6,628.8 L904.4,629.0 L905.2,628.8 L906.0,628.8 L906.8,626.5 L907.6,625.7 L908.4,625.5 L909.2,626.1 L910.0,626.4 L910.8,627.8 L911.6,628.2 L912.4,625.5 L913.2,625.4 L914.0,625.7 L914.8,627.7 L915.6,629.9 L916.4,627.9 L917.2,628.1 L918.0,628.0 L918.8,629.4 L919.6,630.9 L920.4,628.5 L921.2,631.8 L922.0,633.2 L922.8,632.4 L923.6,628.9 L924.4,625.8 L925.2,624.2 L926.0,623.0 L926.8,621.1 L927.6,621.1 L928.4,621.5 L929.2,620.7 L930.0,620.5 L930.8,622.4 L931.6,620.1 L932.4,619.7 L933.2,619.4 L934.0,617.8 L934.8,615.8 L935.6,613.5 L936.4,610.2 L937.2,607.3 L938.0,604.3 L938.8,605.5 L939.6,605.6 L940.4,604.2 L941.2,603.8 L942.0,606.2 L942.8,605.2 L943.6,605.5 L944.4,605.4 L945.2,605.0 L946.0,607.0 L946.8,607.6 L947.6,608.5 L948.4,610.5 L949.2,609.8 L950.0,610.5 L950.8,607.4 L951.6,610.0 L952.4,609.8 L953.2,611.5 L954.0,611.8 L954.8,612.9 L955.6,613.2 L956.4,612.3 L957.2,613.8 L958.0,613.2 L958.8,613.3 L959.6,615.6 L960.4,620.8 L961.2,624.4 L962.0,623.1 L962.8,624.2 L963.6,623.1 L964.4,621.9 L965.2,622.6 L966.0,622.4 L966.8,624.2 L967.6,628.7 L968.4,630.9 L969.2,628.2 L970.0,630.7 L970.8,628.9 L971.6,627.6 L972.4,625.1 L973.2,625.8 L974.0,625.8 L974.8,626.0 L975.6,625.7 L976.4,625.3 L977.2,625.1 L978.0,626.9 L978.8,625.3 L979.6,624.4 L980.4,630.0 L981.2,629.4 L982.0,631.1 L982.8,628.3 L983.6,627.5 L984.4,630.4 L985.2,628.4 L986.0,627.2 L986.8,628.4 L987.6,627.7 L988.4,627.9 L989.2,626.1 L990.0,629.2 L990.8,627.4 L991.6,627.6 L992.4,625.5 L993.2,627.1 L994.0,624.2 L994.8,625.3 L995.6,623.8 L996.4,627.0 L997.2,625.2 L998.0,625.1 L998.8,624.2 L999.6,620.3 L1000.4,622.9 L1001.2,621.3 L1002.0,619.6 L1002.8,617.2 L1003.6,618.8 L1004.4,617.7 L1005.2,615.6 L1006.0,618.2 L1006.8,619.7 L1007.6,619.7 L1008.4,618.7 L1009.2,622.3 L1010.0,622.9 L1010.8,626.2 L1011.6,627.0 L1012.4,629.8 L1013.2,628.2 L1014.0,629.8 L1014.8,630.6 L1015.6,634.2 L1016.4,633.7 L1017.2,633.6 L1018.0,634.3 L1018.8,632.4 L1019.6,632.1 L1020.4,632.3 L1021.2,631.5 L1022.0,632.3 L1022.8,628.7 L1023.6,630.1 L1024.4,627.2 L1025.2,630.6 L1026.0,628.6 L1026.8,627.2 L1027.6,625.2 L1028.4,625.7 L1029.2,625.0 L1030.0,626.9 L1030.8,628.2 L1031.6,626.7 L1032.4,624.2 L1033.2,622.8 L1034.0,620.9 L1034.8,617.2 L1035.6,621.6 L1036.4,621.1 L1037.2,620.8 L1038.0,622.4 L1038.8,621.5 L1039.6,621.1 L1040.4,619.1 L1041.2,621.2 L1042.0,622.0 L1042.8,622.6 L1043.6,622.4 L1044.4,619.3 L1045.2,619.6 L1046.0,616.0 L1046.8,611.3 L1047.6,610.5 L1048.4,607.7 L1049.2,606.1 L1050.0,606.6 L1050.8,604.0 L1051.6,602.1 L1052.4,599.6 L1053.2,597.8 L1054.0,595.2 L1054.8,595.0 L1055.6,594.5 L1056.4,595.5 L1057.2,597.5 L1058.0,596.8 L1058.8,597.7 L1059.6,597.4 L1060.4,596.8 L1061.2,594.7 L1062.0,592.7 L1062.8,586.7 L1063.6,587.1 L1064.4,584.9 L1065.2,585.2 L1066.0,582.8 L1066.8,583.2 L1067.6,584.2 L1068.4,584.5 L1069.2,584.6 L1070.0,583.6 L1070.8,583.8 L1071.6,582.9 L1072.4,581.0 L1073.2,579.9 L1074.0,580.0 L1074.8,580.4 L1075.6,580.8 L1076.4,583.4 L1077.2,587.3 L1078.0,586.3 L1078.8,587.1 L1079.6,588.1 L1080.4,590.5 L1081.2,591.2 L1082.0,593.3 L1082.8,594.3 L1083.6,595.3 L1084.4,596.0 L1085.2,597.3 L1086.0,596.1 L1086.8,596.4 L1087.6,598.1 L1088.4,599.7 L1089.2,600.9 L1090.0,601.8 L1090.8,604.7 L1091.6,604.9 L1092.4,605.9 L1093.2,608.0 L1094.0,606.4 L1094.8,608.6 L1095.6,609.2 L1096.4,610.0 L1097.2,610.1 L1098.0,612.1 L1098.8,609.0 L1099.6,607.4 L1100.4,603.7 L1101.2,602.0 L1102.0,603.2 L1102.8,603.2 L1103.6,602.4 L1104.4,603.2 L1105.2,604.4 L1106.0,603.0 L1106.8,603.6 L1107.6,604.5 L1108.4,603.2 L1109.2,606.8 L1110.0,608.2 L1110.8,612.2 L1111.6,615.7 L1112.4,617.3 L1113.2,612.6 L1114.0,614.4 L1114.8,617.2 L1115.6,615.8 L1116.4,618.3 L1117.2,617.6 L1118.0,620.4 L1118.8,621.6 L1119.6,621.1 L1120.4,621.8 L1121.2,622.8 L1122.0,622.7 L1122.8,624.8 L1123.6,623.5 L1124.4,625.7 L1125.2,627.2 L1126.0,630.1 L1126.8,629.1 L1127.6,627.7 L1128.4,626.5 L1129.2,627.1 L1130.0,629.6 L1130.8,627.9 L1131.6,628.5 L1132.4,627.8 L1133.2,627.0 L1134.0,627.8 L1134.8,628.8 L1135.6,629.7 L1136.4,628.6 L1137.2,631.0 L1138.0,631.8 L1138.8,627.7 L1139.6,626.0 L1140.4,626.8 L1141.2,625.1 L1142.0,626.9 L1142.8,625.9 L1143.6,626.9 L1144.4,627.3 L1145.2,627.5 L1146.0,626.5 L1146.8,626.5 L1147.6,627.8 L1148.4,628.1 L1149.2,627.2 L1150.0,629.7 L1150.8,629.4 L1151.6,628.9 L1152.4,631.9 L1153.2,630.0 L1154.0,630.2 L1154.8,631.6 L1155.6,634.9 L1156.4,634.1 L1157.2,629.4 L1158.0,629.6 L1158.8,629.3 L1159.6,627.3 L1160.4,626.4 L1161.2,624.5 L1162.0,621.0 L1162.8,623.7 L1163.6,624.6 L1164.4,624.1 L1165.2,627.7 L1166.0,623.3 L1166.8,623.7 L1167.6,620.4 L1168.4,621.7 L1169.2,618.3 L1170.0,620.8 L1170.8,623.4 L1171.6,627.8 L1172.4,630.1 L1173.2,631.3 L1174.0,630.8 L1174.8,626.6 L1175.6,626.9 L1176.4,627.6 L1177.2,629.6 L1178.0,630.2 L1178.8,629.5 L1179.6,630.4 L1180.4,629.3 L1181.2,631.0 L1182.0,631.1 L1182.8,633.7 L1183.6,635.3 L1184.4,634.3 L1185.2,635.7 L1186.0,636.3 L1186.8,637.6 L1187.6,637.1 L1188.4,635.1 L1189.2,631.6 L1190.0,634.5 L1190.8,630.1 L1191.6,630.5 L1192.4,628.6 L1193.2,629.9 L1194.0,632.9 L1194.8,631.8 L1195.6,631.6 L1196.4,632.3 L1197.2,629.8 L1198.0,630.7 L1198.8,629.3 L1199.6,631.4 L1200.4,630.6 L1201.2,632.2 L1202.0,630.3 L1202.8,631.2 L1203.6,631.8 L1204.4,632.9 L1205.2,633.5 L1206.0,631.6 L1206.8,631.7 L1207.6,631.6 L1208.4,632.4 L1209.2,631.5 L1210.0,631.2 L1210.8,630.0 L1211.6,630.4 L1212.4,627.9 L1213.2,625.3 L1214.0,625.5 L1214.8,625.9 L1215.6,623.3 L1216.4,625.3 L1217.2,625.1 L1218.0,624.7 L1218.8,624.6 L1219.6,624.9 L1220.4,624.9 L1221.2,623.0 L1222.0,620.6 L1222.8,621.4 L1223.6,623.7 L1224.4,621.7 L1225.2,621.3 L1226.0,619.0 L1226.8,622.0 L1227.6,624.7 L1228.4,622.3 L1229.2,623.6 L1230.0,625.8 L1230.8,627.3 L1231.6,625.2 L1232.4,629.0 L1233.2,629.8 L1234.0,629.2 L1234.8,631.1 L1235.6,630.0 L1236.4,631.1 L1237.2,629.7 L1238.0,628.8 L1238.8,631.5 L1239.6,631.0 L1240.4,630.5 L1241.2,628.7 L1242.0,626.6 L1242.8,625.8 L1243.6,626.5 L1244.4,623.4 L1245.2,623.9 L1246.0,622.4 L1246.8,619.8 L1247.6,615.1 L1248.4,615.1 L1249.2,612.6 L1250.0,611.7 L1250.8,608.4 L1251.6,608.8 L1252.4,607.2 L1253.2,604.3 L1254.0,603.8 L1254.8,602.8 L1255.6,604.3 L1256.4,602.7 L1257.2,603.8 L1258.0,603.4 L1258.8,605.1 L1259.6,605.2 L1260.4,608.8 L1261.2,612.5 L1262.0,612.4 L1262.8,616.9 L1263.6,615.6 L1264.4,612.7 L1265.2,614.7 L1266.0,613.2 L1266.8,613.5 L1267.6,617.6 L1268.4,618.4 L1269.2,621.6 L1270.0,623.1 L1270.8,623.3 L1271.6,625.1 L1272.4,624.1 L1273.2,624.5 L1274.0,624.4 L1274.8,623.9 L1275.6,623.4 L1276.4,624.6 L1277.2,622.3 L1278.0,621.1 L1278.8,623.5 L1279.6,620.5 L1280.4,619.4 L1281.2,620.0 L1282.0,620.4 L1282.8,622.4 L1283.6,622.6 L1284.4,621.8 L1285.2,623.3 L1286.0,623.7 L1286.8,622.0 L1287.6,622.3 L1288.4,621.9 L1289.2,624.6 L1290.0,622.5" fill="none" stroke="#ff0505" stroke-width="1.9" stroke-linejoin="round"/><rect x="774.30" y="532.50" width="516.40" height="158.40" fill="none" stroke="#000" stroke-width="4.6"/>
<rect x="774.30" y="700.80" width="25.20" height="158.20" fill="#b3b3ff"/><rect x="798.50" y="700.80" width="83.80" height="158.20" fill="#bed9ba"/><rect x="881.30" y="700.80" width="138.50" height="158.20" fill="#b3b3ff"/><rect x="1018.80" y="700.80" width="69.70" height="158.20" fill="#ffbcbc"/><rect x="1087.50" y="700.80" width="83.50" height="158.20" fill="#bed9ba"/><rect x="1170.00" y="700.80" width="69.80" height="158.20" fill="#b3b3ff"/><rect x="1238.80" y="700.80" width="51.90" height="158.20" fill="#bed9ba"/><path d="M776.4,796.0 L777.2,792.5 L778.0,795.3 L778.8,794.2 L779.6,796.7 L780.4,795.5 L781.2,795.1 L782.0,793.9 L782.8,794.0 L783.6,790.6 L784.4,788.2 L785.2,791.0 L786.0,791.5 L786.8,791.9 L787.6,792.5 L788.4,793.2 L789.2,790.5 L790.0,790.8 L790.8,788.7 L791.6,789.3 L792.4,788.3 L793.2,788.8 L794.0,788.3 L794.8,785.2 L795.6,784.8 L796.4,785.9 L797.2,786.0 L798.0,786.6 L798.8,786.4 L799.6,786.5 L800.4,786.1 L801.2,785.9 L802.0,785.6 L802.8,785.6 L803.6,786.6 L804.4,785.0 L805.2,788.5 L806.0,789.4 L806.8,790.0 L807.6,790.6 L808.4,791.5 L809.2,790.3 L810.0,792.6 L810.8,793.6 L811.6,794.8 L812.4,794.3 L813.2,791.3 L814.0,790.4 L814.8,789.7 L815.6,787.9 L816.4,789.1 L817.2,789.0 L818.0,789.1 L818.8,788.8 L819.6,791.4 L820.4,790.2 L821.2,790.0 L822.0,790.2 L822.8,788.8 L823.6,789.0 L824.4,790.0 L825.2,785.3 L826.0,783.4 L826.8,782.3 L827.6,779.5 L828.4,775.6 L829.2,773.8 L830.0,772.8 L830.8,770.6 L831.6,769.7 L832.4,767.0 L833.2,764.9 L834.0,761.9 L834.8,761.6 L835.6,757.6 L836.4,758.3 L837.2,756.8 L838.0,756.4 L838.8,757.3 L839.6,756.0 L840.4,757.2 L841.2,753.1 L842.0,751.9 L842.8,751.8 L843.6,750.2 L844.4,750.8 L845.2,748.5 L846.0,745.7 L846.8,743.4 L847.6,744.1 L848.4,742.6 L849.2,740.5 L850.0,743.0 L850.8,746.3 L851.6,747.5 L852.4,748.3 L853.2,749.2 L854.0,749.5 L854.8,751.4 L855.6,749.2 L856.4,750.0 L857.2,750.9 L858.0,754.1 L858.8,753.2 L859.6,755.3 L860.4,755.6 L861.2,754.3 L862.0,752.4 L862.8,750.7 L863.6,749.5 L864.4,748.8 L865.2,747.1 L866.0,748.8 L866.8,745.8 L867.6,743.7 L868.4,744.4 L869.2,747.1 L870.0,747.7 L870.8,749.0 L871.6,749.0 L872.4,747.9 L873.2,746.8 L874.0,749.8 L874.8,751.6 L875.6,755.9 L876.4,759.2 L877.2,761.2 L878.0,761.1 L878.8,762.5 L879.6,765.7 L880.4,769.9 L881.2,773.0 L882.0,774.2 L882.8,775.2 L883.6,773.0 L884.4,775.9 L885.2,775.7 L886.0,777.6 L886.8,778.7 L887.6,780.6 L888.4,781.6 L889.2,782.9 L890.0,783.2 L890.8,785.4 L891.6,786.9 L892.4,787.0 L893.2,786.3 L894.0,786.8 L894.8,787.1 L895.6,790.9 L896.4,789.7 L897.2,789.3 L898.0,788.2 L898.8,789.6 L899.6,793.2 L900.4,790.6 L901.2,795.2 L902.0,796.7 L902.8,797.9 L903.6,797.0 L904.4,795.0 L905.2,796.5 L906.0,796.1 L906.8,795.7 L907.6,795.7 L908.4,795.5 L909.2,794.0 L910.0,793.2 L910.8,793.7 L911.6,793.3 L912.4,791.5 L913.2,793.8 L914.0,794.2 L914.8,795.2 L915.6,795.7 L916.4,792.5 L917.2,792.4 L918.0,798.3 L918.8,795.5 L919.6,797.2 L920.4,797.9 L921.2,798.5 L922.0,800.1 L922.8,800.0 L923.6,800.3 L924.4,801.7 L925.2,799.8 L926.0,799.0 L926.8,799.8 L927.6,797.3 L928.4,794.0 L929.2,792.6 L930.0,790.1 L930.8,790.0 L931.6,792.4 L932.4,789.8 L933.2,786.0 L934.0,790.7 L934.8,789.5 L935.6,791.2 L936.4,791.7 L937.2,793.5 L938.0,792.9 L938.8,792.3 L939.6,790.8 L940.4,790.3 L941.2,789.9 L942.0,787.5 L942.8,786.9 L943.6,787.4 L944.4,787.3 L945.2,787.4 L946.0,787.6 L946.8,787.6 L947.6,790.4 L948.4,790.0 L949.2,791.2 L950.0,789.7 L950.8,790.8 L951.6,793.2 L952.4,793.8 L953.2,791.7 L954.0,793.8 L954.8,795.1 L955.6,793.5 L956.4,792.9 L957.2,789.5 L958.0,790.4 L958.8,791.0 L959.6,790.3 L960.4,789.0 L961.2,788.9 L962.0,792.9 L962.8,790.5 L963.6,789.8 L964.4,790.5 L965.2,790.5 L966.0,792.5 L966.8,793.4 L967.6,794.1 L968.4,795.7 L969.2,794.9 L970.0,794.5 L970.8,795.2 L971.6,793.6 L972.4,793.9 L973.2,795.9 L974.0,792.4 L974.8,792.3 L975.6,789.4 L976.4,788.8 L977.2,790.0 L978.0,791.8 L978.8,792.5 L979.6,796.7 L980.4,795.6 L981.2,797.6 L982.0,795.5 L982.8,794.4 L983.6,793.5 L984.4,791.4 L985.2,789.7 L986.0,790.9 L986.8,791.0 L987.6,788.8 L988.4,789.1 L989.2,788.8 L990.0,788.5 L990.8,789.5 L991.6,790.5 L992.4,788.7 L993.2,789.0 L994.0,791.8 L994.8,789.5 L995.6,792.6 L996.4,791.3 L997.2,794.1 L998.0,791.9 L998.8,791.5 L999.6,790.5 L1000.4,791.3 L1001.2,793.0 L1002.0,791.1 L1002.8,791.9 L1003.6,792.4 L1004.4,793.4 L1005.2,791.6 L1006.0,792.8 L1006.8,792.8 L1007.6,791.5 L1008.4,788.3 L1009.2,790.4 L1010.0,790.0 L1010.8,792.1 L1011.6,791.2 L1012.4,793.4 L1013.2,793.2 L1014.0,791.8 L1014.8,792.3 L1015.6,790.4 L1016.4,788.3 L1017.2,789.1 L1018.0,788.5 L1018.8,789.3 L1019.6,788.0 L1020.4,789.6 L1021.2,789.3 L1022.0,788.9 L1022.8,788.6 L1023.6,789.2 L1024.4,787.7 L1025.2,786.3 L1026.0,785.5 L1026.8,783.0 L1027.6,785.2 L1028.4,785.5 L1029.2,786.0 L1030.0,788.1 L1030.8,788.0 L1031.6,785.2 L1032.4,785.7 L1033.2,785.6 L1034.0,785.8 L1034.8,783.0 L1035.6,782.5 L1036.4,781.8 L1037.2,783.0 L1038.0,782.4 L1038.8,784.4 L1039.6,786.2 L1040.4,786.6 L1041.2,786.3 L1042.0,785.3 L1042.8,785.2 L1043.6,784.3 L1044.4,784.4 L1045.2,780.3 L1046.0,783.4 L1046.8,785.2 L1047.6,787.4 L1048.4,789.4 L1049.2,791.2 L1050.0,791.3 L1050.8,791.9 L1051.6,795.6 L1052.4,797.4 L1053.2,798.8 L1054.0,797.4 L1054.8,798.0 L1055.6,796.2 L1056.4,794.9 L1057.2,792.9 L1058.0,791.8 L1058.8,790.9 L1059.6,789.3 L1060.4,787.4 L1061.2,784.4 L1062.0,784.3 L1062.8,781.8 L1063.6,782.8 L1064.4,783.9 L1065.2,782.8 L1066.0,787.2 L1066.8,786.2 L1067.6,787.1 L1068.4,786.9 L1069.2,788.3 L1070.0,790.1 L1070.8,792.5 L1071.6,795.1 L1072.4,797.3 L1073.2,795.7 L1074.0,796.8 L1074.8,797.0 L1075.6,795.4 L1076.4,796.7 L1077.2,795.3 L1078.0,795.0 L1078.8,794.4 L1079.6,794.4 L1080.4,793.4 L1081.2,792.9 L1082.0,794.7 L1082.8,792.1 L1083.6,792.5 L1084.4,790.8 L1085.2,789.6 L1086.0,788.4 L1086.8,787.9 L1087.6,788.9 L1088.4,786.9 L1089.2,788.5 L1090.0,789.5 L1090.8,790.6 L1091.6,791.6 L1092.4,790.8 L1093.2,789.8 L1094.0,790.0 L1094.8,788.9 L1095.6,789.7 L1096.4,787.9 L1097.2,787.7 L1098.0,787.4 L1098.8,786.8 L1099.6,785.5 L1100.4,782.9 L1101.2,784.1 L1102.0,784.9 L1102.8,785.5 L1103.6,784.7 L1104.4,785.0 L1105.2,786.4 L1106.0,783.0 L1106.8,784.0 L1107.6,784.0 L1108.4,785.1 L1109.2,785.5 L1110.0,782.4 L1110.8,782.2 L1111.6,779.8 L1112.4,778.1 L1113.2,775.8 L1114.0,773.7 L1114.8,768.9 L1115.6,768.0 L1116.4,767.8 L1117.2,765.8 L1118.0,764.5 L1118.8,765.1 L1119.6,765.1 L1120.4,763.0 L1121.2,760.9 L1122.0,758.2 L1122.8,757.8 L1123.6,758.8 L1124.4,755.9 L1125.2,755.3 L1126.0,753.6 L1126.8,754.2 L1127.6,749.5 L1128.4,746.6 L1129.2,747.0 L1130.0,746.9 L1130.8,748.3 L1131.6,747.7 L1132.4,749.2 L1133.2,746.3 L1134.0,746.3 L1134.8,748.0 L1135.6,750.0 L1136.4,753.7 L1137.2,755.0 L1138.0,753.9 L1138.8,752.8 L1139.6,750.1 L1140.4,749.7 L1141.2,752.0 L1142.0,752.5 L1142.8,749.9 L1143.6,753.7 L1144.4,751.3 L1145.2,747.9 L1146.0,746.9 L1146.8,747.0 L1147.6,746.6 L1148.4,746.5 L1149.2,745.8 L1150.0,744.0 L1150.8,741.8 L1151.6,741.0 L1152.4,742.9 L1153.2,742.6 L1154.0,742.5 L1154.8,742.6 L1155.6,744.0 L1156.4,746.2 L1157.2,746.5 L1158.0,751.8 L1158.8,751.3 L1159.6,748.8 L1160.4,748.2 L1161.2,744.9 L1162.0,744.5 L1162.8,747.1 L1163.6,747.7 L1164.4,752.0 L1165.2,751.7 L1166.0,752.2 L1166.8,755.1 L1167.6,757.5 L1168.4,758.6 L1169.2,761.3 L1170.0,762.3 L1170.8,766.7 L1171.6,769.5 L1172.4,769.6 L1173.2,771.6 L1174.0,774.8 L1174.8,778.8 L1175.6,778.8 L1176.4,781.0 L1177.2,779.7 L1178.0,781.9 L1178.8,782.8 L1179.6,783.5 L1180.4,783.2 L1181.2,785.6 L1182.0,785.5 L1182.8,786.7 L1183.6,788.4 L1184.4,787.2 L1185.2,789.6 L1186.0,791.2 L1186.8,790.6 L1187.6,792.8 L1188.4,793.1 L1189.2,795.7 L1190.0,796.3 L1190.8,794.9 L1191.6,795.6 L1192.4,795.9 L1193.2,794.2 L1194.0,792.1 L1194.8,791.7 L1195.6,789.6 L1196.4,790.4 L1197.2,791.5 L1198.0,791.4 L1198.8,790.0 L1199.6,791.4 L1200.4,790.4 L1201.2,791.0 L1202.0,792.8 L1202.8,792.7 L1203.6,791.7 L1204.4,792.4 L1205.2,793.7 L1206.0,793.0 L1206.8,792.5 L1207.6,795.0 L1208.4,795.6 L1209.2,796.8 L1210.0,794.9 L1210.8,794.5 L1211.6,794.0 L1212.4,795.5 L1213.2,794.6 L1214.0,792.1 L1214.8,792.1 L1215.6,792.3 L1216.4,792.8 L1217.2,793.7 L1218.0,795.8 L1218.8,795.1 L1219.6,794.5 L1220.4,794.7 L1221.2,794.5 L1222.0,792.7 L1222.8,794.4 L1223.6,790.9 L1224.4,795.1 L1225.2,793.4 L1226.0,794.7 L1226.8,796.6 L1227.6,794.7 L1228.4,794.7 L1229.2,795.8 L1230.0,795.2 L1230.8,793.0 L1231.6,792.9 L1232.4,790.4 L1233.2,790.3 L1234.0,790.0 L1234.8,790.6 L1235.6,788.7 L1236.4,787.9 L1237.2,788.6 L1238.0,788.3 L1238.8,786.9 L1239.6,788.6 L1240.4,787.9 L1241.2,787.7 L1242.0,790.2 L1242.8,792.0 L1243.6,793.6 L1244.4,794.5 L1245.2,796.3 L1246.0,796.8 L1246.8,796.4 L1247.6,796.1 L1248.4,795.1 L1249.2,794.4 L1250.0,793.9 L1250.8,793.5 L1251.6,794.2 L1252.4,791.6 L1253.2,791.0 L1254.0,792.2 L1254.8,789.3 L1255.6,789.8 L1256.4,788.3 L1257.2,786.1 L1258.0,786.4 L1258.8,786.4 L1259.6,787.8 L1260.4,788.0 L1261.2,786.3 L1262.0,786.9 L1262.8,782.9 L1263.6,784.9 L1264.4,780.0 L1265.2,779.3 L1266.0,776.0 L1266.8,772.5 L1267.6,772.2 L1268.4,768.7 L1269.2,766.8 L1270.0,765.4 L1270.8,764.1 L1271.6,760.5 L1272.4,759.2 L1273.2,756.1 L1274.0,755.3 L1274.8,753.6 L1275.6,755.4 L1276.4,752.9 L1277.2,755.8 L1278.0,752.4 L1278.8,747.1 L1279.6,745.8 L1280.4,745.7 L1281.2,744.4 L1282.0,747.6 L1282.8,747.9 L1283.6,748.6 L1284.4,747.8 L1285.2,746.8 L1286.0,744.5 L1286.8,745.3 L1287.6,745.9 L1288.4,744.9 L1289.2,745.2 L1290.0,744.9" fill="none" stroke="#058205" stroke-width="1.9" stroke-linejoin="round"/><path d="M776.4,751.6 L777.2,752.2 L778.0,754.0 L778.8,755.4 L779.6,756.7 L780.4,759.9 L781.2,759.5 L782.0,762.2 L782.8,763.3 L783.6,765.4 L784.4,766.0 L785.2,765.3 L786.0,762.4 L786.8,759.7 L787.6,757.0 L788.4,757.5 L789.2,758.7 L790.0,757.7 L790.8,758.7 L791.6,762.9 L792.4,760.6 L793.2,763.9 L794.0,764.8 L794.8,766.6 L795.6,765.6 L796.4,765.8 L797.2,767.1 L798.0,769.2 L798.8,771.7 L799.6,772.8 L800.4,775.6 L801.2,777.5 L802.0,780.1 L802.8,781.2 L803.6,781.5 L804.4,782.8 L805.2,784.5 L806.0,788.5 L806.8,788.0 L807.6,787.0 L808.4,788.0 L809.2,790.7 L810.0,788.6 L810.8,788.8 L811.6,790.4 L812.4,792.8 L813.2,794.7 L814.0,795.5 L814.8,794.6 L815.6,796.2 L816.4,797.7 L817.2,798.8 L818.0,799.4 L818.8,797.3 L819.6,794.8 L820.4,796.2 L821.2,793.8 L822.0,791.2 L822.8,792.0 L823.6,789.9 L824.4,790.9 L825.2,789.7 L826.0,791.3 L826.8,787.3 L827.6,786.5 L828.4,788.2 L829.2,787.4 L830.0,787.6 L830.8,789.1 L831.6,792.2 L832.4,793.3 L833.2,791.5 L834.0,790.1 L834.8,789.9 L835.6,791.6 L836.4,789.9 L837.2,789.2 L838.0,792.0 L838.8,790.6 L839.6,791.6 L840.4,791.4 L841.2,792.5 L842.0,794.6 L842.8,794.3 L843.6,790.8 L844.4,793.3 L845.2,793.2 L846.0,790.5 L846.8,788.8 L847.6,790.5 L848.4,791.0 L849.2,791.5 L850.0,792.4 L850.8,792.1 L851.6,792.7 L852.4,792.5 L853.2,792.8 L854.0,794.7 L854.8,797.0 L855.6,795.8 L856.4,795.4 L857.2,791.7 L858.0,792.5 L858.8,794.3 L859.6,792.2 L860.4,791.7 L861.2,790.9 L862.0,790.3 L862.8,792.0 L863.6,790.2 L864.4,789.9 L865.2,792.3 L866.0,791.7 L866.8,791.3 L867.6,792.1 L868.4,793.2 L869.2,796.1 L870.0,794.4 L870.8,794.6 L871.6,795.6 L872.4,794.7 L873.2,794.2 L874.0,798.1 L874.8,797.7 L875.6,796.8 L876.4,796.1 L877.2,793.9 L878.0,792.3 L878.8,790.7 L879.6,789.6 L880.4,789.8 L881.2,789.0 L882.0,787.2 L882.8,787.2 L883.6,783.4 L884.4,780.6 L885.2,776.6 L886.0,777.3 L886.8,777.5 L887.6,777.3 L888.4,775.5 L889.2,777.9 L890.0,773.5 L890.8,772.6 L891.6,771.0 L892.4,769.8 L893.2,769.5 L894.0,768.3 L894.8,768.3 L895.6,766.1 L896.4,765.4 L897.2,766.0 L898.0,764.5 L898.8,764.3 L899.6,761.3 L900.4,757.5 L901.2,757.9 L902.0,753.3 L902.8,749.8 L903.6,750.1 L904.4,751.4 L905.2,755.1 L906.0,755.4 L906.8,757.0 L907.6,757.8 L908.4,757.8 L909.2,757.0 L910.0,755.2 L910.8,755.7 L911.6,755.9 L912.4,758.4 L913.2,757.1 L914.0,762.6 L914.8,763.1 L915.6,761.7 L916.4,759.5 L917.2,759.1 L918.0,758.3 L918.8,755.3 L919.6,758.1 L920.4,760.8 L921.2,760.0 L922.0,755.8 L922.8,752.3 L923.6,750.7 L924.4,746.8 L925.2,746.0 L926.0,748.4 L926.8,745.3 L927.6,745.3 L928.4,747.1 L929.2,746.2 L930.0,745.3 L930.8,748.4 L931.6,747.3 L932.4,752.8 L933.2,754.2 L934.0,758.0 L934.8,761.8 L935.6,764.5 L936.4,762.0 L937.2,759.8 L938.0,761.0 L938.8,758.1 L939.6,756.0 L940.4,754.9 L941.2,756.3 L942.0,757.3 L942.8,756.8 L943.6,761.6 L944.4,759.4 L945.2,758.6 L946.0,757.1 L946.8,757.7 L947.6,759.9 L948.4,757.5 L949.2,765.2 L950.0,767.6 L950.8,770.7 L951.6,771.8 L952.4,768.9 L953.2,768.5 L954.0,769.5 L954.8,770.0 L955.6,768.2 L956.4,765.7 L957.2,762.6 L958.0,762.5 L958.8,760.6 L959.6,760.1 L960.4,761.6 L961.2,764.7 L962.0,766.6 L962.8,764.7 L963.6,762.0 L964.4,762.8 L965.2,761.2 L966.0,758.0 L966.8,752.5 L967.6,750.6 L968.4,750.6 L969.2,746.2 L970.0,747.6 L970.8,741.9 L971.6,743.9 L972.4,746.2 L973.2,748.8 L974.0,749.7 L974.8,748.7 L975.6,749.7 L976.4,748.9 L977.2,748.9 L978.0,747.5 L978.8,745.8 L979.6,745.3 L980.4,747.8 L981.2,750.4 L982.0,748.5 L982.8,750.1 L983.6,752.9 L984.4,753.8 L985.2,751.7 L986.0,753.1 L986.8,751.0 L987.6,751.8 L988.4,750.8 L989.2,751.2 L990.0,751.3 L990.8,749.9 L991.6,751.5 L992.4,751.4 L993.2,750.3 L994.0,750.9 L994.8,750.3 L995.6,751.1 L996.4,749.4 L997.2,745.9 L998.0,746.6 L998.8,747.6 L999.6,745.4 L1000.4,746.5 L1001.2,748.8 L1002.0,750.1 L1002.8,750.4 L1003.6,752.6 L1004.4,756.2 L1005.2,757.0 L1006.0,758.6 L1006.8,757.2 L1007.6,755.0 L1008.4,752.8 L1009.2,752.5 L1010.0,754.2 L1010.8,757.2 L1011.6,759.7 L1012.4,762.5 L1013.2,761.0 L1014.0,760.2 L1014.8,758.8 L1015.6,759.2 L1016.4,755.1 L1017.2,756.3 L1018.0,758.8 L1018.8,764.9 L1019.6,767.9 L1020.4,768.6 L1021.2,768.8 L1022.0,772.1 L1022.8,772.3 L1023.6,773.7 L1024.4,775.8 L1025.2,775.4 L1026.0,774.7 L1026.8,776.1 L1027.6,778.6 L1028.4,777.2 L1029.2,775.9 L1030.0,774.0 L1030.8,774.6 L1031.6,774.9 L1032.4,774.3 L1033.2,774.8 L1034.0,776.0 L1034.8,778.4 L1035.6,779.3 L1036.4,780.1 L1037.2,777.3 L1038.0,780.0 L1038.8,778.5 L1039.6,777.0 L1040.4,775.4 L1041.2,775.5 L1042.0,773.8 L1042.8,775.0 L1043.6,777.6 L1044.4,776.9 L1045.2,778.8 L1046.0,778.8 L1046.8,776.5 L1047.6,778.0 L1048.4,778.9 L1049.2,779.8 L1050.0,781.5 L1050.8,778.5 L1051.6,783.3 L1052.4,784.2 L1053.2,785.1 L1054.0,784.8 L1054.8,786.8 L1055.6,786.4 L1056.4,786.6 L1057.2,787.0 L1058.0,788.5 L1058.8,791.7 L1059.6,792.4 L1060.4,790.6 L1061.2,790.9 L1062.0,789.0 L1062.8,786.0 L1063.6,788.7 L1064.4,791.1 L1065.2,790.1 L1066.0,792.3 L1066.8,793.1 L1067.6,790.7 L1068.4,790.9 L1069.2,788.0 L1070.0,787.9 L1070.8,787.4 L1071.6,787.0 L1072.4,790.6 L1073.2,794.3 L1074.0,795.1 L1074.8,794.5 L1075.6,795.0 L1076.4,793.5 L1077.2,794.8 L1078.0,797.1 L1078.8,795.0 L1079.6,794.1 L1080.4,793.3 L1081.2,792.3 L1082.0,794.3 L1082.8,793.4 L1083.6,793.1 L1084.4,791.5 L1085.2,791.8 L1086.0,792.7 L1086.8,794.0 L1087.6,794.9 L1088.4,794.7 L1089.2,798.9 L1090.0,796.8 L1090.8,794.0 L1091.6,792.1 L1092.4,790.6 L1093.2,788.5 L1094.0,789.9 L1094.8,787.9 L1095.6,790.2 L1096.4,788.6 L1097.2,790.5 L1098.0,789.9 L1098.8,788.7 L1099.6,789.9 L1100.4,789.2 L1101.2,791.8 L1102.0,792.4 L1102.8,795.2 L1103.6,793.8 L1104.4,793.2 L1105.2,791.4 L1106.0,790.7 L1106.8,790.7 L1107.6,787.2 L1108.4,789.4 L1109.2,787.6 L1110.0,787.7 L1110.8,788.7 L1111.6,786.5 L1112.4,787.3 L1113.2,786.1 L1114.0,790.0 L1114.8,791.4 L1115.6,794.6 L1116.4,794.1 L1117.2,792.4 L1118.0,791.5 L1118.8,790.0 L1119.6,787.9 L1120.4,787.4 L1121.2,787.5 L1122.0,787.0 L1122.8,786.2 L1123.6,787.3 L1124.4,785.0 L1125.2,785.2 L1126.0,788.5 L1126.8,788.3 L1127.6,789.7 L1128.4,787.3 L1129.2,789.6 L1130.0,789.8 L1130.8,791.0 L1131.6,794.3 L1132.4,795.4 L1133.2,795.5 L1134.0,793.7 L1134.8,792.0 L1135.6,793.8 L1136.4,792.4 L1137.2,792.4 L1138.0,792.7 L1138.8,791.4 L1139.6,794.4 L1140.4,793.5 L1141.2,795.1 L1142.0,792.8 L1142.8,793.0 L1143.6,791.1 L1144.4,792.2 L1145.2,789.3 L1146.0,789.4 L1146.8,786.9 L1147.6,786.8 L1148.4,786.4 L1149.2,787.4 L1150.0,790.0 L1150.8,791.3 L1151.6,791.1 L1152.4,790.9 L1153.2,792.8 L1154.0,791.9 L1154.8,790.9 L1155.6,788.1 L1156.4,786.3 L1157.2,785.4 L1158.0,784.7 L1158.8,782.4 L1159.6,785.4 L1160.4,787.1 L1161.2,788.3 L1162.0,788.3 L1162.8,787.9 L1163.6,790.5 L1164.4,789.4 L1165.2,791.0 L1166.0,791.5 L1166.8,791.1 L1167.6,790.4 L1168.4,786.6 L1169.2,788.1 L1170.0,787.0 L1170.8,788.1 L1171.6,788.5 L1172.4,788.2 L1173.2,790.2 L1174.0,783.5 L1174.8,779.0 L1175.6,777.0 L1176.4,776.0 L1177.2,774.9 L1178.0,774.1 L1178.8,771.1 L1179.6,770.9 L1180.4,772.3 L1181.2,771.8 L1182.0,769.3 L1182.8,768.4 L1183.6,766.3 L1184.4,763.9 L1185.2,759.8 L1186.0,756.3 L1186.8,753.6 L1187.6,752.8 L1188.4,747.2 L1189.2,744.9 L1190.0,745.7 L1190.8,748.2 L1191.6,749.3 L1192.4,752.5 L1193.2,756.5 L1194.0,760.0 L1194.8,762.6 L1195.6,761.0 L1196.4,761.4 L1197.2,760.1 L1198.0,758.4 L1198.8,758.9 L1199.6,761.3 L1200.4,762.7 L1201.2,762.9 L1202.0,759.7 L1202.8,761.1 L1203.6,759.9 L1204.4,758.4 L1205.2,757.5 L1206.0,757.6 L1206.8,757.1 L1207.6,756.3 L1208.4,756.4 L1209.2,755.6 L1210.0,754.9 L1210.8,755.1 L1211.6,752.4 L1212.4,750.6 L1213.2,752.7 L1214.0,756.3 L1214.8,756.3 L1215.6,759.8 L1216.4,759.4 L1217.2,759.5 L1218.0,756.5 L1218.8,757.1 L1219.6,754.1 L1220.4,751.3 L1221.2,752.6 L1222.0,752.4 L1222.8,755.1 L1223.6,755.7 L1224.4,756.8 L1225.2,758.4 L1226.0,755.3 L1226.8,758.1 L1227.6,754.6 L1228.4,757.2 L1229.2,755.9 L1230.0,756.3 L1230.8,757.8 L1231.6,759.9 L1232.4,761.8 L1233.2,762.4 L1234.0,760.8 L1234.8,763.0 L1235.6,764.1 L1236.4,762.2 L1237.2,759.8 L1238.0,759.1 L1238.8,762.8 L1239.6,767.6 L1240.4,770.8 L1241.2,773.0 L1242.0,775.2 L1242.8,779.3 L1243.6,777.1 L1244.4,780.1 L1245.2,783.3 L1246.0,784.1 L1246.8,784.0 L1247.6,784.9 L1248.4,784.0 L1249.2,786.4 L1250.0,787.9 L1250.8,788.2 L1251.6,789.4 L1252.4,789.6 L1253.2,788.8 L1254.0,792.6 L1254.8,794.1 L1255.6,794.1 L1256.4,795.8 L1257.2,795.1 L1258.0,794.5 L1258.8,796.5 L1259.6,793.5 L1260.4,792.8 L1261.2,793.6 L1262.0,792.8 L1262.8,791.8 L1263.6,789.5 L1264.4,789.6 L1265.2,790.8 L1266.0,791.0 L1266.8,791.1 L1267.6,794.7 L1268.4,792.5 L1269.2,795.3 L1270.0,793.2 L1270.8,796.1 L1271.6,796.7 L1272.4,795.8 L1273.2,792.2 L1274.0,791.8 L1274.8,792.1 L1275.6,793.4 L1276.4,793.0 L1277.2,789.6 L1278.0,789.5 L1278.8,792.3 L1279.6,791.0 L1280.4,789.0 L1281.2,790.2 L1282.0,787.0 L1282.8,789.3 L1283.6,786.8 L1284.4,785.0 L1285.2,786.6 L1286.0,789.1 L1286.8,790.3 L1287.6,791.4 L1288.4,794.4 L1289.2,793.6 L1290.0,793.3" fill="none" stroke="#0505ff" stroke-width="1.9" stroke-linejoin="round"/><path d="M776.4,788.5 L777.2,787.6 L778.0,787.1 L778.8,788.2 L779.6,788.3 L780.4,788.1 L781.2,786.9 L782.0,786.2 L782.8,789.3 L783.6,786.8 L784.4,789.3 L785.2,788.6 L786.0,790.8 L786.8,792.4 L787.6,792.2 L788.4,790.1 L789.2,793.6 L790.0,795.4 L790.8,793.7 L791.6,794.0 L792.4,793.1 L793.2,793.4 L794.0,792.0 L794.8,791.6 L795.6,792.2 L796.4,791.4 L797.2,790.2 L798.0,791.4 L798.8,791.4 L799.6,789.2 L800.4,786.4 L801.2,786.7 L802.0,786.2 L802.8,782.3 L803.6,782.3 L804.4,780.8 L805.2,780.0 L806.0,777.1 L806.8,771.8 L807.6,770.8 L808.4,768.8 L809.2,768.2 L810.0,764.5 L810.8,765.1 L811.6,763.8 L812.4,761.6 L813.2,760.8 L814.0,762.2 L814.8,760.1 L815.6,762.4 L816.4,764.5 L817.2,765.2 L818.0,765.3 L818.8,768.6 L819.6,768.8 L820.4,771.2 L821.2,769.8 L822.0,772.7 L822.8,774.2 L823.6,775.9 L824.4,777.4 L825.2,779.3 L826.0,779.3 L826.8,780.1 L827.6,780.7 L828.4,783.8 L829.2,782.0 L830.0,784.4 L830.8,783.9 L831.6,786.6 L832.4,788.4 L833.2,787.8 L834.0,789.7 L834.8,788.8 L835.6,792.4 L836.4,793.0 L837.2,795.1 L838.0,795.8 L838.8,796.5 L839.6,796.6 L840.4,794.2 L841.2,792.4 L842.0,791.3 L842.8,792.3 L843.6,793.1 L844.4,795.9 L845.2,795.6 L846.0,793.9 L846.8,796.3 L847.6,797.4 L848.4,799.2 L849.2,798.7 L850.0,799.8 L850.8,798.1 L851.6,797.7 L852.4,797.1 L853.2,795.0 L854.0,793.4 L854.8,793.4 L855.6,789.6 L856.4,788.8 L857.2,789.9 L858.0,787.2 L858.8,785.8 L859.6,785.3 L860.4,788.6 L861.2,793.0 L862.0,791.7 L862.8,790.4 L863.6,790.7 L864.4,796.0 L865.2,794.7 L866.0,792.5 L866.8,792.4 L867.6,793.3 L868.4,792.4 L869.2,792.6 L870.0,792.5 L870.8,792.4 L871.6,790.8 L872.4,792.5 L873.2,792.4 L874.0,792.4 L874.8,788.8 L875.6,789.8 L876.4,787.8 L877.2,789.2 L878.0,789.0 L878.8,787.6 L879.6,785.0 L880.4,785.8 L881.2,788.5 L882.0,787.1 L882.8,790.6 L883.6,790.7 L884.4,791.9 L885.2,791.9 L886.0,791.8 L886.8,791.2 L887.6,791.6 L888.4,790.7 L889.2,791.3 L890.0,791.1 L890.8,791.2 L891.6,791.4 L892.4,790.5 L893.2,788.2 L894.0,787.8 L894.8,787.8 L895.6,789.1 L896.4,789.1 L897.2,789.5 L898.0,792.7 L898.8,792.8 L899.6,792.9 L900.4,793.3 L901.2,790.8 L902.0,788.0 L902.8,787.3 L903.6,786.7 L904.4,786.0 L905.2,784.3 L906.0,785.0 L906.8,787.7 L907.6,788.1 L908.4,789.3 L909.2,787.7 L910.0,789.5 L910.8,788.5 L911.6,789.6 L912.4,788.0 L913.2,787.2 L914.0,784.2 L914.8,783.8 L915.6,781.8 L916.4,787.2 L917.2,786.4 L918.0,785.5 L918.8,786.5 L919.6,789.2 L920.4,790.3 L921.2,791.1 L922.0,793.4 L922.8,792.3 L923.6,789.9 L924.4,791.3 L925.2,791.9 L926.0,790.0 L926.8,792.6 L927.6,793.1 L928.4,797.3 L929.2,796.5 L930.0,798.5 L930.8,795.9 L931.6,796.1 L932.4,793.0 L933.2,791.1 L934.0,790.4 L934.8,788.8 L935.6,787.0 L936.4,787.9 L937.2,788.1 L938.0,790.4 L938.8,791.1 L939.6,789.5 L940.4,791.5 L941.2,792.0 L942.0,791.9 L942.8,791.4 L943.6,792.1 L944.4,789.8 L945.2,788.5 L946.0,789.6 L946.8,793.0 L947.6,789.1 L948.4,786.2 L949.2,786.7 L950.0,786.6 L950.8,782.2 L951.6,782.8 L952.4,783.5 L953.2,785.5 L954.0,785.7 L954.8,786.7 L955.6,790.3 L956.4,788.5 L957.2,789.6 L958.0,789.1 L958.8,790.5 L959.6,789.8 L960.4,788.9 L961.2,787.9 L962.0,788.5 L962.8,786.7 L963.6,789.1 L964.4,789.8 L965.2,793.9 L966.0,794.4 L966.8,797.7 L967.6,795.8 L968.4,795.6 L969.2,798.2 L970.0,798.8 L970.8,797.4 L971.6,796.0 L972.4,792.2 L973.2,794.0 L974.0,792.4 L974.8,794.8 L975.6,797.3 L976.4,798.0 L977.2,798.4 L978.0,796.7 L978.8,796.5 L979.6,793.3 L980.4,792.3 L981.2,792.7 L982.0,791.5 L982.8,792.0 L983.6,792.1 L984.4,790.9 L985.2,789.2 L986.0,790.7 L986.8,792.8 L987.6,790.8 L988.4,792.8 L989.2,795.4 L990.0,798.1 L990.8,798.6 L991.6,799.7 L992.4,803.5 L993.2,801.7 L994.0,799.1 L994.8,795.1 L995.6,794.0 L996.4,796.6 L997.2,795.6 L998.0,794.5 L998.8,795.9 L999.6,794.2 L1000.4,794.4 L1001.2,794.5 L1002.0,793.4 L1002.8,793.9 L1003.6,790.8 L1004.4,791.2 L1005.2,791.3 L1006.0,793.9 L1006.8,792.6 L1007.6,792.8 L1008.4,793.1 L1009.2,792.3 L1010.0,793.1 L1010.8,792.7 L1011.6,792.7 L1012.4,792.4 L1013.2,791.7 L1014.0,794.6 L1014.8,795.2 L1015.6,796.1 L1016.4,798.2 L1017.2,798.3 L1018.0,794.4 L1018.8,794.6 L1019.6,794.5 L1020.4,789.2 L1021.2,789.6 L1022.0,788.4 L1022.8,786.6 L1023.6,785.8 L1024.4,786.0 L1025.2,785.3 L1026.0,786.1 L1026.8,787.2 L1027.6,787.6 L1028.4,790.4 L1029.2,789.5 L1030.0,791.3 L1030.8,793.2 L1031.6,792.4 L1032.4,794.8 L1033.2,795.7 L1034.0,797.5 L1034.8,795.6 L1035.6,796.0 L1036.4,793.5 L1037.2,793.3 L1038.0,793.5 L1038.8,791.8 L1039.6,791.4 L1040.4,788.2 L1041.2,785.5 L1042.0,786.6 L1042.8,785.7 L1043.6,785.5 L1044.4,784.3 L1045.2,785.2 L1046.0,783.7 L1046.8,782.3 L1047.6,778.7 L1048.4,774.8 L1049.2,769.7 L1050.0,766.3 L1050.8,764.7 L1051.6,764.7 L1052.4,760.5 L1053.2,759.8 L1054.0,758.6 L1054.8,759.8 L1055.6,761.7 L1056.4,761.6 L1057.2,759.6 L1058.0,759.1 L1058.8,759.0 L1059.6,758.6 L1060.4,758.7 L1061.2,758.8 L1062.0,760.7 L1062.8,763.2 L1063.6,765.1 L1064.4,764.9 L1065.2,762.0 L1066.0,762.6 L1066.8,759.8 L1067.6,759.6 L1068.4,757.2 L1069.2,752.7 L1070.0,752.5 L1070.8,751.8 L1071.6,752.2 L1072.4,751.5 L1073.2,754.0 L1074.0,751.3 L1074.8,750.3 L1075.6,749.9 L1076.4,747.9 L1077.2,745.9 L1078.0,744.5 L1078.8,749.6 L1079.6,753.9 L1080.4,755.4 L1081.2,757.9 L1082.0,757.0 L1082.8,756.5 L1083.6,757.8 L1084.4,754.5 L1085.2,754.0 L1086.0,758.8 L1086.8,758.7 L1087.6,764.0 L1088.4,765.1 L1089.2,766.4 L1090.0,764.6 L1090.8,768.8 L1091.6,766.8 L1092.4,767.8 L1093.2,765.7 L1094.0,767.5 L1094.8,763.9 L1095.6,765.4 L1096.4,767.5 L1097.2,768.7 L1098.0,769.5 L1098.8,771.1 L1099.6,770.3 L1100.4,771.9 L1101.2,771.8 L1102.0,772.5 L1102.8,772.5 L1103.6,771.2 L1104.4,772.7 L1105.2,777.1 L1106.0,776.1 L1106.8,777.4 L1107.6,779.4 L1108.4,780.8 L1109.2,782.7 L1110.0,783.1 L1110.8,783.8 L1111.6,786.6 L1112.4,786.9 L1113.2,785.8 L1114.0,786.4 L1114.8,787.0 L1115.6,789.0 L1116.4,787.9 L1117.2,790.7 L1118.0,788.9 L1118.8,792.5 L1119.6,790.9 L1120.4,794.0 L1121.2,793.8 L1122.0,795.0 L1122.8,798.6 L1123.6,799.2 L1124.4,800.2 L1125.2,798.1 L1126.0,796.2 L1126.8,795.6 L1127.6,794.2 L1128.4,793.0 L1129.2,794.3 L1130.0,792.3 L1130.8,793.8 L1131.6,794.7 L1132.4,792.9 L1133.2,792.9 L1134.0,795.7 L1134.8,791.3 L1135.6,792.1 L1136.4,793.9 L1137.2,795.6 L1138.0,797.2 L1138.8,796.7 L1139.6,796.6 L1140.4,794.5 L1141.2,795.7 L1142.0,796.3 L1142.8,794.8 L1143.6,795.2 L1144.4,795.3 L1145.2,796.2 L1146.0,795.9 L1146.8,800.4 L1147.6,800.4 L1148.4,800.1 L1149.2,797.3 L1150.0,795.7 L1150.8,796.4 L1151.6,796.2 L1152.4,793.3 L1153.2,793.1 L1154.0,795.8 L1154.8,797.0 L1155.6,794.6 L1156.4,797.6 L1157.2,796.3 L1158.0,796.7 L1158.8,795.7 L1159.6,793.3 L1160.4,793.9 L1161.2,793.7 L1162.0,793.5 L1162.8,797.8 L1163.6,799.7 L1164.4,799.1 L1165.2,798.3 L1166.0,798.3 L1166.8,795.5 L1167.6,795.0 L1168.4,793.9 L1169.2,793.7 L1170.0,794.0 L1170.8,791.0 L1171.6,789.9 L1172.4,789.5 L1173.2,786.0 L1174.0,786.0 L1174.8,787.0 L1175.6,787.9 L1176.4,787.3 L1177.2,788.7 L1178.0,790.2 L1178.8,789.6 L1179.6,791.3 L1180.4,791.2 L1181.2,790.1 L1182.0,788.4 L1182.8,790.1 L1183.6,791.1 L1184.4,791.8 L1185.2,793.5 L1186.0,793.0 L1186.8,793.1 L1187.6,792.4 L1188.4,792.4 L1189.2,792.7 L1190.0,794.0 L1190.8,791.3 L1191.6,790.5 L1192.4,788.5 L1193.2,788.8 L1194.0,787.3 L1194.8,787.6 L1195.6,787.2 L1196.4,786.9 L1197.2,788.3 L1198.0,790.3 L1198.8,787.6 L1199.6,791.0 L1200.4,792.4 L1201.2,794.4 L1202.0,795.1 L1202.8,795.6 L1203.6,791.2 L1204.4,789.2 L1205.2,782.7 L1206.0,785.5 L1206.8,788.3 L1207.6,791.2 L1208.4,795.4 L1209.2,797.0 L1210.0,798.1 L1210.8,797.6 L1211.6,798.3 L1212.4,794.3 L1213.2,794.9 L1214.0,794.3 L1214.8,790.2 L1215.6,793.8 L1216.4,792.5 L1217.2,794.2 L1218.0,794.8 L1218.8,795.7 L1219.6,797.1 L1220.4,795.1 L1221.2,796.6 L1222.0,795.3 L1222.8,796.4 L1223.6,792.6 L1224.4,792.8 L1225.2,790.2 L1226.0,788.8 L1226.8,790.1 L1227.6,789.0 L1228.4,792.1 L1229.2,793.7 L1230.0,794.8 L1230.8,794.5 L1231.6,790.4 L1232.4,788.0 L1233.2,786.3 L1234.0,787.3 L1234.8,789.1 L1235.6,788.5 L1236.4,787.9 L1237.2,787.9 L1238.0,787.7 L1238.8,789.6 L1239.6,788.0 L1240.4,787.0 L1241.2,786.9 L1242.0,782.7 L1242.8,783.3 L1243.6,781.9 L1244.4,776.2 L1245.2,775.2 L1246.0,772.8 L1246.8,769.7 L1247.6,771.3 L1248.4,771.0 L1249.2,771.4 L1250.0,769.7 L1250.8,767.9 L1251.6,771.7 L1252.4,771.2 L1253.2,773.6 L1254.0,772.5 L1254.8,770.3 L1255.6,766.9 L1256.4,767.3 L1257.2,769.6 L1258.0,770.5 L1258.8,772.3 L1259.6,775.7 L1260.4,775.2 L1261.2,777.0 L1262.0,778.7 L1262.8,779.2 L1263.6,777.9 L1264.4,778.9 L1265.2,780.5 L1266.0,781.3 L1266.8,785.6 L1267.6,785.2 L1268.4,784.2 L1269.2,782.1 L1270.0,782.7 L1270.8,786.7 L1271.6,786.5 L1272.4,788.0 L1273.2,788.8 L1274.0,790.0 L1274.8,792.7 L1275.6,791.4 L1276.4,792.6 L1277.2,795.9 L1278.0,796.9 L1278.8,797.5 L1279.6,799.6 L1280.4,798.2 L1281.2,800.0 L1282.0,800.2 L1282.8,799.0 L1283.6,797.1 L1284.4,796.5 L1285.2,794.3 L1286.0,795.5 L1286.8,794.5 L1287.6,795.2 L1288.4,795.6 L1289.2,795.5 L1290.0,797.0" fill="none" stroke="#ff0505" stroke-width="1.9" stroke-linejoin="round"/><rect x="774.30" y="700.80" width="516.40" height="158.20" fill="none" stroke="#000" stroke-width="4.6"/>
<rect x="774.30" y="853.3" width="516.40" height="1.2" fill="#5a665a"/>
<rect x="774.30" y="854.6" width="516.40" height="2.4" fill="#8c8c8c"/>
<rect x="774.30" y="700.80" width="516.40" height="158.20" fill="none" stroke="#000" stroke-width="4.6"/>
<rect x="774.30" y="867.80" width="25.20" height="157.50" fill="#b3b3ff"/><rect x="798.50" y="867.80" width="83.80" height="157.50" fill="#bed9ba"/><rect x="881.30" y="867.80" width="138.50" height="157.50" fill="#b3b3ff"/><rect x="1018.80" y="867.80" width="69.70" height="157.50" fill="#ffbcbc"/><rect x="1087.50" y="867.80" width="83.50" height="157.50" fill="#bed9ba"/><rect x="1170.00" y="867.80" width="69.80" height="157.50" fill="#b3b3ff"/><rect x="1238.80" y="867.80" width="51.90" height="157.50" fill="#bed9ba"/><path d="M776.4,960.8 L777.2,962.1 L778.0,961.8 L778.8,962.5 L779.6,963.7 L780.4,963.1 L781.2,962.7 L782.0,962.6 L782.8,962.4 L783.6,963.3 L784.4,962.2 L785.2,960.3 L786.0,960.1 L786.8,957.6 L787.6,956.6 L788.4,959.5 L789.2,957.4 L790.0,959.9 L790.8,959.3 L791.6,961.3 L792.4,962.3 L793.2,961.4 L794.0,960.3 L794.8,960.0 L795.6,958.4 L796.4,958.9 L797.2,960.2 L798.0,960.6 L798.8,959.0 L799.6,960.6 L800.4,960.1 L801.2,960.3 L802.0,958.9 L802.8,960.3 L803.6,960.0 L804.4,960.4 L805.2,959.6 L806.0,962.6 L806.8,961.6 L807.6,960.4 L808.4,960.9 L809.2,961.8 L810.0,962.0 L810.8,962.5 L811.6,963.1 L812.4,962.9 L813.2,962.8 L814.0,962.5 L814.8,961.1 L815.6,958.7 L816.4,957.3 L817.2,957.7 L818.0,956.7 L818.8,956.3 L819.6,957.1 L820.4,955.8 L821.2,956.1 L822.0,955.0 L822.8,954.6 L823.6,954.7 L824.4,955.5 L825.2,955.4 L826.0,952.9 L826.8,950.8 L827.6,948.9 L828.4,947.0 L829.2,943.7 L830.0,942.3 L830.8,939.4 L831.6,935.8 L832.4,934.0 L833.2,931.3 L834.0,929.8 L834.8,928.4 L835.6,926.1 L836.4,925.5 L837.2,924.8 L838.0,922.4 L838.8,921.8 L839.6,919.3 L840.4,919.5 L841.2,918.5 L842.0,918.2 L842.8,918.4 L843.6,919.2 L844.4,918.2 L845.2,916.9 L846.0,917.6 L846.8,919.0 L847.6,919.3 L848.4,918.8 L849.2,916.9 L850.0,918.6 L850.8,921.1 L851.6,922.2 L852.4,922.9 L853.2,924.0 L854.0,924.9 L854.8,923.7 L855.6,923.2 L856.4,923.8 L857.2,922.5 L858.0,923.4 L858.8,924.5 L859.6,922.5 L860.4,922.7 L861.2,921.3 L862.0,920.1 L862.8,920.7 L863.6,920.1 L864.4,918.8 L865.2,917.3 L866.0,916.9 L866.8,917.6 L867.6,916.2 L868.4,916.7 L869.2,915.6 L870.0,917.3 L870.8,917.9 L871.6,918.5 L872.4,918.4 L873.2,920.1 L874.0,923.4 L874.8,924.2 L875.6,924.8 L876.4,928.1 L877.2,930.6 L878.0,932.3 L878.8,934.8 L879.6,936.1 L880.4,937.6 L881.2,939.2 L882.0,941.5 L882.8,941.1 L883.6,942.3 L884.4,943.5 L885.2,945.9 L886.0,948.6 L886.8,951.0 L887.6,951.4 L888.4,953.5 L889.2,955.2 L890.0,955.8 L890.8,957.0 L891.6,957.0 L892.4,958.6 L893.2,957.8 L894.0,958.5 L894.8,956.7 L895.6,956.9 L896.4,956.6 L897.2,957.1 L898.0,957.9 L898.8,956.2 L899.6,957.2 L900.4,959.8 L901.2,960.7 L902.0,961.2 L902.8,962.8 L903.6,963.3 L904.4,963.9 L905.2,963.9 L906.0,963.7 L906.8,963.3 L907.6,963.7 L908.4,963.3 L909.2,962.7 L910.0,961.2 L910.8,962.7 L911.6,960.8 L912.4,960.9 L913.2,960.2 L914.0,962.4 L914.8,963.5 L915.6,962.6 L916.4,962.3 L917.2,963.2 L918.0,963.1 L918.8,963.0 L919.6,963.0 L920.4,963.0 L921.2,963.1 L922.0,962.8 L922.8,964.5 L923.6,965.5 L924.4,966.4 L925.2,965.4 L926.0,964.6 L926.8,963.4 L927.6,963.3 L928.4,962.7 L929.2,961.1 L930.0,960.2 L930.8,959.9 L931.6,960.2 L932.4,959.9 L933.2,960.8 L934.0,959.5 L934.8,959.8 L935.6,959.9 L936.4,961.4 L937.2,959.4 L938.0,959.7 L938.8,960.5 L939.6,959.4 L940.4,958.5 L941.2,958.7 L942.0,960.1 L942.8,959.8 L943.6,959.0 L944.4,960.1 L945.2,960.0 L946.0,960.2 L946.8,960.5 L947.6,960.2 L948.4,958.9 L949.2,959.5 L950.0,959.7 L950.8,960.6 L951.6,960.0 L952.4,961.6 L953.2,961.5 L954.0,958.9 L954.8,961.5 L955.6,961.4 L956.4,963.9 L957.2,962.3 L958.0,961.9 L958.8,961.3 L959.6,962.2 L960.4,962.7 L961.2,960.2 L962.0,960.8 L962.8,960.0 L963.6,960.0 L964.4,961.6 L965.2,959.4 L966.0,961.3 L966.8,962.4 L967.6,963.5 L968.4,962.3 L969.2,962.8 L970.0,962.0 L970.8,960.7 L971.6,960.2 L972.4,961.1 L973.2,960.8 L974.0,960.1 L974.8,960.8 L975.6,961.5 L976.4,961.4 L977.2,962.6 L978.0,960.6 L978.8,962.2 L979.6,962.4 L980.4,960.4 L981.2,960.5 L982.0,958.3 L982.8,959.3 L983.6,958.2 L984.4,957.4 L985.2,958.7 L986.0,958.2 L986.8,955.8 L987.6,956.5 L988.4,957.3 L989.2,956.3 L990.0,955.8 L990.8,956.6 L991.6,956.7 L992.4,957.7 L993.2,957.3 L994.0,957.1 L994.8,958.3 L995.6,959.2 L996.4,959.1 L997.2,960.5 L998.0,960.8 L998.8,960.6 L999.6,959.5 L1000.4,957.7 L1001.2,958.3 L1002.0,957.0 L1002.8,955.6 L1003.6,956.1 L1004.4,956.2 L1005.2,958.5 L1006.0,959.3 L1006.8,958.5 L1007.6,958.5 L1008.4,959.9 L1009.2,959.3 L1010.0,960.7 L1010.8,960.9 L1011.6,960.2 L1012.4,959.8 L1013.2,960.2 L1014.0,960.3 L1014.8,961.2 L1015.6,960.3 L1016.4,961.6 L1017.2,961.8 L1018.0,962.5 L1018.8,960.2 L1019.6,960.0 L1020.4,959.2 L1021.2,957.8 L1022.0,958.2 L1022.8,957.6 L1023.6,956.4 L1024.4,956.4 L1025.2,957.2 L1026.0,956.4 L1026.8,955.4 L1027.6,957.0 L1028.4,956.8 L1029.2,958.1 L1030.0,957.1 L1030.8,955.5 L1031.6,955.7 L1032.4,957.1 L1033.2,958.1 L1034.0,956.5 L1034.8,956.5 L1035.6,954.6 L1036.4,953.6 L1037.2,953.9 L1038.0,954.2 L1038.8,956.3 L1039.6,955.8 L1040.4,957.6 L1041.2,960.1 L1042.0,958.4 L1042.8,957.4 L1043.6,957.9 L1044.4,956.6 L1045.2,955.6 L1046.0,955.1 L1046.8,955.8 L1047.6,955.9 L1048.4,956.1 L1049.2,956.9 L1050.0,957.5 L1050.8,957.6 L1051.6,959.0 L1052.4,960.6 L1053.2,963.1 L1054.0,963.2 L1054.8,962.6 L1055.6,960.9 L1056.4,958.2 L1057.2,958.5 L1058.0,957.9 L1058.8,958.0 L1059.6,957.7 L1060.4,955.5 L1061.2,956.4 L1062.0,955.7 L1062.8,955.3 L1063.6,954.5 L1064.4,955.1 L1065.2,954.7 L1066.0,953.5 L1066.8,954.3 L1067.6,955.6 L1068.4,956.5 L1069.2,958.9 L1070.0,959.4 L1070.8,961.1 L1071.6,961.7 L1072.4,961.8 L1073.2,960.0 L1074.0,962.1 L1074.8,962.0 L1075.6,960.9 L1076.4,960.8 L1077.2,961.4 L1078.0,959.9 L1078.8,957.8 L1079.6,958.8 L1080.4,959.5 L1081.2,959.4 L1082.0,959.8 L1082.8,959.6 L1083.6,959.2 L1084.4,959.3 L1085.2,958.7 L1086.0,956.4 L1086.8,955.6 L1087.6,957.2 L1088.4,958.1 L1089.2,961.3 L1090.0,961.7 L1090.8,963.2 L1091.6,961.1 L1092.4,960.9 L1093.2,961.1 L1094.0,960.6 L1094.8,961.4 L1095.6,960.7 L1096.4,958.9 L1097.2,958.5 L1098.0,958.8 L1098.8,958.0 L1099.6,958.6 L1100.4,957.0 L1101.2,956.9 L1102.0,957.9 L1102.8,958.0 L1103.6,956.6 L1104.4,957.1 L1105.2,956.5 L1106.0,957.2 L1106.8,956.6 L1107.6,954.4 L1108.4,954.1 L1109.2,952.7 L1110.0,953.2 L1110.8,953.7 L1111.6,952.5 L1112.4,949.8 L1113.2,947.0 L1114.0,945.7 L1114.8,943.2 L1115.6,940.2 L1116.4,938.8 L1117.2,935.8 L1118.0,933.0 L1118.8,930.7 L1119.6,928.4 L1120.4,928.7 L1121.2,929.1 L1122.0,927.7 L1122.8,926.9 L1123.6,924.4 L1124.4,924.2 L1125.2,922.1 L1126.0,921.0 L1126.8,921.6 L1127.6,918.9 L1128.4,918.5 L1129.2,917.1 L1130.0,916.6 L1130.8,914.8 L1131.6,917.0 L1132.4,917.1 L1133.2,916.8 L1134.0,919.2 L1134.8,920.0 L1135.6,921.0 L1136.4,922.1 L1137.2,923.3 L1138.0,923.3 L1138.8,924.9 L1139.6,925.6 L1140.4,927.2 L1141.2,925.1 L1142.0,927.1 L1142.8,925.3 L1143.6,923.3 L1144.4,920.6 L1145.2,920.8 L1146.0,917.8 L1146.8,917.9 L1147.6,916.5 L1148.4,916.6 L1149.2,915.5 L1150.0,915.7 L1150.8,913.5 L1151.6,913.6 L1152.4,913.1 L1153.2,913.2 L1154.0,912.7 L1154.8,913.9 L1155.6,914.9 L1156.4,915.5 L1157.2,917.1 L1158.0,917.7 L1158.8,918.8 L1159.6,917.3 L1160.4,917.0 L1161.2,916.8 L1162.0,917.1 L1162.8,917.9 L1163.6,920.5 L1164.4,921.2 L1165.2,922.4 L1166.0,925.0 L1166.8,928.2 L1167.6,928.9 L1168.4,932.3 L1169.2,934.5 L1170.0,936.6 L1170.8,936.4 L1171.6,940.3 L1172.4,941.7 L1173.2,943.8 L1174.0,946.5 L1174.8,951.1 L1175.6,954.5 L1176.4,954.7 L1177.2,958.0 L1178.0,959.4 L1178.8,959.3 L1179.6,959.4 L1180.4,958.9 L1181.2,958.9 L1182.0,961.4 L1182.8,960.3 L1183.6,961.7 L1184.4,963.0 L1185.2,962.7 L1186.0,963.3 L1186.8,963.8 L1187.6,962.7 L1188.4,963.3 L1189.2,963.9 L1190.0,964.2 L1190.8,963.3 L1191.6,963.6 L1192.4,963.8 L1193.2,964.0 L1194.0,965.0 L1194.8,964.7 L1195.6,962.7 L1196.4,962.6 L1197.2,963.6 L1198.0,962.4 L1198.8,961.7 L1199.6,961.4 L1200.4,961.0 L1201.2,961.1 L1202.0,959.7 L1202.8,960.5 L1203.6,961.6 L1204.4,962.0 L1205.2,962.0 L1206.0,961.9 L1206.8,960.9 L1207.6,963.2 L1208.4,962.4 L1209.2,962.4 L1210.0,962.5 L1210.8,963.5 L1211.6,961.9 L1212.4,961.9 L1213.2,961.6 L1214.0,960.9 L1214.8,961.7 L1215.6,962.7 L1216.4,962.1 L1217.2,961.9 L1218.0,962.1 L1218.8,963.1 L1219.6,963.0 L1220.4,962.4 L1221.2,962.4 L1222.0,962.0 L1222.8,963.4 L1223.6,962.0 L1224.4,961.2 L1225.2,961.5 L1226.0,961.1 L1226.8,960.5 L1227.6,959.1 L1228.4,960.2 L1229.2,958.2 L1230.0,957.6 L1230.8,958.4 L1231.6,957.2 L1232.4,954.9 L1233.2,955.8 L1234.0,956.3 L1234.8,956.4 L1235.6,954.7 L1236.4,956.2 L1237.2,955.4 L1238.0,955.7 L1238.8,955.7 L1239.6,957.5 L1240.4,959.0 L1241.2,959.5 L1242.0,960.8 L1242.8,960.1 L1243.6,961.5 L1244.4,961.2 L1245.2,962.8 L1246.0,963.2 L1246.8,962.5 L1247.6,962.8 L1248.4,963.2 L1249.2,962.7 L1250.0,963.7 L1250.8,962.7 L1251.6,962.9 L1252.4,963.4 L1253.2,961.2 L1254.0,961.9 L1254.8,959.1 L1255.6,958.9 L1256.4,957.5 L1257.2,955.3 L1258.0,955.1 L1258.8,954.8 L1259.6,955.4 L1260.4,954.7 L1261.2,953.6 L1262.0,952.9 L1262.8,952.8 L1263.6,953.3 L1264.4,951.0 L1265.2,950.0 L1266.0,948.9 L1266.8,947.3 L1267.6,945.1 L1268.4,942.2 L1269.2,940.6 L1270.0,936.6 L1270.8,934.4 L1271.6,931.5 L1272.4,929.1 L1273.2,926.9 L1274.0,924.7 L1274.8,924.6 L1275.6,922.2 L1276.4,921.3 L1277.2,919.9 L1278.0,919.7 L1278.8,917.6 L1279.6,917.9 L1280.4,918.5 L1281.2,917.6 L1282.0,915.5 L1282.8,915.5 L1283.6,917.3 L1284.4,916.5 L1285.2,916.3 L1286.0,916.4 L1286.8,916.3 L1287.6,916.8 L1288.4,917.7 L1289.2,917.9 L1290.0,918.0" fill="none" stroke="#058205" stroke-width="1.9" stroke-linejoin="round"/><path d="M776.4,931.0 L777.2,930.8 L778.0,930.3 L778.8,930.5 L779.6,931.8 L780.4,932.5 L781.2,933.2 L782.0,935.7 L782.8,938.0 L783.6,937.4 L784.4,938.5 L785.2,937.2 L786.0,937.5 L786.8,937.9 L787.6,937.4 L788.4,934.7 L789.2,934.5 L790.0,935.3 L790.8,937.6 L791.6,938.1 L792.4,937.8 L793.2,939.7 L794.0,939.2 L794.8,940.0 L795.6,941.7 L796.4,940.6 L797.2,941.8 L798.0,941.7 L798.8,943.8 L799.6,945.3 L800.4,945.5 L801.2,949.0 L802.0,948.0 L802.8,949.6 L803.6,949.3 L804.4,952.4 L805.2,953.0 L806.0,954.0 L806.8,954.8 L807.6,955.6 L808.4,957.3 L809.2,958.0 L810.0,961.7 L810.8,960.6 L811.6,960.7 L812.4,962.8 L813.2,961.9 L814.0,963.8 L814.8,966.7 L815.6,967.6 L816.4,967.7 L817.2,966.3 L818.0,966.0 L818.8,965.8 L819.6,966.8 L820.4,966.2 L821.2,965.6 L822.0,964.4 L822.8,963.9 L823.6,964.5 L824.4,963.5 L825.2,963.7 L826.0,960.4 L826.8,960.8 L827.6,959.5 L828.4,959.9 L829.2,960.2 L830.0,960.1 L830.8,959.0 L831.6,960.2 L832.4,961.7 L833.2,962.9 L834.0,963.4 L834.8,964.0 L835.6,963.1 L836.4,964.7 L837.2,963.1 L838.0,962.4 L838.8,962.0 L839.6,960.3 L840.4,961.7 L841.2,964.1 L842.0,963.1 L842.8,961.5 L843.6,960.3 L844.4,959.3 L845.2,958.6 L846.0,959.2 L846.8,958.3 L847.6,959.2 L848.4,959.6 L849.2,959.5 L850.0,961.6 L850.8,963.0 L851.6,962.7 L852.4,961.8 L853.2,963.0 L854.0,963.1 L854.8,963.2 L855.6,962.4 L856.4,962.9 L857.2,961.9 L858.0,962.5 L858.8,964.6 L859.6,964.9 L860.4,965.6 L861.2,965.3 L862.0,965.7 L862.8,966.8 L863.6,966.4 L864.4,964.9 L865.2,966.0 L866.0,965.4 L866.8,963.8 L867.6,965.0 L868.4,963.9 L869.2,963.5 L870.0,962.9 L870.8,963.3 L871.6,961.8 L872.4,962.7 L873.2,962.9 L874.0,964.4 L874.8,964.6 L875.6,964.9 L876.4,965.1 L877.2,964.3 L878.0,964.3 L878.8,962.5 L879.6,961.8 L880.4,961.4 L881.2,961.7 L882.0,960.8 L882.8,960.6 L883.6,957.9 L884.4,957.0 L885.2,952.9 L886.0,949.6 L886.8,947.1 L887.6,946.9 L888.4,947.5 L889.2,945.9 L890.0,944.0 L890.8,942.6 L891.6,941.1 L892.4,940.2 L893.2,940.1 L894.0,939.0 L894.8,937.6 L895.6,936.6 L896.4,935.4 L897.2,934.7 L898.0,930.3 L898.8,930.2 L899.6,927.0 L900.4,923.7 L901.2,921.5 L902.0,919.2 L902.8,917.9 L903.6,919.8 L904.4,918.0 L905.2,920.0 L906.0,920.7 L906.8,922.2 L907.6,922.1 L908.4,922.4 L909.2,922.8 L910.0,924.8 L910.8,922.5 L911.6,922.1 L912.4,921.1 L913.2,922.9 L914.0,923.6 L914.8,926.1 L915.6,926.6 L916.4,927.6 L917.2,927.4 L918.0,926.4 L918.8,925.8 L919.6,926.3 L920.4,926.7 L921.2,926.5 L922.0,926.9 L922.8,927.4 L923.6,927.3 L924.4,927.1 L925.2,925.5 L926.0,925.5 L926.8,922.6 L927.6,923.4 L928.4,922.4 L929.2,923.1 L930.0,924.6 L930.8,925.2 L931.6,925.7 L932.4,927.8 L933.2,930.1 L934.0,930.6 L934.8,932.4 L935.6,936.1 L936.4,937.9 L937.2,936.1 L938.0,935.7 L938.8,934.6 L939.6,936.2 L940.4,934.9 L941.2,934.7 L942.0,933.4 L942.8,934.1 L943.6,934.7 L944.4,935.6 L945.2,935.5 L946.0,937.2 L946.8,937.2 L947.6,938.8 L948.4,939.2 L949.2,940.9 L950.0,943.2 L950.8,945.0 L951.6,946.3 L952.4,944.9 L953.2,944.4 L954.0,943.8 L954.8,942.3 L955.6,941.2 L956.4,941.8 L957.2,941.2 L958.0,939.7 L958.8,939.1 L959.6,938.5 L960.4,937.9 L961.2,937.0 L962.0,937.1 L962.8,935.7 L963.6,935.9 L964.4,933.4 L965.2,932.5 L966.0,931.1 L966.8,928.3 L967.6,926.3 L968.4,923.2 L969.2,922.1 L970.0,919.9 L970.8,916.2 L971.6,917.5 L972.4,919.3 L973.2,917.3 L974.0,919.0 L974.8,917.6 L975.6,919.7 L976.4,919.8 L977.2,918.1 L978.0,918.0 L978.8,916.8 L979.6,916.5 L980.4,917.4 L981.2,917.7 L982.0,918.3 L982.8,919.7 L983.6,922.5 L984.4,922.8 L985.2,924.2 L986.0,922.9 L986.8,923.7 L987.6,924.0 L988.4,923.1 L989.2,923.5 L990.0,924.4 L990.8,924.1 L991.6,925.9 L992.4,925.1 L993.2,925.6 L994.0,925.8 L994.8,926.1 L995.6,924.7 L996.4,923.2 L997.2,921.1 L998.0,922.7 L998.8,923.6 L999.6,923.7 L1000.4,924.8 L1001.2,925.6 L1002.0,926.1 L1002.8,927.5 L1003.6,926.6 L1004.4,926.7 L1005.2,927.8 L1006.0,927.2 L1006.8,927.3 L1007.6,925.3 L1008.4,924.5 L1009.2,925.1 L1010.0,924.3 L1010.8,924.9 L1011.6,926.1 L1012.4,927.9 L1013.2,925.5 L1014.0,928.3 L1014.8,926.3 L1015.6,925.6 L1016.4,924.4 L1017.2,925.3 L1018.0,926.9 L1018.8,928.2 L1019.6,929.8 L1020.4,932.5 L1021.2,933.6 L1022.0,934.8 L1022.8,936.7 L1023.6,936.3 L1024.4,935.0 L1025.2,935.5 L1026.0,936.9 L1026.8,937.4 L1027.6,938.0 L1028.4,939.1 L1029.2,939.3 L1030.0,940.1 L1030.8,941.2 L1031.6,942.4 L1032.4,942.3 L1033.2,944.2 L1034.0,944.9 L1034.8,944.5 L1035.6,945.1 L1036.4,945.5 L1037.2,944.6 L1038.0,942.3 L1038.8,941.1 L1039.6,940.7 L1040.4,939.1 L1041.2,939.4 L1042.0,940.4 L1042.8,940.5 L1043.6,940.8 L1044.4,943.4 L1045.2,943.0 L1046.0,945.1 L1046.8,945.4 L1047.6,946.4 L1048.4,948.0 L1049.2,948.1 L1050.0,946.6 L1050.8,947.5 L1051.6,949.8 L1052.4,951.7 L1053.2,953.7 L1054.0,956.5 L1054.8,956.6 L1055.6,958.0 L1056.4,957.7 L1057.2,958.3 L1058.0,959.5 L1058.8,961.0 L1059.6,961.2 L1060.4,962.4 L1061.2,962.5 L1062.0,964.0 L1062.8,963.7 L1063.6,962.6 L1064.4,963.7 L1065.2,963.3 L1066.0,963.6 L1066.8,963.5 L1067.6,963.7 L1068.4,963.4 L1069.2,961.5 L1070.0,962.4 L1070.8,963.6 L1071.6,962.4 L1072.4,963.2 L1073.2,963.2 L1074.0,963.5 L1074.8,963.3 L1075.6,965.0 L1076.4,965.6 L1077.2,963.9 L1078.0,965.0 L1078.8,964.8 L1079.6,963.6 L1080.4,963.1 L1081.2,962.6 L1082.0,963.4 L1082.8,962.3 L1083.6,962.4 L1084.4,964.0 L1085.2,964.5 L1086.0,963.9 L1086.8,962.3 L1087.6,962.9 L1088.4,964.6 L1089.2,964.5 L1090.0,964.7 L1090.8,966.2 L1091.6,964.5 L1092.4,964.7 L1093.2,965.1 L1094.0,963.2 L1094.8,962.4 L1095.6,961.1 L1096.4,961.4 L1097.2,961.3 L1098.0,961.3 L1098.8,961.4 L1099.6,961.8 L1100.4,961.2 L1101.2,961.5 L1102.0,962.9 L1102.8,965.2 L1103.6,964.5 L1104.4,963.8 L1105.2,964.9 L1106.0,965.8 L1106.8,964.6 L1107.6,964.5 L1108.4,961.5 L1109.2,963.9 L1110.0,963.3 L1110.8,962.9 L1111.6,960.9 L1112.4,961.6 L1113.2,961.7 L1114.0,961.5 L1114.8,961.2 L1115.6,962.4 L1116.4,962.9 L1117.2,963.6 L1118.0,964.3 L1118.8,963.0 L1119.6,962.7 L1120.4,962.5 L1121.2,963.6 L1122.0,962.7 L1122.8,963.1 L1123.6,963.0 L1124.4,961.2 L1125.2,961.8 L1126.0,959.9 L1126.8,959.9 L1127.6,959.7 L1128.4,960.4 L1129.2,960.6 L1130.0,961.1 L1130.8,959.4 L1131.6,959.9 L1132.4,960.8 L1133.2,961.4 L1134.0,961.4 L1134.8,962.0 L1135.6,961.2 L1136.4,960.5 L1137.2,959.0 L1138.0,958.9 L1138.8,956.8 L1139.6,960.4 L1140.4,960.4 L1141.2,960.1 L1142.0,961.8 L1142.8,961.1 L1143.6,960.5 L1144.4,960.3 L1145.2,961.3 L1146.0,960.5 L1146.8,959.5 L1147.6,958.7 L1148.4,959.1 L1149.2,958.9 L1150.0,960.7 L1150.8,961.7 L1151.6,961.6 L1152.4,961.0 L1153.2,962.3 L1154.0,961.7 L1154.8,961.6 L1155.6,961.0 L1156.4,960.0 L1157.2,957.3 L1158.0,957.0 L1158.8,957.9 L1159.6,958.3 L1160.4,959.4 L1161.2,959.5 L1162.0,959.6 L1162.8,959.8 L1163.6,959.2 L1164.4,959.4 L1165.2,960.5 L1166.0,961.0 L1166.8,960.7 L1167.6,960.0 L1168.4,959.6 L1169.2,958.1 L1170.0,957.6 L1170.8,956.8 L1171.6,957.2 L1172.4,956.3 L1173.2,957.3 L1174.0,956.5 L1174.8,955.5 L1175.6,951.8 L1176.4,950.3 L1177.2,948.3 L1178.0,949.0 L1178.8,947.9 L1179.6,947.3 L1180.4,945.5 L1181.2,946.0 L1182.0,942.4 L1182.8,939.9 L1183.6,939.3 L1184.4,936.1 L1185.2,932.3 L1186.0,929.2 L1186.8,924.8 L1187.6,921.8 L1188.4,921.0 L1189.2,917.3 L1190.0,917.5 L1190.8,915.9 L1191.6,917.9 L1192.4,918.9 L1193.2,919.3 L1194.0,920.8 L1194.8,921.6 L1195.6,922.5 L1196.4,921.4 L1197.2,923.1 L1198.0,920.7 L1198.8,922.2 L1199.6,922.0 L1200.4,923.4 L1201.2,925.5 L1202.0,924.3 L1202.8,923.3 L1203.6,922.9 L1204.4,921.4 L1205.2,922.2 L1206.0,923.1 L1206.8,923.6 L1207.6,921.5 L1208.4,923.0 L1209.2,923.1 L1210.0,923.5 L1210.8,923.2 L1211.6,921.9 L1212.4,921.1 L1213.2,921.6 L1214.0,922.5 L1214.8,923.4 L1215.6,924.9 L1216.4,925.2 L1217.2,923.9 L1218.0,924.4 L1218.8,923.5 L1219.6,924.0 L1220.4,925.7 L1221.2,926.5 L1222.0,925.6 L1222.8,925.8 L1223.6,926.2 L1224.4,927.7 L1225.2,928.2 L1226.0,927.6 L1226.8,928.0 L1227.6,926.7 L1228.4,928.5 L1229.2,928.8 L1230.0,928.8 L1230.8,927.2 L1231.6,928.4 L1232.4,927.3 L1233.2,928.7 L1234.0,930.6 L1234.8,928.3 L1235.6,928.0 L1236.4,927.3 L1237.2,927.8 L1238.0,928.0 L1238.8,930.5 L1239.6,934.1 L1240.4,935.9 L1241.2,936.3 L1242.0,937.9 L1242.8,937.9 L1243.6,939.6 L1244.4,941.6 L1245.2,944.6 L1246.0,946.3 L1246.8,948.5 L1247.6,949.9 L1248.4,949.7 L1249.2,952.6 L1250.0,953.9 L1250.8,954.2 L1251.6,955.2 L1252.4,956.5 L1253.2,957.0 L1254.0,959.3 L1254.8,959.9 L1255.6,960.4 L1256.4,959.7 L1257.2,960.3 L1258.0,959.8 L1258.8,958.4 L1259.6,958.8 L1260.4,958.4 L1261.2,957.5 L1262.0,956.4 L1262.8,957.9 L1263.6,956.7 L1264.4,958.3 L1265.2,957.9 L1266.0,959.5 L1266.8,959.5 L1267.6,960.2 L1268.4,961.0 L1269.2,961.6 L1270.0,964.1 L1270.8,965.6 L1271.6,964.8 L1272.4,966.1 L1273.2,965.4 L1274.0,964.3 L1274.8,964.5 L1275.6,964.4 L1276.4,964.5 L1277.2,965.4 L1278.0,964.2 L1278.8,964.4 L1279.6,964.6 L1280.4,962.8 L1281.2,962.5 L1282.0,962.9 L1282.8,963.0 L1283.6,962.8 L1284.4,961.8 L1285.2,962.4 L1286.0,961.9 L1286.8,960.4 L1287.6,960.9 L1288.4,960.5 L1289.2,960.3 L1290.0,959.7" fill="none" stroke="#0505ff" stroke-width="1.9" stroke-linejoin="round"/><path d="M776.4,955.8 L777.2,955.6 L778.0,955.2 L778.8,955.0 L779.6,955.2 L780.4,954.6 L781.2,954.1 L782.0,953.0 L782.8,951.7 L783.6,951.3 L784.4,950.3 L785.2,950.4 L786.0,952.7 L786.8,952.0 L787.6,952.3 L788.4,953.7 L789.2,953.3 L790.0,955.1 L790.8,953.6 L791.6,954.7 L792.4,954.6 L793.2,955.2 L794.0,955.1 L794.8,955.7 L795.6,954.2 L796.4,954.3 L797.2,954.1 L798.0,954.2 L798.8,954.4 L799.6,952.5 L800.4,951.1 L801.2,948.7 L802.0,948.5 L802.8,947.2 L803.6,944.0 L804.4,943.5 L805.2,940.7 L806.0,940.1 L806.8,938.7 L807.6,937.6 L808.4,935.4 L809.2,932.6 L810.0,933.0 L810.8,931.8 L811.6,932.8 L812.4,930.3 L813.2,931.5 L814.0,930.2 L814.8,933.1 L815.6,935.0 L816.4,934.7 L817.2,936.9 L818.0,937.1 L818.8,938.7 L819.6,940.5 L820.4,939.2 L821.2,940.4 L822.0,942.7 L822.8,943.0 L823.6,945.5 L824.4,946.6 L825.2,947.1 L826.0,947.8 L826.8,948.2 L827.6,949.3 L828.4,949.2 L829.2,950.6 L830.0,950.9 L830.8,952.5 L831.6,953.6 L832.4,954.5 L833.2,955.5 L834.0,957.9 L834.8,957.7 L835.6,959.9 L836.4,959.0 L837.2,958.9 L838.0,959.9 L838.8,959.9 L839.6,962.1 L840.4,961.7 L841.2,962.5 L842.0,961.1 L842.8,962.3 L843.6,960.8 L844.4,961.2 L845.2,960.5 L846.0,961.5 L846.8,961.9 L847.6,962.2 L848.4,961.8 L849.2,962.5 L850.0,963.5 L850.8,961.4 L851.6,961.0 L852.4,961.6 L853.2,961.5 L854.0,960.6 L854.8,961.7 L855.6,961.1 L856.4,960.0 L857.2,959.2 L858.0,960.5 L858.8,960.2 L859.6,959.5 L860.4,960.6 L861.2,959.5 L862.0,960.7 L862.8,961.1 L863.6,961.0 L864.4,958.8 L865.2,961.9 L866.0,962.7 L866.8,964.3 L867.6,963.7 L868.4,961.9 L869.2,962.8 L870.0,964.1 L870.8,962.7 L871.6,963.3 L872.4,964.8 L873.2,963.4 L874.0,963.2 L874.8,961.3 L875.6,960.4 L876.4,961.1 L877.2,961.0 L878.0,959.7 L878.8,958.3 L879.6,957.0 L880.4,958.6 L881.2,960.0 L882.0,960.5 L882.8,960.9 L883.6,963.4 L884.4,962.6 L885.2,960.6 L886.0,960.5 L886.8,961.2 L887.6,961.0 L888.4,959.7 L889.2,959.5 L890.0,961.5 L890.8,959.3 L891.6,959.8 L892.4,961.6 L893.2,960.1 L894.0,959.6 L894.8,961.6 L895.6,961.1 L896.4,963.3 L897.2,963.0 L898.0,963.9 L898.8,966.1 L899.6,966.7 L900.4,965.1 L901.2,964.5 L902.0,962.3 L902.8,962.6 L903.6,961.0 L904.4,960.5 L905.2,959.7 L906.0,957.9 L906.8,958.2 L907.6,958.3 L908.4,958.1 L909.2,958.0 L910.0,958.6 L910.8,959.1 L911.6,958.1 L912.4,959.7 L913.2,959.9 L914.0,959.3 L914.8,959.9 L915.6,960.6 L916.4,959.5 L917.2,959.7 L918.0,959.5 L918.8,960.3 L919.6,961.3 L920.4,962.3 L921.2,963.0 L922.0,962.7 L922.8,962.8 L923.6,961.4 L924.4,960.3 L925.2,959.8 L926.0,958.9 L926.8,960.0 L927.6,961.2 L928.4,961.2 L929.2,960.7 L930.0,958.8 L930.8,958.9 L931.6,957.5 L932.4,957.3 L933.2,956.2 L934.0,955.1 L934.8,952.2 L935.6,951.8 L936.4,949.2 L937.2,949.3 L938.0,948.9 L938.8,951.0 L939.6,952.1 L940.4,952.1 L941.2,951.5 L942.0,950.4 L942.8,949.3 L943.6,951.6 L944.4,952.2 L945.2,951.0 L946.0,952.6 L946.8,951.8 L947.6,951.7 L948.4,951.3 L949.2,950.7 L950.0,949.8 L950.8,948.8 L951.6,948.0 L952.4,949.1 L953.2,948.8 L954.0,950.4 L954.8,951.6 L955.6,951.5 L956.4,952.7 L957.2,953.7 L958.0,953.9 L958.8,956.0 L959.6,955.3 L960.4,955.9 L961.2,956.7 L962.0,957.3 L962.8,957.3 L963.6,959.9 L964.4,958.9 L965.2,961.8 L966.0,960.8 L966.8,963.4 L967.6,961.9 L968.4,962.9 L969.2,962.0 L970.0,963.8 L970.8,965.2 L971.6,963.6 L972.4,963.1 L973.2,964.1 L974.0,963.7 L974.8,964.0 L975.6,964.1 L976.4,962.9 L977.2,962.1 L978.0,962.0 L978.8,962.8 L979.6,963.6 L980.4,963.6 L981.2,962.6 L982.0,962.7 L982.8,963.1 L983.6,962.7 L984.4,961.3 L985.2,961.5 L986.0,962.1 L986.8,962.2 L987.6,962.5 L988.4,961.9 L989.2,963.8 L990.0,963.3 L990.8,965.2 L991.6,966.8 L992.4,966.8 L993.2,967.2 L994.0,966.0 L994.8,964.6 L995.6,962.3 L996.4,961.7 L997.2,962.3 L998.0,962.1 L998.8,961.2 L999.6,960.1 L1000.4,960.7 L1001.2,959.3 L1002.0,958.3 L1002.8,957.7 L1003.6,956.1 L1004.4,957.3 L1005.2,956.4 L1006.0,957.1 L1006.8,956.5 L1007.6,957.5 L1008.4,958.4 L1009.2,959.9 L1010.0,961.9 L1010.8,962.2 L1011.6,962.1 L1012.4,962.2 L1013.2,962.1 L1014.0,965.2 L1014.8,964.8 L1015.6,965.3 L1016.4,967.3 L1017.2,968.5 L1018.0,968.0 L1018.8,965.5 L1019.6,964.3 L1020.4,963.0 L1021.2,960.7 L1022.0,961.0 L1022.8,961.1 L1023.6,960.7 L1024.4,959.2 L1025.2,959.6 L1026.0,960.1 L1026.8,960.9 L1027.6,959.4 L1028.4,959.5 L1029.2,960.3 L1030.0,959.7 L1030.8,960.4 L1031.6,959.7 L1032.4,960.2 L1033.2,959.9 L1034.0,959.4 L1034.8,958.7 L1035.6,957.6 L1036.4,957.7 L1037.2,956.9 L1038.0,956.0 L1038.8,956.8 L1039.6,955.6 L1040.4,956.5 L1041.2,956.4 L1042.0,956.6 L1042.8,956.8 L1043.6,956.1 L1044.4,955.3 L1045.2,954.9 L1046.0,953.5 L1046.8,953.7 L1047.6,950.8 L1048.4,946.5 L1049.2,943.8 L1050.0,941.4 L1050.8,939.5 L1051.6,936.4 L1052.4,934.4 L1053.2,934.3 L1054.0,931.9 L1054.8,930.9 L1055.6,931.2 L1056.4,930.8 L1057.2,929.7 L1058.0,929.5 L1058.8,929.9 L1059.6,930.4 L1060.4,928.5 L1061.2,927.6 L1062.0,928.3 L1062.8,928.5 L1063.6,926.3 L1064.4,925.6 L1065.2,922.7 L1066.0,924.7 L1066.8,924.0 L1067.6,922.3 L1068.4,921.3 L1069.2,919.9 L1070.0,920.5 L1070.8,919.1 L1071.6,919.5 L1072.4,919.9 L1073.2,918.6 L1074.0,918.4 L1074.8,917.6 L1075.6,917.7 L1076.4,917.9 L1077.2,920.6 L1078.0,919.9 L1078.8,923.5 L1079.6,923.6 L1080.4,923.2 L1081.2,926.4 L1082.0,928.0 L1082.8,928.7 L1083.6,928.2 L1084.4,929.8 L1085.2,929.5 L1086.0,929.1 L1086.8,931.0 L1087.6,932.6 L1088.4,934.9 L1089.2,937.1 L1090.0,937.4 L1090.8,937.4 L1091.6,938.1 L1092.4,938.3 L1093.2,939.5 L1094.0,940.8 L1094.8,940.7 L1095.6,941.3 L1096.4,941.6 L1097.2,941.5 L1098.0,942.5 L1098.8,942.9 L1099.6,941.0 L1100.4,939.8 L1101.2,939.8 L1102.0,939.8 L1102.8,937.5 L1103.6,939.2 L1104.4,939.2 L1105.2,941.1 L1106.0,941.7 L1106.8,944.0 L1107.6,944.3 L1108.4,947.5 L1109.2,948.0 L1110.0,950.4 L1110.8,952.4 L1111.6,953.3 L1112.4,953.6 L1113.2,953.9 L1114.0,953.4 L1114.8,954.7 L1115.6,955.1 L1116.4,956.7 L1117.2,956.8 L1118.0,958.6 L1118.8,958.4 L1119.6,959.2 L1120.4,960.0 L1121.2,961.0 L1122.0,962.2 L1122.8,963.6 L1123.6,963.5 L1124.4,962.5 L1125.2,963.2 L1126.0,963.0 L1126.8,963.9 L1127.6,962.4 L1128.4,961.8 L1129.2,963.3 L1130.0,963.2 L1130.8,963.4 L1131.6,962.7 L1132.4,961.8 L1133.2,961.6 L1134.0,961.5 L1134.8,962.0 L1135.6,961.6 L1136.4,962.9 L1137.2,964.3 L1138.0,963.7 L1138.8,964.4 L1139.6,964.5 L1140.4,964.1 L1141.2,962.0 L1142.0,961.6 L1142.8,963.1 L1143.6,963.5 L1144.4,964.4 L1145.2,964.8 L1146.0,964.5 L1146.8,965.6 L1147.6,966.1 L1148.4,965.1 L1149.2,965.4 L1150.0,966.0 L1150.8,964.9 L1151.6,965.1 L1152.4,965.2 L1153.2,965.2 L1154.0,964.5 L1154.8,965.3 L1155.6,965.6 L1156.4,965.6 L1157.2,966.9 L1158.0,965.5 L1158.8,964.2 L1159.6,962.6 L1160.4,962.0 L1161.2,961.8 L1162.0,963.4 L1162.8,962.9 L1163.6,961.5 L1164.4,962.2 L1165.2,962.6 L1166.0,961.8 L1166.8,963.5 L1167.6,961.0 L1168.4,960.6 L1169.2,960.3 L1170.0,959.7 L1170.8,959.5 L1171.6,958.3 L1172.4,957.9 L1173.2,959.4 L1174.0,958.4 L1174.8,960.0 L1175.6,960.3 L1176.4,960.9 L1177.2,961.2 L1178.0,961.4 L1178.8,961.1 L1179.6,961.8 L1180.4,960.9 L1181.2,962.3 L1182.0,962.0 L1182.8,961.7 L1183.6,962.4 L1184.4,964.5 L1185.2,965.0 L1186.0,964.4 L1186.8,964.5 L1187.6,967.0 L1188.4,964.9 L1189.2,964.3 L1190.0,963.4 L1190.8,962.3 L1191.6,961.5 L1192.4,960.9 L1193.2,961.8 L1194.0,960.3 L1194.8,961.5 L1195.6,962.7 L1196.4,961.2 L1197.2,962.2 L1198.0,961.6 L1198.8,961.5 L1199.6,961.6 L1200.4,960.8 L1201.2,960.9 L1202.0,962.5 L1202.8,962.3 L1203.6,961.4 L1204.4,962.3 L1205.2,961.4 L1206.0,961.7 L1206.8,963.3 L1207.6,963.0 L1208.4,962.3 L1209.2,963.7 L1210.0,964.5 L1210.8,963.3 L1211.6,962.2 L1212.4,962.6 L1213.2,962.7 L1214.0,959.8 L1214.8,960.4 L1215.6,962.0 L1216.4,962.4 L1217.2,960.4 L1218.0,959.8 L1218.8,960.2 L1219.6,961.2 L1220.4,959.8 L1221.2,960.9 L1222.0,959.4 L1222.8,959.1 L1223.6,959.1 L1224.4,957.7 L1225.2,957.8 L1226.0,956.4 L1226.8,956.8 L1227.6,958.6 L1228.4,959.2 L1229.2,959.5 L1230.0,959.8 L1230.8,960.4 L1231.6,959.7 L1232.4,959.1 L1233.2,960.0 L1234.0,960.9 L1234.8,960.7 L1235.6,961.3 L1236.4,961.7 L1237.2,959.4 L1238.0,960.9 L1238.8,960.6 L1239.6,959.3 L1240.4,959.8 L1241.2,959.1 L1242.0,957.6 L1242.8,956.7 L1243.6,956.4 L1244.4,954.6 L1245.2,952.0 L1246.0,951.5 L1246.8,947.9 L1247.6,947.7 L1248.4,946.1 L1249.2,943.1 L1250.0,944.2 L1250.8,942.8 L1251.6,940.9 L1252.4,940.3 L1253.2,939.2 L1254.0,939.1 L1254.8,940.9 L1255.6,937.7 L1256.4,937.9 L1257.2,939.0 L1258.0,939.3 L1258.8,940.0 L1259.6,940.6 L1260.4,942.6 L1261.2,943.5 L1262.0,944.7 L1262.8,946.3 L1263.6,947.7 L1264.4,947.7 L1265.2,947.3 L1266.0,947.4 L1266.8,950.5 L1267.6,951.4 L1268.4,954.1 L1269.2,954.2 L1270.0,955.4 L1270.8,957.3 L1271.6,956.2 L1272.4,958.8 L1273.2,959.6 L1274.0,958.6 L1274.8,961.0 L1275.6,962.1 L1276.4,960.7 L1277.2,962.2 L1278.0,962.5 L1278.8,962.4 L1279.6,961.9 L1280.4,960.8 L1281.2,961.3 L1282.0,960.3 L1282.8,961.5 L1283.6,960.5 L1284.4,961.8 L1285.2,962.2 L1286.0,960.2 L1286.8,959.9 L1287.6,961.6 L1288.4,959.1 L1289.2,958.8 L1290.0,959.8" fill="none" stroke="#ff0505" stroke-width="1.9" stroke-linejoin="round"/><rect x="774.30" y="867.80" width="516.40" height="157.50" fill="none" stroke="#000" stroke-width="4.6"/>
<g transform="translate(71.70,668.19) rotate(-90) scale(1.0388,1.1)"><text x="0.00" font-size="26.7" fill="#000" stroke="#000" stroke-width="0.2" xml:space="preserve">RC</text><path transform="translate(38.56,0) scale(0.01304,-0.01304)" d="M515 0H696V1409H560C520 1250 400 1165 210 1160V1035H515Z" fill="#000" stroke="#000" stroke-width="15.3"/></g><g transform="translate(71.70,597.21) rotate(-90) scale(0.9475,1.1)"><text font-size="26.7" fill="#000" stroke="#000" stroke-width="0.2" xml:space="preserve">z(t)</text></g><g transform="translate(71.70,835.62) rotate(-90) scale(1.0088,1.1)"><text font-size="26.7" fill="#000" stroke="#000" stroke-width="0.2" xml:space="preserve">RC2</text></g><g transform="translate(71.70,772.94) rotate(-90) scale(0.9699,1.1)"><text font-size="26.7" fill="#000" stroke="#000" stroke-width="0.2" xml:space="preserve">z(t)</text></g><g transform="translate(71.70,1017.23) rotate(-90) scale(1.0879,1.1)"><text font-size="26.7" fill="#000" stroke="#000" stroke-width="0.2" xml:space="preserve">output</text></g><g transform="translate(71.70,928.05) rotate(-90) scale(1.0095,1.1)"><text font-size="26.7" fill="#000" stroke="#000" stroke-width="0.2" xml:space="preserve">o(t)</text></g>
<g transform="translate(725.60,661.99) rotate(-90) scale(1.0388,1.1)"><text x="0.00" font-size="26.7" fill="#000" stroke="#000" stroke-width="0.2" xml:space="preserve">RC</text><path transform="translate(38.56,0) scale(0.01304,-0.01304)" d="M515 0H696V1409H560C520 1250 400 1165 210 1160V1035H515Z" fill="#000" stroke="#000" stroke-width="15.3"/></g><g transform="translate(725.60,591.01) rotate(-90) scale(0.9475,1.1)"><text font-size="26.7" fill="#000" stroke="#000" stroke-width="0.2" xml:space="preserve">z(t)</text></g><g transform="translate(725.60,829.42) rotate(-90) scale(1.0088,1.1)"><text font-size="26.7" fill="#000" stroke="#000" stroke-width="0.2" xml:space="preserve">RC2</text></g><g transform="translate(725.60,766.74) rotate(-90) scale(0.9699,1.1)"><text font-size="26.7" fill="#000" stroke="#000" stroke-width="0.2" xml:space="preserve">z(t)</text></g><g transform="translate(725.60,1011.03) rotate(-90) scale(1.0879,1.1)"><text font-size="26.7" fill="#000" stroke="#000" stroke-width="0.2" xml:space="preserve">output</text></g><g transform="translate(725.60,921.85) rotate(-90) scale(1.0095,1.1)"><text font-size="26.7" fill="#000" stroke="#000" stroke-width="0.2" xml:space="preserve">o(t)</text></g>
<g transform="translate(89.79,905.40) scale(1.3432,1)"><path transform="translate(0.00,0) scale(0.01562,-0.01562)" d="M515 0H696V1409H560C520 1250 400 1165 210 1160V1035H515Z" fill="#000" stroke="#000" stroke-width="22.4"/></g>
<g transform="translate(91.48,967.40) scale(1.0340,1)"><text font-size="32" fill="#000" stroke="#000" stroke-width="0.35" xml:space="preserve">0</text></g>
<g transform="translate(80.62,1030.90) scale(1.1647,1)"><text x="0.00" font-size="32" fill="#000" stroke="#000" stroke-width="0.35" xml:space="preserve">-</text><path transform="translate(10.66,0) scale(0.01562,-0.01562)" d="M515 0H696V1409H560C520 1250 400 1165 210 1160V1035H515Z" fill="#000" stroke="#000" stroke-width="22.4"/></g>
<g transform="translate(124.86,1064.80) scale(1.0471,1)"><text font-size="32" fill="#000" stroke="#000" stroke-width="0.35" xml:space="preserve">0</text></g>
<g transform="translate(339.24,1074.20) scale(1.0244,1)"><path transform="translate(0.00,0) scale(0.01562,-0.01562)" d="M515 0H696V1409H560C520 1250 400 1165 210 1160V1035H515Z" fill="#000" stroke="#000" stroke-width="22.4"/><text x="17.80" font-size="32" fill="#000" stroke="#000" stroke-width="0.35" xml:space="preserve">,000</text></g>
<g transform="translate(315.61,1120.70) scale(1.0539,1)"><text font-size="31" fill="#000" stroke="#000" stroke-width="0.35" xml:space="preserve">time [ms]</text></g>
<g transform="translate(744.79,898.80) scale(1.3432,1)"><path transform="translate(0.00,0) scale(0.01562,-0.01562)" d="M515 0H696V1409H560C520 1250 400 1165 210 1160V1035H515Z" fill="#000" stroke="#000" stroke-width="22.4"/></g>
<g transform="translate(745.28,961.20) scale(1.0340,1)"><text font-size="32" fill="#000" stroke="#000" stroke-width="0.35" xml:space="preserve">0</text></g>
<g transform="translate(735.45,1024.60) scale(1.1448,1)"><text x="0.00" font-size="32" fill="#000" stroke="#000" stroke-width="0.35" xml:space="preserve">-</text><path transform="translate(10.66,0) scale(0.01562,-0.01562)" d="M515 0H696V1409H560C520 1250 400 1165 210 1160V1035H515Z" fill="#000" stroke="#000" stroke-width="22.4"/></g>
<g transform="translate(773.93,1064.80) scale(1.0668,1)"><text font-size="32" fill="#000" stroke="#000" stroke-width="0.35" xml:space="preserve">0</text></g>
<g transform="translate(987.03,1073.40) scale(1.0270,1)"><path transform="translate(0.00,0) scale(0.01562,-0.01562)" d="M515 0H696V1409H560C520 1250 400 1165 210 1160V1035H515Z" fill="#000" stroke="#000" stroke-width="22.4"/><text x="17.80" font-size="32" fill="#000" stroke="#000" stroke-width="0.35" xml:space="preserve">,000</text></g>
<g transform="translate(964.31,1120.70) scale(1.0539,1)"><text font-size="31" fill="#000" stroke="#000" stroke-width="0.35" xml:space="preserve">time [ms]</text></g>
<rect x="1336.15" y="854.55" width="158.3" height="176.0" fill="#fff" stroke="#000" stroke-width="2.1"/>
<rect x="1346.7" y="886.9" width="24.5" height="10.3" fill="#0076ba"/>
<g transform="translate(1380.93,895.70) scale(1.0663,1)"><text x="0.00" font-size="31.5" fill="#000" stroke="#000" stroke-width="0.35" xml:space="preserve">node </text><path transform="translate(78.83,0) scale(0.01538,-0.01538)" d="M515 0H696V1409H560C520 1250 400 1165 210 1160V1035H515Z" fill="#000" stroke="#000" stroke-width="22.8"/></g>
<rect x="1346.7" y="940.9" width="24.5" height="10.3" fill="#1db100"/>
<g transform="translate(1380.98,955.10) scale(1.0431,1)"><text font-size="31.5" fill="#000" stroke="#000" stroke-width="0.35" xml:space="preserve">node 2</text></g>
<rect x="1346.7" y="995.9" width="24.5" height="10.3" fill="#ee220c"/>
<g transform="translate(1380.98,1009.70) scale(1.0458,1)"><text font-size="31.5" fill="#000" stroke="#000" stroke-width="0.35" xml:space="preserve">node 3</text></g>
</g>
</svg>
</body></html>
